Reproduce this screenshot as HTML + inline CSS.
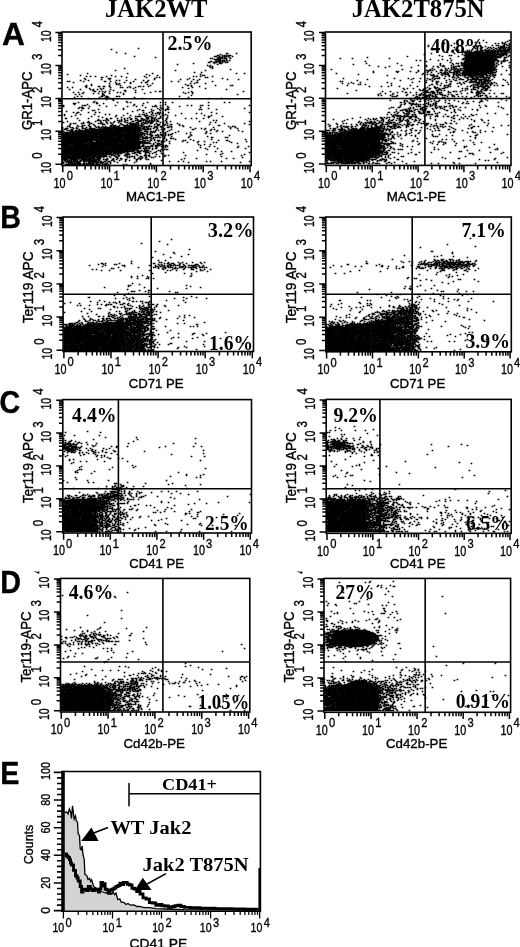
<!DOCTYPE html>
<html><head><meta charset="utf-8"><title>Figure</title>
<style>
html,body{margin:0;padding:0;background:#fff;}
body{width:520px;height:947px;overflow:hidden;}
svg{display:block;}
.f-sans{font-family:"Liberation Sans", sans-serif;stroke:#000;stroke-width:0.35px;}
.f-serif{font-family:"Liberation Serif", serif;}
text{fill:#000;}
</style></head><body>
<svg width="520" height="947" viewBox="0 0 520 947">
<rect width="520" height="947" fill="#fff"/>
<defs><clipPath id="cl1"><rect x="0" y="571.5" width="520" height="30"/></clipPath></defs>
<text class="f-serif" x="105" y="17.4" font-size="24.3" font-weight="bold" textLength="102.5" lengthAdjust="spacingAndGlyphs">JAK2WT</text>
<text class="f-serif" x="351.7" y="17.4" font-size="24.3" font-weight="bold" textLength="133" lengthAdjust="spacingAndGlyphs">JAK2T875N</text>
<text class="f-sans" transform="translate(2.0 44.6) scale(1.04 1)" font-size="30.5" font-weight="bold">A</text>
<text class="f-sans" transform="translate(0.2 227.8) scale(0.94 1)" font-size="30.5" font-weight="bold">B</text>
<text class="f-sans" transform="translate(-0.4 412.7) scale(0.94 1)" font-size="30.5" font-weight="bold">C</text>
<text class="f-sans" transform="translate(0.2 592.7) scale(0.94 1)" font-size="30.5" font-weight="bold">D</text>
<text class="f-sans" transform="translate(0.2 784.4) scale(0.94 1)" font-size="30.5" font-weight="bold">E</text>
<g>
<path d="M137.7 48.5h1.7m-28.7 1h1.7m3.3 3h1.7m7.3 1h1.7m99.3 0h2.7m7.3 0h1.7m-17.7 1h1.7m-4.7 1h2.7m2.3 0h1.7m0.3 0h1.7m0.3 0h1.7m0.3 0h3.7m-97.7 1h1.7m78.3 0h3.7m1.3 0h1.7m1.3 0h1.7m0.3 0h3.7m0.3 0h1.7m2.3 0h1.7m-78.7 1h1.7m61.3 0h1.7m0.3 0h3.7m0.3 0h1.7m3.3 0h1.7m-20.7 1h1.7m0.3 0h1.7m3.3 0h4.7m0.3 0h1.7m0.3 0h3.7m2.3 0h1.7m-17.7 1h3.7m0.3 0h3.7m4.3 0h1.7m-11.7 1h1.7m0.3 0h3.7m0.3 0h3.7m0.3 0h1.7m1.3 0h1.7m-20.7 1h2.7m2.3 0h6.7m0.3 0h1.7m0.3 0h1.7m1.3 0h1.7m-20.7 1h2.7m2.3 0h2.7m0.3 0h1.7m1.3 0h2.7m0.3 0h1.7m1.3 0h1.7m0.3 0h1.7m-35.7 1h1.7m19.3 0h1.7m3.3 0h3.7m-45.7 1h1.7m38.3 0h1.7m-11.7 1h1.7m1.3 0h1.7m-2.7 1h1.7m1.3 0h1.7m-3.7 1h1.7m0.3 0h1.7m-89.7 1h1.7m86.3 0h1.7m16.3 1h1.7m-116.7 1h1.7m58.3 0h1.7m28.3 0h1.7m-12.7 2h1.7m5.3 0h1.7m-115.7 1h1.7m38.3 0h1.7m23.3 0h1.7m82.3 0h1.7m6.3 0h1.7m-178.7 1h1.7m77.3 0h1.7m52.3 0h1.7m-121.7 1h1.7m29.3 0h1.7m36.3 0h1.7m6.3 0h1.7m43.3 0h1.7m0.3 0h1.7m-119.7 1h1.7m2.3 0h1.7m3.3 0h1.7m9.3 0h1.7m7.3 0h1.7m4.3 0h1.7m21.3 0h1.7m47.3 0h1.7m1.3 0h1.7m2.3 0h1.7m10.3 0h1.7m-112.7 1h2.7m22.3 0h1.7m18.3 0h1.7m8.3 0h1.7m1.3 0h1.7m44.3 0h1.7m0.3 0h1.7m-124.7 1h1.7m22.3 0h1.7m0.3 0h1.7m42.3 0h1.7m33.3 0h1.7m31.3 0h1.7m-138.7 1h1.7m14.3 0h1.7m6.3 0h1.7m24.3 0h1.7m17.3 0h1.7m24.3 0h1.7m5.3 0h1.7m4.3 0h1.7m4.3 0h1.7m26.3 0h1.7m9.3 0h1.7m-159.7 1h1.7m6.3 0h1.7m26.3 0h1.7m1.3 0h1.7m5.3 0h1.7m15.3 0h1.7m3.3 0h1.7m47.3 0h1.7m-131.7 1h1.7m0.3 0h1.7m12.3 0h1.7m19.3 0h2.7m3.3 0h1.7m21.3 0h1.7m12.3 0h1.7m22.3 0h1.7m5.3 0h1.7m11.3 0h1.7m19.3 0h1.7m-140.7 1h1.7m40.3 0h1.7m7.3 0h1.7m4.3 0h1.7m9.3 0h1.7m2.3 0h2.7m48.3 0h2.7m-89.7 1h1.7m5.3 0h1.7m1.3 0h1.7m9.3 0h1.7m20.3 0h1.7m36.3 0h1.7m2.3 0h1.7m9.3 0h1.7m-115.7 1h1.7m23.3 0h1.7m0.3 0h1.7m27.3 0h1.7m36.3 0h1.7m-100.7 1h1.7m3.3 0h1.7m16.3 0h1.7m9.3 0h1.7m28.3 0h1.7m35.3 0h2.7m1.3 0h1.7m22.3 0h1.7m13.3 0h1.7m0.3 0h1.7m-148.7 1h2.7m10.3 0h2.7m2.3 0h2.7m3.3 0h1.7m18.3 0h1.7m7.3 0h1.7m0.3 0h1.7m1.3 0h1.7m3.3 0h1.7m41.3 0h1.7m6.3 0h1.7m-133.7 1h1.7m3.3 0h1.7m12.3 0h1.7m22.3 0h1.7m8.3 0h1.7m0.3 0h1.7m3.3 0h1.7m1.3 0h1.7m3.3 0h1.7m45.3 0h1.7m8.3 0h1.7m-104.7 1h1.7m9.3 0h1.7m1.3 0h1.7m28.3 0h1.7m53.3 0h1.7m15.3 0h1.7m-137.7 1h1.7m9.3 0h1.7m8.3 0h1.7m1.3 0h1.7m2.3 0h1.7m2.3 0h1.7m7.3 0h1.7m30.3 0h1.7m82.3 0h1.7m-135.7 1h2.7m18.3 0h1.7m9.3 0h2.7m8.3 0h1.7m-42.7 1h2.7m2.3 0h1.7m1.3 0h1.7m1.3 0h1.7m2.3 0h1.7m14.3 0h1.7m28.3 0h1.7m2.3 0h2.7m29.3 0h1.7m50.3 0h1.7m-171.7 1h1.7m3.3 0h1.7m3.3 0h1.7m19.3 0h1.7m11.3 0h1.7m1.3 0h1.7m13.3 0h1.7m13.3 0h1.7m31.3 0h1.7m3.3 0h1.7m2.3 0h1.7m-111.7 1h1.7m9.3 0h1.7m3.3 0h1.7m2.3 0h1.7m5.3 0h1.7m12.3 0h1.7m19.3 0h1.7m39.3 0h1.7m5.3 0h1.7m-118.7 1h1.7m2.3 0h1.7m21.3 0h2.7m18.3 0h1.7m112.3 0h1.7m-136.7 1h1.7m0.3 0h1.7m85.3 0h1.7m-115.7 1h1.7m2.3 0h1.7m18.3 0h2.7m2.3 0h2.7m7.3 0h2.7m0.3 0h1.7m58.3 0h1.7m-106.7 1h1.7m23.3 0h1.7m4.3 0h2.7m0.3 0h1.7m24.3 0h1.7m52.3 0h1.7m-101.7 1h1.7m17.3 0h1.7m1.3 0h1.7m1.3 0h1.7m27.3 0h1.7m65.3 0h1.7m10.3 0h1.7m-116.7 1h1.7m4.3 0h1.7m-0.7 1h1.7m-20.7 1h1.7m30.3 0h1.7m-49.7 1h1.7m13.3 0h1.7m1.3 0h1.7m19.3 0h1.7m8.3 0h1.7m1.3 0h1.7m15.3 0h1.7m11.3 0h1.7m3.3 0h1.7m5.3 0h1.7m34.3 0h1.7m14.3 0h1.7m3.3 0h1.7m-157.7 1h3.7m19.3 0h2.7m4.3 0h1.7m38.3 0h1.7m-70.7 1h1.7m11.3 0h1.7m45.3 0h1.7m29.3 0h1.7m-103.7 1h1.7m17.3 0h1.7m0.3 0h2.7m12.3 0h1.7m14.3 0h1.7m16.3 0h1.7m7.3 0h1.7m11.3 0h1.7m3.3 0h1.7m25.3 0h1.7m2.3 0h1.7m7.3 0h1.7m0.3 0h1.7m4.3 0h1.7m39.3 0h1.7m-187.7 1h1.7m24.3 0h1.7m15.3 0h1.7m19.3 0h1.7m7.3 0h1.7m14.3 0h1.7m0.3 0h1.7m0.3 0h1.7m9.3 0h1.7m10.3 0h1.7m-101.7 1h1.7m0.3 0h2.7m61.3 0h1.7m13.3 0h1.7m6.3 0h1.7m30.3 0h1.7m-123.7 1h1.7m2.3 0h2.7m3.3 0h1.7m33.3 0h1.7m32.3 0h1.7m2.3 0h2.7m3.3 0h1.7m39.3 0h1.7m34.3 0h1.7m-147.7 1h1.7m23.3 0h1.7m14.3 0h1.7m10.3 0h1.7m6.3 0h1.7m4.3 0h1.7m0.3 0h2.7m29.3 0h1.7m0.3 0h1.7m13.3 0h1.7m-136.7 1h1.7m9.3 0h1.7m0.3 0h1.7m41.3 0h1.7m3.3 0h2.7m8.3 0h1.7m5.3 0h1.7m3.3 0h1.7m-100.7 1h1.7m64.3 0h1.7m17.3 0h1.7m-79.7 1h1.7m2.3 0h2.7m8.3 0h1.7m5.3 0h1.7m2.3 0h1.7m42.3 0h1.7m4.3 0h1.7m1.3 0h1.7m3.3 0h2.7m0.3 0h1.7m6.3 0h1.7m41.3 0h1.7m36.3 0h1.7m-174.7 1h1.7m49.3 0h1.7m17.3 0h1.7m4.3 0h1.7m1.3 0h1.7m0.3 0h1.7m0.3 0h1.7m1.3 0h1.7m17.3 0h1.7m13.3 0h1.7m3.3 0h1.7m13.3 0h1.7m-153.7 1h1.7m14.3 0h1.7m12.3 0h1.7m9.3 0h1.7m2.3 0h1.7m28.3 0h1.7m1.3 0h1.7m0.3 0h1.7m5.3 0h1.7m6.3 0h1.7m1.3 0h1.7m1.3 0h1.7m-102.7 1h1.7m9.3 0h1.7m39.3 0h1.7m5.3 0h1.7m5.3 0h1.7m12.3 0h1.7m0.3 0h2.7m4.3 0h1.7m1.3 0h1.7m4.3 0h2.7m2.3 0h1.7m6.3 0h1.7m27.3 0h1.7m5.3 0h1.7m-141.7 1h1.7m18.3 0h1.7m5.3 0h1.7m15.3 0h1.7m18.3 0h1.7m0.3 0h4.7m3.3 0h1.7m2.3 0h1.7m0.3 0h1.7m7.3 0h1.7m46.3 0h2.7m11.3 0h1.7m-121.7 1h1.7m17.3 0h1.7m6.3 0h1.7m15.3 0h3.7m1.3 0h2.7m1.3 0h1.7m3.3 0h1.7m5.3 0h1.7m39.3 0h1.7m-144.7 1h2.7m9.3 0h1.7m9.3 0h1.7m16.3 0h1.7m2.3 0h2.7m4.3 0h1.7m5.3 0h1.7m1.3 0h1.7m2.3 0h1.7m2.3 0h2.7m3.3 0h2.7m2.3 0h3.7m1.3 0h4.7m2.3 0h2.7m1.3 0h1.7m2.3 0h1.7m17.3 0h1.7m4.3 0h1.7m3.3 0h1.7m5.3 0h1.7m-106.7 1h1.7m6.3 0h2.7m12.3 0h1.7m1.3 0h1.7m4.3 0h2.7m4.3 0h1.7m2.3 0h1.7m0.3 0h2.7m1.3 0h1.7m2.3 0h1.7m1.3 0h1.7m0.3 0h1.7m8.3 0h1.7m-88.7 1h1.7m16.3 0h2.7m0.3 0h1.7m1.3 0h1.7m0.3 0h1.7m1.3 0h1.7m7.3 0h1.7m0.3 0h1.7m0.3 0h1.7m2.3 0h1.7m0.3 0h1.7m6.3 0h1.7m0.3 0h2.7m0.3 0h2.7m0.3 0h1.7m0.3 0h2.7m1.3 0h1.7m0.3 0h2.7m0.3 0h1.7m1.3 0h1.7m6.3 0h1.7m46.3 0h1.7m1.3 0h1.7m-150.7 1h1.7m19.3 0h1.7m5.3 0h1.7m3.3 0h1.7m4.3 0h1.7m6.3 0h1.7m3.3 0h1.7m0.3 0h1.7m1.3 0h1.7m6.3 0h2.7m3.3 0h3.7m4.3 0h4.7m0.3 0h1.7m0.3 0h1.7m1.3 0h1.7m0.3 0h1.7m6.3 0h1.7m2.3 0h1.7m27.3 0h1.7m48.3 0h1.7m-187.7 1h1.7m18.3 0h1.7m2.3 0h3.7m10.3 0h1.7m3.3 0h1.7m2.3 0h1.7m1.3 0h1.7m3.3 0h1.7m5.3 0h1.7m0.3 0h1.7m1.3 0h1.7m4.3 0h2.7m3.3 0h2.7m0.3 0h1.7m1.3 0h1.7m0.3 0h3.7m6.3 0h1.7m1.3 0h1.7m1.3 0h1.7m42.3 0h1.7m3.3 0h1.7m-146.7 1h1.7m1.3 0h1.7m0.3 0h1.7m4.3 0h1.7m0.3 0h1.7m4.3 0h1.7m0.3 0h1.7m5.3 0h1.7m0.3 0h1.7m0.3 0h1.7m3.3 0h1.7m2.3 0h1.7m7.3 0h1.7m7.3 0h1.7m0.3 0h3.7m0.3 0h1.7m0.3 0h2.7m1.3 0h1.7m1.3 0h4.7m1.3 0h2.7m3.3 0h1.7m9.3 0h1.7m8.3 0h1.7m45.3 0h1.7m18.3 0h1.7m-175.7 1h1.7m17.3 0h1.7m2.3 0h1.7m7.3 0h3.7m6.3 0h1.7m7.3 0h2.7m3.3 0h1.7m1.3 0h7.7m0.3 0h1.7m1.3 0h1.7m0.3 0h1.7m9.3 0h1.7m1.3 0h3.7m2.3 0h1.7m0.3 0h1.7m3.3 0h2.7m6.3 0h1.7m28.3 0h1.7m38.3 0h1.7m-181.7 1h1.7m6.3 0h1.7m3.3 0h1.7m0.3 0h1.7m2.3 0h1.7m4.3 0h1.7m14.3 0h2.7m0.3 0h1.7m0.3 0h1.7m2.3 0h1.7m2.3 0h5.7m0.3 0h10.7m0.3 0h3.7m5.3 0h1.7m6.3 0h2.7m4.3 0h1.7m1.3 0h1.7m10.3 0h1.7m1.3 0h1.7m34.3 0h2.7m-153.7 1h1.7m0.3 0h1.7m7.3 0h1.7m1.3 0h2.7m5.3 0h2.7m3.3 0h1.7m1.3 0h1.7m2.3 0h1.7m1.3 0h1.7m3.3 0h2.7m0.3 0h3.7m0.3 0h2.7m4.3 0h2.7m0.3 0h6.7m0.3 0h3.7m0.3 0h1.7m1.3 0h2.7m0.3 0h1.7m0.3 0h1.7m0.3 0h2.7m0.3 0h1.7m1.3 0h1.7m0.3 0h1.7m2.3 0h2.7m6.3 0h1.7m0.3 0h1.7m10.3 0h1.7m43.3 0h1.7m2.3 0h1.7m0.3 0h1.7m-173.7 1h1.7m6.3 0h1.7m0.3 0h1.7m2.3 0h1.7m4.3 0h1.7m2.3 0h1.7m2.3 0h1.7m4.3 0h1.7m0.3 0h2.7m0.3 0h1.7m0.3 0h7.7m0.3 0h30.7m1.3 0h2.7m0.3 0h2.7m5.3 0h2.7m0.3 0h1.7m2.3 0h1.7m4.3 0h2.7m1.3 0h1.7m17.3 0h1.7m21.3 0h1.7m15.3 0h1.7m3.3 0h1.7m-174.7 1h1.7m1.3 0h3.7m4.3 0h1.7m1.3 0h2.7m3.3 0h2.7m0.3 0h1.7m2.3 0h4.7m0.3 0h1.7m3.3 0h1.7m0.3 0h1.7m0.3 0h10.7m0.3 0h27.7m0.3 0h3.7m1.3 0h2.7m0.3 0h1.7m1.3 0h1.7m2.3 0h1.7m5.3 0h1.7m29.3 0h1.7m4.3 0h1.7m2.3 0h1.7m23.3 0h1.7m5.3 0h1.7m-174.7 1h1.7m0.3 0h1.7m3.3 0h2.7m5.3 0h1.7m4.3 0h3.7m0.3 0h1.7m0.3 0h8.7m0.3 0h41.7m1.3 0h6.7m0.3 0h1.7m4.3 0h1.7m3.3 0h1.7m0.3 0h2.7m5.3 0h1.7m19.3 0h2.7m9.3 0h1.7m5.3 0h1.7m1.3 0h1.7m-153.7 1h1.7m3.3 0h1.7m0.3 0h1.7m0.3 0h2.7m1.3 0h2.7m0.3 0h5.7m0.3 0h5.7m0.3 0h52.7m2.3 0h1.7m8.3 0h1.7m1.3 0h1.7m9.3 0h1.7m39.3 0h1.7m5.3 0h1.7m19.3 0h1.7m-176.7 1h1.7m5.3 0h4.7m0.3 0h63.7m0.3 0h1.7m3.3 0h4.7m1.3 0h2.7m0.3 0h1.7m0.3 0h1.7m5.3 0h2.7m2.3 0h1.7m9.3 0h1.7m26.3 0h1.7m8.3 0h1.7m4.3 0h1.7m18.3 0h1.7m-181.7 1h1.7m0.3 0h58.7m0.3 0h3.7m0.3 0h16.7m3.3 0h1.7m1.3 0h1.7m0.3 0h1.7m0.3 0h1.7m4.3 0h1.7m3.3 0h1.7m8.3 0h1.7m13.3 0h1.7m14.3 0h1.7m-145.7 1h2.7m0.3 0h6.7m0.3 0h15.7m0.3 0h35.7m0.3 0h15.7m0.3 0h1.7m0.3 0h3.7m0.3 0h1.7m2.3 0h1.7m12.3 0h2.7m5.3 0h1.7m12.3 0h1.7m17.3 0h1.7m3.3 0h1.7m-149.7 1h81.7m0.3 0h1.7m1.3 0h1.7m0.3 0h3.7m4.3 0h1.7m1.3 0h2.7m2.3 0h1.7m1.3 0h1.7m0.3 0h2.7m17.3 0h1.7m-129.7 1h36.7m0.3 0h33.7m0.3 0h7.7m0.3 0h1.7m1.3 0h1.7m4.3 0h1.7m0.3 0h1.7m1.3 0h2.7m0.3 0h1.7m1.3 0h1.7m0.3 0h1.7m0.3 0h1.7m1.3 0h1.7m21.3 0h1.7m36.3 0h1.7m-168.7 1h53.7m0.3 0h23.7m0.3 0h1.7m0.3 0h1.7m2.3 0h1.7m3.3 0h1.7m5.3 0h1.7m4.3 0h1.7m5.3 0h1.7m16.3 0h1.7m16.3 0h1.7m-146.7 1h61.7m0.3 0h17.7m0.3 0h2.7m0.3 0h3.7m0.3 0h2.7m1.3 0h1.7m0.3 0h1.7m0.3 0h1.7m0.3 0h2.7m2.3 0h1.7m22.3 0h1.7m21.3 0h2.7m11.3 0h1.7m0.3 0h1.7m-165.7 1h35.7m0.3 0h7.7m0.3 0h15.7m0.3 0h16.7m2.3 0h6.7m2.3 0h1.7m0.3 0h1.7m9.3 0h1.7m4.3 0h2.7m0.3 0h1.7m-111.7 1h78.7m0.3 0h1.7m6.3 0h1.7m2.3 0h1.7m7.3 0h1.7m1.3 0h1.7m7.3 0h1.7m13.3 0h1.7m19.3 0h1.7m32.3 0h1.7m-184.7 1h31.7m0.3 0h45.7m3.3 0h1.7m0.3 0h1.7m0.3 0h1.7m1.3 0h2.7m1.3 0h1.7m1.3 0h3.7m1.3 0h1.7m2.3 0h1.7m15.3 0h1.7m0.3 0h1.7m6.3 0h1.7m23.3 0h1.7m6.3 0h2.7m-166.7 1h26.7m0.3 0h4.7m2.3 0h7.7m0.3 0h26.7m0.3 0h12.7m0.3 0h1.7m3.3 0h1.7m7.3 0h1.7m1.3 0h4.7m3.3 0h1.7m11.3 0h1.7m14.3 0h1.7m4.3 0h1.7m23.3 0h1.7m15.3 0h1.7m-185.7 1h3.7m0.3 0h52.7m0.3 0h6.7m0.3 0h23.7m5.3 0h1.7m4.3 0h1.7m24.3 0h1.7m8.3 0h1.7m14.3 0h1.7m1.3 0h1.7m13.3 0h1.7m-170.7 1h22.7m0.3 0h2.7m0.3 0h33.7m0.3 0h19.7m0.3 0h1.7m0.3 0h1.7m0.3 0h2.7m0.3 0h2.7m1.3 0h1.7m2.3 0h3.7m1.3 0h1.7m5.3 0h1.7m66.3 0h1.7m-176.7 1h9.7m0.3 0h68.7m2.3 0h1.7m8.3 0h1.7m2.3 0h2.7m0.3 0h2.7m35.3 0h1.7m4.3 0h1.7m4.3 0h1.7m-149.7 1h6.7m0.3 0h3.7m0.3 0h15.7m0.3 0h51.7m1.3 0h2.7m6.3 0h2.7m1.3 0h3.7m0.3 0h1.7m1.3 0h2.7m0.3 0h2.7m32.3 0h1.7m-139.7 1h78.7m0.3 0h3.7m0.3 0h1.7m0.3 0h2.7m0.3 0h1.7m0.3 0h1.7m1.3 0h1.7m0.3 0h1.7m2.3 0h1.7m0.3 0h1.7m0.3 0h1.7m0.3 0h1.7m40.3 0h1.7m3.3 0h1.7m22.3 0h1.7m8.3 0h1.7m-186.7 1h78.7m3.3 0h2.7m1.3 0h1.7m5.3 0h1.7m4.3 0h1.7m1.3 0h1.7m33.3 0h1.7m35.3 0h1.7m-176.7 1h45.7m0.3 0h2.7m0.3 0h30.7m1.3 0h2.7m0.3 0h1.7m0.3 0h2.7m1.3 0h1.7m1.3 0h2.7m4.3 0h1.7m41.3 0h1.7m10.3 0h1.7m26.3 0h1.7m-184.7 1h1.7m0.3 0h34.7m0.3 0h37.7m0.3 0h1.7m5.3 0h1.7m0.3 0h1.7m4.3 0h1.7m7.3 0h1.7m1.3 0h1.7m0.3 0h2.7m38.3 0h1.7m-146.7 1h67.7m0.3 0h1.7m0.3 0h3.7m0.3 0h1.7m0.3 0h1.7m1.3 0h1.7m1.3 0h2.7m0.3 0h2.7m8.3 0h1.7m0.3 0h1.7m35.3 0h1.7m-136.7 1h61.7m0.3 0h10.7m2.3 0h4.7m1.3 0h5.7m1.3 0h1.7m4.3 0h1.7m2.3 0h1.7m53.3 0h1.7m4.3 0h1.7m8.3 0h1.7m-169.7 1h41.7m0.3 0h7.7m0.3 0h8.7m0.3 0h3.7m1.3 0h1.7m5.3 0h2.7m0.3 0h3.7m4.3 0h4.7m4.3 0h2.7m26.3 0h1.7m64.3 0h1.7m-188.7 1h50.7m0.3 0h3.7m0.3 0h2.7m0.3 0h2.7m3.3 0h1.7m0.3 0h1.7m2.3 0h1.7m0.3 0h1.7m3.3 0h2.7m3.3 0h1.7m2.3 0h1.7m1.3 0h1.7m7.3 0h1.7m59.3 0h1.7m-161.7 1h45.7m0.3 0h3.7m0.3 0h1.7m1.3 0h1.7m0.3 0h2.7m5.3 0h1.7m0.3 0h1.7m0.3 0h1.7m5.3 0h1.7m7.3 0h1.7m9.3 0h1.7m5.3 0h1.7m41.3 0h1.7m12.3 0h1.7m22.3 0h1.7m-183.7 1h1.7m0.3 0h6.7m0.3 0h20.7m0.3 0h5.7m0.3 0h4.7m0.3 0h2.7m0.3 0h1.7m3.3 0h1.7m0.3 0h2.7m2.3 0h2.7m3.3 0h2.7m0.3 0h1.7m8.3 0h1.7m5.3 0h1.7m0.3 0h1.7m0.3 0h2.7m14.3 0h1.7m1.3 0h1.7m15.3 0h1.7m54.3 0h1.7m-180.7 1h34.7m0.3 0h10.7m1.3 0h1.7m4.3 0h2.7m0.3 0h1.7m6.3 0h1.7m1.3 0h1.7m0.3 0h2.7m0.3 0h1.7m4.3 0h2.7m2.3 0h1.7m2.3 0h1.7m4.3 0h1.7m2.3 0h1.7m3.3 0h1.7m55.3 0h1.7m-160.7 1h23.7m0.3 0h2.7m0.3 0h2.7m0.3 0h3.7m0.3 0h5.7m1.3 0h1.7m5.3 0h1.7m4.3 0h2.7m8.3 0h1.7m0.3 0h1.7m3.3 0h1.7m3.3 0h1.7m1.3 0h1.7m2.3 0h1.7m3.3 0h1.7m0.3 0h1.7m87.3 0h1.7m-180.7 1h3.7m0.3 0h20.7m0.3 0h7.7m1.3 0h4.7m5.3 0h1.7m4.3 0h1.7m2.3 0h1.7m1.3 0h2.7m11.3 0h1.7m2.3 0h1.7m0.3 0h2.7m2.3 0h1.7m37.3 0h1.7m10.3 0h1.7m28.3 0h1.7m5.3 0h1.7m-172.7 1h6.7m1.3 0h7.7m0.3 0h1.7m1.3 0h11.7m0.3 0h7.7m2.3 0h1.7m0.3 0h3.7m3.3 0h2.7m1.3 0h1.7m3.3 0h1.7m2.3 0h2.7m8.3 0h2.7m1.3 0h1.7m4.3 0h1.7m0.3 0h1.7m31.3 0h1.7m-120.7 1h1.7m0.3 0h2.7m0.3 0h1.7m0.3 0h1.7m0.3 0h1.7m0.3 0h3.7m0.3 0h1.7m1.3 0h2.7m0.3 0h3.7m0.3 0h10.7m0.3 0h2.7m5.3 0h1.7m3.3 0h1.7m0.3 0h1.7m4.3 0h1.7m4.3 0h1.7m2.3 0h1.7m5.3 0h1.7m23.3 0h1.7m-100.7 1h1.7m1.3 0h1.7m0.3 0h5.7m0.3 0h2.7m0.3 0h2.7m0.3 0h2.7m1.3 0h2.7m0.3 0h1.7m0.3 0h9.7m0.3 0h1.7m0.3 0h2.7m1.3 0h2.7m1.3 0h2.7m3.3 0h1.7m9.3 0h1.7m9.3 0h1.7m31.3 0h1.7m7.3 0h1.7m3.3 0h1.7m21.3 0h1.7m2.3 0h1.7m9.3 0h1.7m26.3 0h1.7m-188.7 1h2.7m1.3 0h1.7m0.3 0h5.7m0.3 0h2.7m0.3 0h3.7m3.3 0h1.7m2.3 0h2.7m0.3 0h1.7m0.3 0h3.7m0.3 0h2.7m0.3 0h4.7m2.3 0h1.7m1.3 0h1.7m5.3 0h1.7m15.3 0h1.7m52.3 0h1.7m50.3 0h1.7m-179.7 1h2.7m3.3 0h1.7m0.3 0h3.7m0.3 0h1.7m0.3 0h5.7m1.3 0h2.7m0.3 0h1.7m0.3 0h6.7m1.3 0h2.7m1.3 0h1.7m0.3 0h1.7m1.3 0h2.7m2.3 0h1.7m38.3 0h1.7m-86.7 1h5.7m0.3 0h5.7m0.3 0h4.7m0.3 0h3.7m0.3 0h2.7m0.3 0h2.7m0.3 0h2.7m0.3 0h5.7m1.3 0h1.7m0.3 0h3.7m0.3 0h1.7m13.3 0h1.7m1.3 0h1.7m22.3 0h1.7" stroke="#000" stroke-width="1.7" fill="none"/>
<rect x="62" y="32" width="189.2" height="133.5" fill="none" stroke="#000" stroke-width="1.6"/>
<path d="M163 32V165.5M62 98.7H251.2" stroke="#000" stroke-width="1.6" fill="none"/>
<path d="M62.8 165.5v6.8M109.6 165.5v6.8M156.4 165.5v6.8M203.2 165.5v6.8M250.0 165.5v6.8M76.9 165.5v4M85.1 165.5v4M91.0 165.5v4M95.5 165.5v4M99.2 165.5v4M102.4 165.5v4M105.1 165.5v4M107.5 165.5v4M123.7 165.5v4M131.9 165.5v4M137.8 165.5v4M142.3 165.5v4M146.0 165.5v4M149.2 165.5v4M151.9 165.5v4M154.3 165.5v4M170.5 165.5v4M178.7 165.5v4M184.6 165.5v4M189.1 165.5v4M192.8 165.5v4M196.0 165.5v4M198.7 165.5v4M201.1 165.5v4M217.3 165.5v4M225.5 165.5v4M231.4 165.5v4M235.9 165.5v4M239.6 165.5v4M242.8 165.5v4M245.5 165.5v4M247.9 165.5v4M62 164.2h-6.6M62 131.3h-6.6M62 98.4h-6.6M62 65.5h-6.6M62 32.6h-6.6M62 154.3h-3.9M62 148.5h-3.9M62 144.4h-3.9M62 141.2h-3.9M62 138.6h-3.9M62 136.4h-3.9M62 134.5h-3.9M62 132.8h-3.9M62 121.4h-3.9M62 115.6h-3.9M62 111.5h-3.9M62 108.3h-3.9M62 105.7h-3.9M62 103.5h-3.9M62 101.6h-3.9M62 99.9h-3.9M62 88.5h-3.9M62 82.7h-3.9M62 78.6h-3.9M62 75.4h-3.9M62 72.8h-3.9M62 70.6h-3.9M62 68.7h-3.9M62 67.0h-3.9M62 55.6h-3.9M62 49.8h-3.9M62 45.7h-3.9M62 42.5h-3.9M62 39.9h-3.9M62 37.7h-3.9M62 35.8h-3.9M62 34.1h-3.9" stroke="#000" stroke-width="1.5" fill="none"/>
<text class="f-sans" x="53.6" y="187.7" font-size="14" textLength="12" lengthAdjust="spacingAndGlyphs">10</text>
<text class="f-sans" x="66.8" y="180.2" font-size="13.5" textLength="6.2" lengthAdjust="spacingAndGlyphs">0</text>
<text class="f-sans" x="100.4" y="187.7" font-size="14" textLength="12" lengthAdjust="spacingAndGlyphs">10</text>
<text class="f-sans" x="113.6" y="180.2" font-size="13.5" textLength="6.2" lengthAdjust="spacingAndGlyphs">1</text>
<text class="f-sans" x="147.2" y="187.7" font-size="14" textLength="12" lengthAdjust="spacingAndGlyphs">10</text>
<text class="f-sans" x="160.4" y="180.2" font-size="13.5" textLength="6.2" lengthAdjust="spacingAndGlyphs">2</text>
<text class="f-sans" x="194.0" y="187.7" font-size="14" textLength="12" lengthAdjust="spacingAndGlyphs">10</text>
<text class="f-sans" x="207.2" y="180.2" font-size="13.5" textLength="6.2" lengthAdjust="spacingAndGlyphs">3</text>
<text class="f-sans" x="240.8" y="187.7" font-size="14" textLength="12" lengthAdjust="spacingAndGlyphs">10</text>
<text class="f-sans" x="254.0" y="180.2" font-size="13.5" textLength="6.2" lengthAdjust="spacingAndGlyphs">4</text>
<text class="f-sans" transform="translate(50.6 173.6) rotate(-90)" font-size="14.6" textLength="11.7" lengthAdjust="spacingAndGlyphs">10</text>
<text class="f-sans" transform="translate(42.4 158.8) rotate(-90)" font-size="13.8" textLength="6.4" lengthAdjust="spacingAndGlyphs">0</text>
<text class="f-sans" transform="translate(50.6 140.7) rotate(-90)" font-size="14.6" textLength="11.7" lengthAdjust="spacingAndGlyphs">10</text>
<text class="f-sans" transform="translate(42.4 125.9) rotate(-90)" font-size="13.8" textLength="6.4" lengthAdjust="spacingAndGlyphs">1</text>
<text class="f-sans" transform="translate(50.6 107.8) rotate(-90)" font-size="14.6" textLength="11.7" lengthAdjust="spacingAndGlyphs">10</text>
<text class="f-sans" transform="translate(42.4 93.0) rotate(-90)" font-size="13.8" textLength="6.4" lengthAdjust="spacingAndGlyphs">2</text>
<text class="f-sans" transform="translate(50.6 74.9) rotate(-90)" font-size="14.6" textLength="11.7" lengthAdjust="spacingAndGlyphs">10</text>
<text class="f-sans" transform="translate(42.4 60.1) rotate(-90)" font-size="13.8" textLength="6.4" lengthAdjust="spacingAndGlyphs">3</text>
<text class="f-sans" transform="translate(50.6 42.0) rotate(-90)" font-size="14.6" textLength="11.7" lengthAdjust="spacingAndGlyphs">10</text>
<text class="f-sans" transform="translate(42.4 27.2) rotate(-90)" font-size="13.8" textLength="6.4" lengthAdjust="spacingAndGlyphs">4</text>
<text class="f-sans" x="126" y="201.3" font-size="13.2" textLength="59" lengthAdjust="spacingAndGlyphs">MAC1-PE</text>
<text class="f-sans" transform="translate(31.8 130) rotate(-90)" font-size="13.8" textLength="58.4" lengthAdjust="spacingAndGlyphs">GR1-APC</text>
<text class="f-serif" x="167.5" y="50" font-size="20" font-weight="bold" textLength="45" lengthAdjust="spacingAndGlyphs">2.5%</text>
</g>
<g>
<path d="M482.6 40.5h1.7m24.3 0h1.7m-3.7 1h1.7m-33.7 1h1.7m2.3 0h1.7m5.3 0h1.7m14.3 0h1.7m1.3 0h1.7m-62.7 1h1.7m8.3 0h1.7m23.3 0h1.7m14.3 0h1.7m1.3 0h1.7m2.3 0h1.7m0.3 0h1.7m3.3 0h1.7m-53.7 1h1.7m45.3 0h1.7m0.3 0h1.7m1.3 0h1.7m-82.7 1h1.7m21.3 0h1.7m13.3 0h1.7m7.3 0h2.7m2.3 0h1.7m10.3 0h1.7m2.3 0h1.7m0.3 0h1.7m3.3 0h2.7m1.3 0h1.7m0.3 0h1.7m-82.7 1h1.7m43.3 0h1.7m1.3 0h1.7m2.3 0h1.7m3.3 0h1.7m13.3 0h3.7m0.3 0h1.7m3.3 0h1.7m-56.7 1h1.7m18.3 0h1.7m6.3 0h1.7m4.3 0h1.7m0.3 0h1.7m1.3 0h1.7m3.3 0h1.7m0.3 0h5.7m0.3 0h1.7m0.3 0h2.7m-35.7 1h1.7m3.3 0h1.7m5.3 0h1.7m2.3 0h1.7m2.3 0h2.7m1.3 0h3.7m0.3 0h1.7m0.3 0h1.7m1.3 0h2.7m-78.7 1h1.7m21.3 0h1.7m15.3 0h1.7m11.3 0h1.7m2.3 0h1.7m2.3 0h1.7m2.3 0h1.7m0.3 0h2.7m1.3 0h3.7m0.3 0h3.7m-52.7 1h1.7m7.3 0h1.7m0.3 0h1.7m9.3 0h4.7m0.3 0h5.7m0.3 0h2.7m0.3 0h2.7m0.3 0h1.7m0.3 0h11.7m-47.7 1h1.7m0.3 0h1.7m0.3 0h1.7m0.3 0h1.7m3.3 0h4.7m0.3 0h1.7m0.3 0h2.7m1.3 0h1.7m0.3 0h2.7m0.3 0h13.7m0.3 0h5.7m-62.7 1h1.7m9.3 0h1.7m2.3 0h1.7m0.3 0h1.7m0.3 0h13.7m0.3 0h1.7m0.3 0h14.7m0.3 0h2.7m1.3 0h1.7m0.3 0h4.7m1.3 0h1.7m-79.7 1h1.7m21.3 0h1.7m9.3 0h3.7m0.3 0h16.7m0.3 0h10.7m0.3 0h2.7m0.3 0h6.7m0.3 0h1.7m-84.7 1h1.7m36.3 0h1.7m1.3 0h30.7m0.3 0h4.7m0.3 0h6.7m-68.7 1h1.7m8.3 0h1.7m0.3 0h1.7m11.3 0h33.7m1.3 0h5.7m1.3 0h1.7m1.3 0h1.7m-103.7 1h1.7m33.3 0h1.7m14.3 0h1.7m5.3 0h34.7m0.3 0h2.7m5.3 0h1.7m-142.7 1h1.7m96.3 0h29.7m0.3 0h1.7m0.3 0h4.7m2.3 0h3.7m-167.7 1h1.7m10.3 0h1.7m35.3 0h1.7m59.3 0h1.7m11.3 0h34.7m6.3 0h1.7m-75.7 1h1.7m10.3 0h1.7m18.3 0h2.7m0.3 0h32.7m6.3 0h1.7m-89.7 1h1.7m2.3 0h1.7m16.3 0h1.7m7.3 0h1.7m2.3 0h1.7m12.3 0h34.7m3.3 0h1.7m0.3 0h1.7m0.3 0h1.7m-143.7 1h1.7m59.3 0h1.7m36.3 0h31.7m2.3 0h1.7m1.3 0h1.7m0.3 0h2.7m-55.7 1h1.7m9.3 0h1.7m1.3 0h5.7m0.3 0h25.7m1.3 0h1.7m2.3 0h1.7m6.3 0h1.7m-144.7 1h1.7m29.3 0h1.7m41.3 0h1.7m10.3 0h1.7m2.3 0h1.7m0.3 0h1.7m1.3 0h33.7m1.3 0h1.7m3.3 0h1.7m-149.7 1h1.7m85.3 0h1.7m11.3 0h1.7m7.3 0h1.7m0.3 0h31.7m2.3 0h1.7m-130.7 1h1.7m30.3 0h1.7m15.3 0h1.7m6.3 0h1.7m12.3 0h1.7m1.3 0h1.7m6.3 0h1.7m5.3 0h1.7m1.3 0h1.7m0.3 0h32.7m0.3 0h1.7m11.3 0h1.7m-132.7 1h1.7m9.3 0h1.7m35.3 0h1.7m5.3 0h1.7m2.3 0h1.7m3.3 0h1.7m0.3 0h1.7m7.3 0h1.7m0.3 0h2.7m0.3 0h2.7m2.3 0h31.7m1.3 0h1.7m4.3 0h1.7m-118.7 1h1.7m24.3 0h1.7m25.3 0h1.7m11.3 0h1.7m0.3 0h2.7m8.3 0h32.7m12.3 0h1.7m-78.7 1h1.7m11.3 0h1.7m1.3 0h1.7m1.3 0h1.7m1.3 0h1.7m0.3 0h1.7m2.3 0h1.7m0.3 0h33.7m-164.7 1h1.7m69.3 0h1.7m26.3 0h1.7m2.3 0h1.7m5.3 0h1.7m3.3 0h1.7m3.3 0h1.7m0.3 0h1.7m0.3 0h1.7m0.3 0h2.7m0.3 0h1.7m2.3 0h33.7m-79.7 1h1.7m6.3 0h2.7m0.3 0h2.7m0.3 0h1.7m6.3 0h3.7m1.3 0h1.7m0.3 0h1.7m1.3 0h1.7m2.3 0h1.7m1.3 0h2.7m0.3 0h2.7m0.3 0h32.7m10.3 0h1.7m-134.7 1h1.7m21.3 0h1.7m0.3 0h1.7m10.3 0h1.7m6.3 0h1.7m8.3 0h1.7m6.3 0h1.7m7.3 0h1.7m2.3 0h1.7m3.3 0h6.7m2.3 0h1.7m0.3 0h28.7m2.3 0h1.7m-124.7 1h1.7m22.3 0h1.7m17.3 0h1.7m9.3 0h1.7m2.3 0h1.7m7.3 0h2.7m1.3 0h2.7m0.3 0h1.7m1.3 0h2.7m0.3 0h2.7m0.3 0h2.7m0.3 0h1.7m1.3 0h17.7m0.3 0h9.7m0.3 0h1.7m0.3 0h4.7m-160.7 1h1.7m85.3 0h1.7m13.3 0h1.7m2.3 0h4.7m0.3 0h2.7m3.3 0h2.7m0.3 0h2.7m1.3 0h1.7m0.3 0h22.7m0.3 0h2.7m0.3 0h5.7m-135.7 1h1.7m62.3 0h1.7m3.3 0h1.7m1.3 0h1.7m1.3 0h1.7m6.3 0h1.7m1.3 0h5.7m3.3 0h2.7m0.3 0h1.7m0.3 0h2.7m1.3 0h25.7m2.3 0h1.7m1.3 0h1.7m0.3 0h1.7m4.3 0h1.7m6.3 0h1.7m-123.7 1h1.7m42.3 0h4.7m1.3 0h1.7m3.3 0h1.7m4.3 0h2.7m2.3 0h1.7m1.3 0h1.7m0.3 0h1.7m0.3 0h1.7m0.3 0h1.7m0.3 0h3.7m0.3 0h5.7m0.3 0h2.7m0.3 0h2.7m0.3 0h4.7m1.3 0h2.7m0.3 0h1.7m1.3 0h1.7m0.3 0h2.7m-63.7 1h2.7m0.3 0h2.7m6.3 0h1.7m2.3 0h1.7m2.3 0h1.7m2.3 0h1.7m5.3 0h1.7m3.3 0h5.7m0.3 0h2.7m1.3 0h2.7m0.3 0h2.7m1.3 0h1.7m2.3 0h1.7m1.3 0h1.7m-61.7 1h1.7m4.3 0h1.7m11.3 0h1.7m0.3 0h1.7m2.3 0h1.7m5.3 0h1.7m0.3 0h2.7m1.3 0h3.7m1.3 0h3.7m0.3 0h5.7m0.3 0h4.7m3.3 0h1.7m-152.7 1h1.7m49.3 0h1.7m12.3 0h1.7m3.3 0h1.7m5.3 0h1.7m5.3 0h1.7m3.3 0h1.7m1.3 0h1.7m0.3 0h3.7m3.3 0h1.7m10.3 0h1.7m2.3 0h1.7m5.3 0h1.7m3.3 0h3.7m0.3 0h2.7m5.3 0h2.7m1.3 0h2.7m-123.7 1h1.7m42.3 0h1.7m16.3 0h2.7m2.3 0h1.7m13.3 0h1.7m2.3 0h1.7m4.3 0h1.7m0.3 0h3.7m3.3 0h1.7m0.3 0h1.7m0.3 0h13.7m0.3 0h1.7m0.3 0h1.7m2.3 0h1.7m9.3 0h1.7m-147.7 1h1.7m41.3 0h1.7m24.3 0h1.7m4.3 0h1.7m12.3 0h1.7m7.3 0h2.7m9.3 0h1.7m2.3 0h1.7m2.3 0h2.7m1.3 0h3.7m1.3 0h5.7m0.3 0h1.7m13.3 0h1.7m-166.7 1h1.7m0.3 0h1.7m75.3 0h1.7m11.3 0h1.7m2.3 0h1.7m0.3 0h1.7m10.3 0h2.7m12.3 0h2.7m2.3 0h1.7m0.3 0h1.7m0.3 0h1.7m0.3 0h1.7m1.3 0h1.7m0.3 0h1.7m0.3 0h3.7m0.3 0h1.7m0.3 0h1.7m-139.7 1h1.7m7.3 0h1.7m25.3 0h1.7m23.3 0h1.7m11.3 0h2.7m8.3 0h2.7m7.3 0h1.7m11.3 0h1.7m2.3 0h1.7m4.3 0h1.7m0.3 0h1.7m0.3 0h1.7m0.3 0h5.7m0.3 0h2.7m0.3 0h2.7m1.3 0h1.7m1.3 0h1.7m1.3 0h1.7m11.3 0h1.7m-166.7 1h1.7m4.3 0h1.7m3.3 0h1.7m36.3 0h1.7m43.3 0h1.7m3.3 0h1.7m7.3 0h1.7m5.3 0h1.7m1.3 0h1.7m2.3 0h1.7m11.3 0h3.7m0.3 0h1.7m0.3 0h3.7m0.3 0h2.7m0.3 0h1.7m0.3 0h1.7m2.3 0h1.7m-139.7 1h1.7m0.3 0h1.7m3.3 0h1.7m64.3 0h2.7m3.3 0h1.7m10.3 0h2.7m9.3 0h1.7m10.3 0h1.7m0.3 0h1.7m0.3 0h2.7m1.3 0h3.7m1.3 0h1.7m2.3 0h2.7m15.3 0h1.7m-162.7 1h1.7m42.3 0h1.7m17.3 0h1.7m17.3 0h1.7m9.3 0h1.7m2.3 0h1.7m0.3 0h1.7m0.3 0h1.7m21.3 0h1.7m0.3 0h1.7m1.3 0h2.7m1.3 0h1.7m0.3 0h1.7m1.3 0h3.7m1.3 0h1.7m2.3 0h1.7m1.3 0h1.7m3.3 0h2.7m-135.7 1h1.7m10.3 0h1.7m5.3 0h1.7m9.3 0h1.7m16.3 0h1.7m15.3 0h1.7m8.3 0h1.7m2.3 0h1.7m0.3 0h1.7m6.3 0h1.7m7.3 0h1.7m1.3 0h1.7m2.3 0h1.7m2.3 0h4.7m0.3 0h3.7m0.3 0h2.7m-62.7 1h1.7m5.3 0h2.7m0.3 0h1.7m6.3 0h1.7m0.3 0h1.7m24.3 0h3.7m0.3 0h2.7m2.3 0h1.7m0.3 0h1.7m2.3 0h2.7m-153.7 1h1.7m64.3 0h1.7m2.3 0h1.7m4.3 0h1.7m9.3 0h2.7m2.3 0h2.7m3.3 0h2.7m1.3 0h1.7m1.3 0h3.7m16.3 0h1.7m1.3 0h1.7m0.3 0h1.7m4.3 0h1.7m3.3 0h1.7m3.3 0h1.7m0.3 0h3.7m-84.7 1h1.7m13.3 0h1.7m2.3 0h1.7m4.3 0h1.7m7.3 0h3.7m25.3 0h1.7m2.3 0h1.7m0.3 0h3.7m4.3 0h2.7m1.3 0h3.7m-132.7 1h1.7m62.3 0h1.7m0.3 0h2.7m1.3 0h2.7m7.3 0h3.7m1.3 0h1.7m1.3 0h1.7m16.3 0h1.7m1.3 0h1.7m10.3 0h1.7m2.3 0h1.7m1.3 0h3.7m2.3 0h1.7m-109.7 1h1.7m6.3 0h1.7m10.3 0h1.7m21.3 0h1.7m0.3 0h1.7m2.3 0h3.7m2.3 0h1.7m9.3 0h1.7m3.3 0h2.7m0.3 0h1.7m2.3 0h1.7m9.3 0h1.7m4.3 0h2.7m0.3 0h2.7m-85.7 1h1.7m6.3 0h2.7m2.3 0h1.7m4.3 0h1.7m5.3 0h1.7m0.3 0h4.7m0.3 0h1.7m0.3 0h3.7m1.3 0h1.7m0.3 0h1.7m0.3 0h1.7m5.3 0h1.7m0.3 0h1.7m19.3 0h2.7m2.3 0h4.7m1.3 0h1.7m-136.7 1h1.7m31.3 0h1.7m3.3 0h1.7m6.3 0h1.7m26.3 0h1.7m9.3 0h3.7m3.3 0h2.7m19.3 0h1.7m4.3 0h1.7m7.3 0h1.7m0.3 0h1.7m0.3 0h1.7m1.3 0h2.7m3.3 0h1.7m3.3 0h1.7m5.3 0h1.7m0.3 0h1.7m-126.7 1h1.7m12.3 0h1.7m13.3 0h1.7m7.3 0h1.7m1.3 0h1.7m0.3 0h1.7m0.3 0h3.7m2.3 0h2.7m3.3 0h1.7m0.3 0h1.7m1.3 0h3.7m4.3 0h1.7m1.3 0h1.7m3.3 0h2.7m18.3 0h2.7m-101.7 1h1.7m1.3 0h1.7m7.3 0h1.7m5.3 0h1.7m7.3 0h1.7m5.3 0h1.7m4.3 0h2.7m1.3 0h1.7m1.3 0h3.7m0.3 0h1.7m0.3 0h1.7m1.3 0h1.7m5.3 0h1.7m0.3 0h2.7m5.3 0h2.7m21.3 0h2.7m1.3 0h1.7m0.3 0h1.7m1.3 0h2.7m-95.7 1h1.7m0.3 0h1.7m0.3 0h1.7m18.3 0h2.7m6.3 0h3.7m0.3 0h1.7m1.3 0h2.7m0.3 0h2.7m9.3 0h1.7m3.3 0h1.7m0.3 0h1.7m2.3 0h1.7m2.3 0h1.7m2.3 0h1.7m6.3 0h1.7m2.3 0h1.7m0.3 0h1.7m4.3 0h1.7m2.3 0h1.7m4.3 0h1.7m8.3 0h1.7m-92.7 1h1.7m0.3 0h1.7m0.3 0h1.7m1.3 0h5.7m1.3 0h1.7m4.3 0h1.7m0.3 0h1.7m3.3 0h1.7m0.3 0h1.7m25.3 0h1.7m14.3 0h1.7m20.3 0h1.7m-100.7 1h2.7m1.3 0h1.7m0.3 0h1.7m0.3 0h1.7m4.3 0h1.7m2.3 0h3.7m0.3 0h1.7m0.3 0h1.7m3.3 0h1.7m7.3 0h1.7m15.3 0h1.7m3.3 0h1.7m-61.7 1h1.7m5.3 0h1.7m1.3 0h1.7m4.3 0h1.7m2.3 0h1.7m33.3 0h1.7m14.3 0h1.7m2.3 0h1.7m14.3 0h1.7m-112.7 1h1.7m12.3 0h1.7m0.3 0h1.7m3.3 0h2.7m0.3 0h1.7m8.3 0h1.7m2.3 0h1.7m4.3 0h1.7m3.3 0h1.7m4.3 0h1.7m2.3 0h1.7m3.3 0h1.7m25.3 0h1.7m4.3 0h1.7m17.3 0h1.7m-103.7 1h1.7m1.3 0h1.7m3.3 0h2.7m4.3 0h2.7m3.3 0h1.7m4.3 0h1.7m3.3 0h1.7m0.3 0h1.7m18.3 0h1.7m7.3 0h1.7m4.3 0h1.7m5.3 0h1.7m0.3 0h1.7m-83.7 1h2.7m1.3 0h1.7m3.3 0h1.7m17.3 0h1.7m5.3 0h1.7m8.3 0h1.7m16.3 0h1.7m14.3 0h1.7m17.3 0h1.7m-94.7 1h1.7m2.3 0h2.7m0.3 0h2.7m1.3 0h1.7m8.3 0h1.7m0.3 0h1.7m3.3 0h1.7m0.3 0h2.7m10.3 0h2.7m11.3 0h1.7m2.3 0h1.7m0.3 0h1.7m-68.7 1h1.7m1.3 0h1.7m5.3 0h2.7m0.3 0h3.7m0.3 0h1.7m0.3 0h1.7m1.3 0h1.7m3.3 0h1.7m0.3 0h1.7m1.3 0h1.7m0.3 0h1.7m-36.7 1h1.7m9.3 0h1.7m5.3 0h1.7m5.3 0h1.7m3.3 0h1.7m0.3 0h1.7m1.3 0h2.7m12.3 0h1.7m0.3 0h1.7m25.3 0h1.7m4.3 0h1.7m-86.7 1h1.7m14.3 0h1.7m0.3 0h3.7m2.3 0h1.7m0.3 0h2.7m1.3 0h1.7m3.3 0h1.7m2.3 0h1.7m0.3 0h1.7m1.3 0h1.7m0.3 0h1.7m1.3 0h1.7m1.3 0h1.7m1.3 0h2.7m28.3 0h1.7m10.3 0h1.7m-108.7 1h1.7m0.3 0h1.7m3.3 0h2.7m9.3 0h1.7m1.3 0h1.7m7.3 0h3.7m9.3 0h1.7m0.3 0h1.7m1.3 0h1.7m2.3 0h1.7m7.3 0h1.7m5.3 0h1.7m3.3 0h1.7m13.3 0h1.7m19.3 0h1.7m-113.7 1h1.7m17.3 0h1.7m0.3 0h1.7m1.3 0h1.7m5.3 0h3.7m2.3 0h1.7m4.3 0h1.7m2.3 0h1.7m2.3 0h1.7m0.3 0h1.7m6.3 0h1.7m51.3 0h1.7m-108.7 1h1.7m5.3 0h1.7m0.3 0h2.7m1.3 0h1.7m4.3 0h1.7m0.3 0h1.7m1.3 0h1.7m0.3 0h1.7m0.3 0h2.7m6.3 0h1.7m9.3 0h1.7m8.3 0h1.7m2.3 0h1.7m12.3 0h1.7m3.3 0h1.7m-78.7 1h3.7m1.3 0h1.7m0.3 0h1.7m0.3 0h1.7m0.3 0h1.7m1.3 0h1.7m6.3 0h4.7m19.3 0h2.7m5.3 0h1.7m4.3 0h1.7m15.3 0h1.7m-82.7 1h1.7m8.3 0h2.7m0.3 0h4.7m4.3 0h2.7m2.3 0h1.7m2.3 0h3.7m3.3 0h1.7m18.3 0h1.7m-67.7 1h2.7m3.3 0h1.7m2.3 0h1.7m3.3 0h1.7m3.3 0h1.7m4.3 0h1.7m3.3 0h2.7m1.3 0h1.7m2.3 0h3.7m8.3 0h1.7m10.3 0h1.7m2.3 0h1.7m-59.7 1h1.7m5.3 0h1.7m0.3 0h2.7m0.3 0h1.7m8.3 0h1.7m0.3 0h3.7m10.3 0h1.7m0.3 0h1.7m48.3 0h1.7m6.3 0h1.7m-109.7 1h1.7m2.3 0h1.7m2.3 0h1.7m9.3 0h1.7m0.3 0h1.7m2.3 0h1.7m0.3 0h2.7m9.3 0h1.7m0.3 0h2.7m0.3 0h2.7m11.3 0h1.7m16.3 0h1.7m6.3 0h1.7m3.3 0h1.7m29.3 0h1.7m-115.7 1h2.7m0.3 0h3.7m0.3 0h1.7m2.3 0h1.7m0.3 0h2.7m3.3 0h1.7m1.3 0h1.7m9.3 0h1.7m8.3 0h2.7m15.3 0h1.7m1.3 0h1.7m13.3 0h2.7m-82.7 1h2.7m2.3 0h1.7m0.3 0h1.7m0.3 0h3.7m0.3 0h1.7m0.3 0h2.7m0.3 0h2.7m0.3 0h1.7m0.3 0h2.7m6.3 0h1.7m4.3 0h1.7m3.3 0h1.7m0.3 0h1.7m4.3 0h1.7m2.3 0h2.7m3.3 0h1.7m10.3 0h1.7m2.3 0h1.7m-110.7 1h1.7m18.3 0h2.7m1.3 0h1.7m1.3 0h1.7m0.3 0h1.7m3.3 0h1.7m4.3 0h1.7m2.3 0h1.7m3.3 0h3.7m2.3 0h2.7m33.3 0h1.7m8.3 0h1.7m-110.7 1h1.7m14.3 0h1.7m3.3 0h1.7m1.3 0h1.7m3.3 0h2.7m2.3 0h1.7m9.3 0h1.7m0.3 0h2.7m1.3 0h1.7m4.3 0h2.7m6.3 0h1.7m10.3 0h1.7m21.3 0h2.7m7.3 0h1.7m2.3 0h1.7m-135.7 1h1.7m12.3 0h1.7m16.3 0h1.7m3.3 0h1.7m1.3 0h1.7m0.3 0h1.7m5.3 0h2.7m4.3 0h1.7m2.3 0h1.7m4.3 0h2.7m1.3 0h1.7m2.3 0h1.7m3.3 0h1.7m1.3 0h1.7m3.3 0h1.7m13.3 0h1.7m22.3 0h1.7m10.3 0h1.7m8.3 0h1.7m-138.7 1h1.7m21.3 0h1.7m8.3 0h1.7m2.3 0h1.7m0.3 0h1.7m3.3 0h1.7m1.3 0h2.7m2.3 0h1.7m1.3 0h2.7m0.3 0h1.7m1.3 0h2.7m0.3 0h1.7m5.3 0h2.7m1.3 0h1.7m14.3 0h1.7m14.3 0h1.7m21.3 0h1.7m6.3 0h1.7m4.3 0h1.7m-147.7 1h1.7m15.3 0h1.7m9.3 0h2.7m1.3 0h1.7m3.3 0h1.7m2.3 0h1.7m4.3 0h1.7m9.3 0h2.7m4.3 0h2.7m4.3 0h1.7m7.3 0h1.7m29.3 0h1.7m18.3 0h1.7m-117.7 1h1.7m1.3 0h1.7m2.3 0h1.7m0.3 0h4.7m0.3 0h1.7m0.3 0h2.7m2.3 0h2.7m0.3 0h1.7m2.3 0h3.7m0.3 0h2.7m0.3 0h2.7m3.3 0h1.7m6.3 0h1.7m1.3 0h1.7m6.3 0h2.7m24.3 0h1.7m37.3 0h1.7m-149.7 1h1.7m5.3 0h1.7m1.3 0h1.7m12.3 0h1.7m1.3 0h1.7m1.3 0h1.7m1.3 0h1.7m0.3 0h3.7m1.3 0h1.7m0.3 0h1.7m2.3 0h1.7m3.3 0h1.7m0.3 0h1.7m0.3 0h1.7m2.3 0h1.7m0.3 0h1.7m8.3 0h2.7m11.3 0h1.7m0.3 0h1.7m1.3 0h1.7m0.3 0h1.7m6.3 0h1.7m8.3 0h1.7m2.3 0h2.7m3.3 0h1.7m30.3 0h1.7m-161.7 1h1.7m7.3 0h1.7m12.3 0h1.7m3.3 0h1.7m2.3 0h1.7m1.3 0h1.7m0.3 0h1.7m5.3 0h1.7m0.3 0h3.7m3.3 0h3.7m0.3 0h1.7m0.3 0h1.7m4.3 0h3.7m1.3 0h1.7m0.3 0h1.7m2.3 0h1.7m1.3 0h3.7m1.3 0h2.7m2.3 0h1.7m6.3 0h1.7m0.3 0h1.7m2.3 0h1.7m7.3 0h1.7m0.3 0h2.7m26.3 0h1.7m-142.7 1h1.7m9.3 0h1.7m14.3 0h1.7m3.3 0h3.7m0.3 0h1.7m0.3 0h1.7m1.3 0h1.7m2.3 0h2.7m2.3 0h2.7m5.3 0h1.7m3.3 0h2.7m0.3 0h1.7m4.3 0h1.7m2.3 0h2.7m2.3 0h2.7m12.3 0h1.7m6.3 0h1.7m0.3 0h1.7m31.3 0h1.7m16.3 0h1.7m12.3 0h1.7m5.3 0h1.7m-180.7 1h1.7m6.3 0h1.7m1.3 0h1.7m1.3 0h2.7m0.3 0h1.7m0.3 0h1.7m1.3 0h2.7m1.3 0h1.7m5.3 0h1.7m1.3 0h1.7m1.3 0h1.7m1.3 0h1.7m2.3 0h4.7m0.3 0h1.7m0.3 0h1.7m0.3 0h1.7m1.3 0h1.7m0.3 0h3.7m0.3 0h1.7m0.3 0h1.7m1.3 0h2.7m5.3 0h1.7m0.3 0h1.7m20.3 0h1.7m1.3 0h1.7m2.3 0h1.7m1.3 0h1.7m0.3 0h1.7m1.3 0h1.7m2.3 0h1.7m22.3 0h2.7m2.3 0h1.7m-142.7 1h1.7m2.3 0h1.7m2.3 0h1.7m0.3 0h1.7m2.3 0h1.7m8.3 0h4.7m1.3 0h1.7m2.3 0h2.7m0.3 0h1.7m0.3 0h6.7m1.3 0h1.7m4.3 0h2.7m1.3 0h1.7m1.3 0h2.7m0.3 0h1.7m4.3 0h1.7m13.3 0h1.7m14.3 0h1.7m4.3 0h1.7m6.3 0h1.7m18.3 0h2.7m19.3 0h1.7m-164.7 1h1.7m1.3 0h1.7m0.3 0h1.7m4.3 0h2.7m4.3 0h1.7m2.3 0h2.7m0.3 0h2.7m2.3 0h5.7m0.3 0h15.7m0.3 0h3.7m1.3 0h1.7m3.3 0h1.7m0.3 0h2.7m15.3 0h1.7m13.3 0h1.7m5.3 0h1.7m2.3 0h1.7m13.3 0h1.7m13.3 0h1.7m1.3 0h1.7m-139.7 1h2.7m2.3 0h5.7m0.3 0h1.7m2.3 0h1.7m0.3 0h2.7m0.3 0h2.7m0.3 0h2.7m0.3 0h6.7m0.3 0h1.7m0.3 0h13.7m1.3 0h1.7m0.3 0h2.7m0.3 0h3.7m18.3 0h1.7m18.3 0h1.7m16.3 0h2.7m4.3 0h1.7m-130.7 1h4.7m1.3 0h2.7m0.3 0h1.7m3.3 0h3.7m0.3 0h3.7m1.3 0h1.7m0.3 0h33.7m1.3 0h1.7m1.3 0h1.7m10.3 0h1.7m3.3 0h1.7m3.3 0h1.7m2.3 0h2.7m2.3 0h1.7m13.3 0h1.7m1.3 0h2.7m21.3 0h1.7m16.3 0h1.7m-148.7 1h1.7m4.3 0h2.7m1.3 0h3.7m0.3 0h33.7m0.3 0h3.7m4.3 0h1.7m1.3 0h1.7m11.3 0h1.7m25.3 0h1.7m19.3 0h2.7m16.3 0h1.7m11.3 0h1.7m5.3 0h1.7m-167.7 1h2.7m0.3 0h2.7m0.3 0h1.7m0.3 0h1.7m0.3 0h2.7m1.3 0h3.7m0.3 0h36.7m0.3 0h2.7m1.3 0h1.7m4.3 0h2.7m3.3 0h1.7m12.3 0h1.7m6.3 0h1.7m29.3 0h1.7m1.3 0h1.7m12.3 0h1.7m4.3 0h1.7m0.3 0h1.7m3.3 0h1.7m-155.7 1h2.7m0.3 0h2.7m0.3 0h1.7m1.3 0h2.7m0.3 0h7.7m0.3 0h35.7m0.3 0h3.7m0.3 0h2.7m1.3 0h1.7m14.3 0h1.7m1.3 0h1.7m7.3 0h1.7m-93.7 1h1.7m0.3 0h1.7m0.3 0h1.7m0.3 0h1.7m0.3 0h2.7m0.3 0h54.7m2.3 0h1.7m1.3 0h1.7m1.3 0h1.7m4.3 0h1.7m24.3 0h1.7m5.3 0h1.7m36.3 0h1.7m28.3 0h1.7m-182.7 1h59.7m2.3 0h1.7m2.3 0h1.7m6.3 0h1.7m3.3 0h1.7m4.3 0h1.7m2.3 0h1.7m15.3 0h1.7m12.3 0h1.7m4.3 0h1.7m21.3 0h2.7m-151.7 1h17.7m0.3 0h41.7m2.3 0h1.7m2.3 0h2.7m3.3 0h1.7m15.3 0h1.7m16.3 0h1.7m0.3 0h1.7m0.3 0h1.7m31.3 0h1.7m-145.7 1h6.7m0.3 0h53.7m5.3 0h2.7m80.3 0h1.7m-150.7 1h3.7m0.3 0h54.7m3.3 0h1.7m1.3 0h1.7m1.3 0h1.7m5.3 0h1.7m14.3 0h1.7m7.3 0h1.7m47.3 0h1.7m-150.7 1h32.7m0.3 0h28.7m2.3 0h1.7m50.3 0h1.7m2.3 0h1.7m4.3 0h1.7m-127.7 1h54.7m1.3 0h1.7m0.3 0h3.7m0.3 0h1.7m23.3 0h1.7m48.3 0h1.7m5.3 0h1.7m-145.7 1h54.7m1.3 0h1.7m1.3 0h2.7m3.3 0h1.7m19.3 0h1.7m3.3 0h1.7m14.3 0h1.7m4.3 0h1.7m0.3 0h1.7m11.3 0h1.7m-129.7 1h56.7m9.3 0h2.7m35.3 0h1.7m6.3 0h1.7m3.3 0h1.7m0.3 0h1.7m26.3 0h1.7m6.3 0h1.7m-156.7 1h54.7m0.3 0h5.7m0.3 0h2.7m0.3 0h2.7m0.3 0h1.7m0.3 0h1.7m3.3 0h1.7m17.3 0h1.7m11.3 0h1.7m11.3 0h1.7m9.3 0h1.7m-131.7 1h42.7m0.3 0h12.7m2.3 0h1.7m0.3 0h2.7m0.3 0h1.7m11.3 0h1.7m14.3 0h1.7m17.3 0h1.7m4.3 0h1.7m29.3 0h1.7m18.3 0h1.7m-169.7 1h11.7m0.3 0h44.7m0.3 0h1.7m2.3 0h2.7m10.3 0h1.7m53.3 0h1.7m-130.7 1h12.7m0.3 0h46.7m4.3 0h1.7m10.3 0h1.7m3.3 0h1.7m3.3 0h1.7m50.3 0h1.7m0.3 0h1.7m-141.7 1h1.7m0.3 0h55.7m0.3 0h1.7m1.3 0h1.7m2.3 0h1.7m41.3 0h1.7m28.3 0h1.7m23.3 0h1.7m-164.7 1h12.7m0.3 0h1.7m0.3 0h41.7m0.3 0h1.7m0.3 0h1.7m3.3 0h1.7m1.3 0h1.7m102.3 0h1.7m-172.7 1h54.7m2.3 0h2.7m8.3 0h1.7m2.3 0h1.7m0.3 0h1.7m0.3 0h1.7m7.3 0h1.7m21.3 0h1.7m2.3 0h1.7m55.3 0h1.7m0.3 0h1.7m-172.7 1h3.7m0.3 0h52.7m0.3 0h2.7m2.3 0h2.7m76.3 0h1.7m10.3 0h1.7m-154.7 1h58.7m1.3 0h1.7m71.3 0h1.7m0.3 0h1.7m-136.7 1h57.7m0.3 0h4.7m3.3 0h1.7m0.3 0h1.7m15.3 0h1.7m6.3 0h1.7m10.3 0h1.7m17.3 0h1.7m38.3 0h1.7m11.3 0h1.7m-178.7 1h52.7m0.3 0h2.7m0.3 0h1.7m2.3 0h2.7m9.3 0h1.7m8.3 0h1.7m59.3 0h2.7m0.3 0h1.7m27.3 0h1.7m-176.7 1h48.7m0.3 0h5.7m1.3 0h5.7m2.3 0h1.7m23.3 0h2.7m55.3 0h1.7m-148.7 1h31.7m0.3 0h21.7m0.3 0h2.7m5.3 0h1.7m-63.7 1h48.7m0.3 0h2.7m1.3 0h1.7m0.3 0h1.7m2.3 0h1.7m1.3 0h1.7m11.3 0h1.7m0.3 0h1.7m60.3 0h1.7m-140.7 1h40.7m0.3 0h6.7m0.3 0h2.7m0.3 0h2.7m5.3 0h1.7m1.3 0h1.7m4.3 0h1.7m46.3 0h1.7m63.3 0h1.7m-182.7 1h4.7m0.3 0h12.7m0.3 0h26.7m5.3 0h1.7m4.3 0h1.7m6.3 0h1.7m53.3 0h1.7m11.3 0h2.7m34.3 0h1.7m-170.7 1h1.7m0.3 0h5.7m0.3 0h34.7m0.3 0h1.7m0.3 0h5.7m3.3 0h1.7m0.3 0h3.7m0.3 0h1.7m9.3 0h2.7m79.3 0h1.7m13.3 0h1.7m-169.7 1h2.7m1.3 0h13.7m0.3 0h22.7m0.3 0h2.7m2.3 0h1.7m3.3 0h1.7m0.3 0h1.7m0.3 0h1.7m2.3 0h2.7m97.3 0h1.7m1.3 0h1.7m-163.7 1h1.7m6.3 0h1.7m1.3 0h8.7m0.3 0h8.7m1.3 0h4.7m0.3 0h3.7m1.3 0h1.7m1.3 0h1.7m6.3 0h1.7m5.3 0h2.7m15.3 0h1.7m10.3 0h1.7m-88.7 1h1.7m2.3 0h3.7m0.3 0h1.7m0.3 0h1.7m0.3 0h3.7m0.3 0h1.7m0.3 0h4.7m0.3 0h9.7m3.3 0h2.7m0.3 0h1.7m5.3 0h1.7m13.3 0h2.7m3.3 0h1.7m57.3 0h1.7m42.3 0h1.7m-172.7 1h6.7m0.3 0h1.7m1.3 0h1.7m0.3 0h1.7m1.3 0h9.7m0.3 0h2.7m0.3 0h2.7m1.3 0h3.7m1.3 0h1.7m3.3 0h2.7m1.3 0h1.7m1.3 0h3.7m0.3 0h1.7m5.3 0h1.7m3.3 0h1.7m13.3 0h1.7m23.3 0h1.7m5.3 0h1.7m14.3 0h1.7m3.3 0h1.7m14.3 0h1.7" stroke="#000" stroke-width="1.7" fill="none"/>
<rect x="325.5" y="32" width="185.5" height="133.4" fill="none" stroke="#000" stroke-width="1.6"/>
<path d="M424.9 32V165.4M325.5 98.5H511" stroke="#000" stroke-width="1.6" fill="none"/>
<path d="M326.3 165.4v6.8M372.2 165.4v6.8M418.1 165.4v6.8M463.9 165.4v6.8M509.8 165.4v6.8M340.1 165.4v4M348.2 165.4v4M353.9 165.4v4M358.4 165.4v4M362.0 165.4v4M365.1 165.4v4M367.7 165.4v4M370.1 165.4v4M386.0 165.4v4M394.1 165.4v4M399.8 165.4v4M404.2 165.4v4M407.9 165.4v4M410.9 165.4v4M413.6 165.4v4M416.0 165.4v4M431.9 165.4v4M439.9 165.4v4M445.7 165.4v4M450.1 165.4v4M453.7 165.4v4M456.8 165.4v4M459.5 165.4v4M461.8 165.4v4M477.7 165.4v4M485.8 165.4v4M491.5 165.4v4M496.0 165.4v4M499.6 165.4v4M502.7 165.4v4M505.4 165.4v4M507.7 165.4v4M325.5 164.1h-6.6M325.5 131.2h-6.6M325.5 98.3h-6.6M325.5 65.5h-6.6M325.5 32.6h-6.6M325.5 154.2h-3.9M325.5 148.4h-3.9M325.5 144.3h-3.9M325.5 141.1h-3.9M325.5 138.5h-3.9M325.5 136.3h-3.9M325.5 134.4h-3.9M325.5 132.7h-3.9M325.5 121.3h-3.9M325.5 115.5h-3.9M325.5 111.4h-3.9M325.5 108.2h-3.9M325.5 105.6h-3.9M325.5 103.4h-3.9M325.5 101.5h-3.9M325.5 99.9h-3.9M325.5 88.5h-3.9M325.5 82.7h-3.9M325.5 78.6h-3.9M325.5 75.4h-3.9M325.5 72.8h-3.9M325.5 70.6h-3.9M325.5 68.7h-3.9M325.5 67.0h-3.9M325.5 55.6h-3.9M325.5 49.8h-3.9M325.5 45.7h-3.9M325.5 42.5h-3.9M325.5 39.9h-3.9M325.5 37.7h-3.9M325.5 35.8h-3.9M325.5 34.1h-3.9" stroke="#000" stroke-width="1.5" fill="none"/>
<text class="f-sans" x="318.1" y="187.6" font-size="14" textLength="12" lengthAdjust="spacingAndGlyphs">10</text>
<text class="f-sans" x="331.3" y="180.1" font-size="13.5" textLength="6.2" lengthAdjust="spacingAndGlyphs">0</text>
<text class="f-sans" x="364.0" y="187.6" font-size="14" textLength="12" lengthAdjust="spacingAndGlyphs">10</text>
<text class="f-sans" x="377.2" y="180.1" font-size="13.5" textLength="6.2" lengthAdjust="spacingAndGlyphs">1</text>
<text class="f-sans" x="409.9" y="187.6" font-size="14" textLength="12" lengthAdjust="spacingAndGlyphs">10</text>
<text class="f-sans" x="423.1" y="180.1" font-size="13.5" textLength="6.2" lengthAdjust="spacingAndGlyphs">2</text>
<text class="f-sans" x="455.7" y="187.6" font-size="14" textLength="12" lengthAdjust="spacingAndGlyphs">10</text>
<text class="f-sans" x="468.9" y="180.1" font-size="13.5" textLength="6.2" lengthAdjust="spacingAndGlyphs">3</text>
<text class="f-sans" x="501.6" y="187.6" font-size="14" textLength="12" lengthAdjust="spacingAndGlyphs">10</text>
<text class="f-sans" x="514.8" y="180.1" font-size="13.5" textLength="6.2" lengthAdjust="spacingAndGlyphs">4</text>
<text class="f-sans" transform="translate(314.1 173.5) rotate(-90)" font-size="14.6" textLength="11.7" lengthAdjust="spacingAndGlyphs">10</text>
<text class="f-sans" transform="translate(305.9 158.7) rotate(-90)" font-size="13.8" textLength="6.4" lengthAdjust="spacingAndGlyphs">0</text>
<text class="f-sans" transform="translate(314.1 140.6) rotate(-90)" font-size="14.6" textLength="11.7" lengthAdjust="spacingAndGlyphs">10</text>
<text class="f-sans" transform="translate(305.9 125.8) rotate(-90)" font-size="13.8" textLength="6.4" lengthAdjust="spacingAndGlyphs">1</text>
<text class="f-sans" transform="translate(314.1 107.8) rotate(-90)" font-size="14.6" textLength="11.7" lengthAdjust="spacingAndGlyphs">10</text>
<text class="f-sans" transform="translate(305.9 93.0) rotate(-90)" font-size="13.8" textLength="6.4" lengthAdjust="spacingAndGlyphs">2</text>
<text class="f-sans" transform="translate(314.1 74.9) rotate(-90)" font-size="14.6" textLength="11.7" lengthAdjust="spacingAndGlyphs">10</text>
<text class="f-sans" transform="translate(305.9 60.1) rotate(-90)" font-size="13.8" textLength="6.4" lengthAdjust="spacingAndGlyphs">3</text>
<text class="f-sans" transform="translate(314.1 42.0) rotate(-90)" font-size="14.6" textLength="11.7" lengthAdjust="spacingAndGlyphs">10</text>
<text class="f-sans" transform="translate(305.9 27.2) rotate(-90)" font-size="13.8" textLength="6.4" lengthAdjust="spacingAndGlyphs">4</text>
<text class="f-sans" x="386.7" y="201.3" font-size="13.2" textLength="59.3" lengthAdjust="spacingAndGlyphs">MAC1-PE</text>
<text class="f-sans" transform="translate(295.5 130) rotate(-90)" font-size="13.8" textLength="58.4" lengthAdjust="spacingAndGlyphs">GR1-APC</text>
<text class="f-serif" x="430.6" y="53" font-size="20" font-weight="bold" textLength="53.8" lengthAdjust="spacingAndGlyphs">40.8%</text>
</g>
<g>
<path d="M170.7 239.5h1.7m-13.7 2h1.7m-19.7 2h1.7m24.3 1h1.7m20.3 5h1.7m-35.7 2h1.7m16.3 1h1.7m-0.7 1h1.7m-12.7 1h1.7m23.3 0h1.7m-8.7 2h1.7m-30.7 1h1.7m16.3 0h1.7m-13.7 3h1.7m5.3 0h1.7m-35.7 1h1.7m26.3 1h1.7m0.3 0h1.7m5.3 0h1.7m8.3 0h1.7m2.3 0h1.7m8.3 0h1.7m6.3 0h1.7m2.3 0h1.7m-104.7 1h2.7m1.3 0h1.7m12.3 0h1.7m10.3 0h1.7m20.3 0h2.7m8.3 0h1.7m1.3 0h2.7m1.3 0h3.7m5.3 0h1.7m4.3 0h1.7m13.3 0h1.7m-104.7 1h1.7m3.3 0h1.7m9.3 0h1.7m0.3 0h1.7m40.3 0h1.7m1.3 0h1.7m6.3 0h2.7m2.3 0h1.7m3.3 0h1.7m2.3 0h1.7m10.3 0h3.7m-109.7 1h1.7m14.3 0h1.7m15.3 0h1.7m0.3 0h1.7m23.3 0h1.7m4.3 0h1.7m2.3 0h1.7m1.3 0h1.7m0.3 0h1.7m1.3 0h2.7m0.3 0h2.7m0.3 0h1.7m0.3 0h1.7m0.3 0h1.7m0.3 0h1.7m3.3 0h1.7m2.3 0h2.7m0.3 0h1.7m0.3 0h3.7m1.3 0h1.7m3.3 0h1.7m-102.7 1h1.7m20.3 0h1.7m29.3 0h1.7m0.3 0h1.7m1.3 0h2.7m1.3 0h1.7m1.3 0h2.7m0.3 0h1.7m8.3 0h1.7m0.3 0h2.7m0.3 0h1.7m5.3 0h2.7m1.3 0h1.7m1.3 0h1.7m1.3 0h1.7m-85.7 1h1.7m18.3 0h1.7m13.3 0h1.7m0.3 0h1.7m1.3 0h1.7m3.3 0h3.7m1.3 0h1.7m0.3 0h1.7m0.3 0h1.7m1.3 0h1.7m2.3 0h1.7m0.3 0h2.7m1.3 0h1.7m1.3 0h1.7m0.3 0h2.7m0.3 0h3.7m2.3 0h2.7m0.3 0h1.7m0.3 0h1.7m0.3 0h1.7m-96.7 1h1.7m0.3 0h1.7m43.3 0h1.7m2.3 0h1.7m1.3 0h1.7m7.3 0h2.7m0.3 0h1.7m5.3 0h1.7m5.3 0h1.7m3.3 0h1.7m-105.7 1h1.7m2.3 0h1.7m65.3 0h1.7m7.3 0h1.7m9.3 0h1.7m6.3 0h3.7m5.3 0h1.7m2.3 0h1.7m4.3 0h1.7m-110.7 1h1.7m6.3 0h1.7m9.3 0h1.7m27.3 0h1.7m16.3 0h1.7m1.3 0h1.7m4.3 0h1.7m22.3 0h1.7m0.3 0h1.7m-7.7 1h1.7m9.3 0h1.7m-43.7 1h1.7m-14.7 1h1.7m30.3 0h1.7m5.3 0h1.7m-50.7 2h1.7m47.3 0h1.7m-61.7 1h1.7m4.3 0h1.7m8.3 0h1.7m41.3 0h1.7m-60.7 1h1.7m15.3 0h1.7m-12.7 1h1.7m7.3 0h1.7m0.3 0h1.7m3.3 0h1.7m-22.7 5h1.7m5.3 1h1.7m-12.7 1h1.7m0.3 0h1.7m54.3 0h1.7m-59.7 1h1.7m60.3 0h1.7m-87.7 1h1.7m38.3 0h1.7m54.3 0h1.7m-44.7 1h1.7m27.3 0h1.7m-60.7 1h1.7m10.3 1h1.7m7.3 0h2.7m-19.7 1h2.7m0.3 0h1.7m9.3 0h1.7m22.3 0h1.7m-53.7 1h1.7m29.3 0h1.7m25.3 0h1.7m0.3 0h1.7m-50.7 1h1.7m-15.7 2h1.7m8.3 0h1.7m23.3 1h1.7m40.3 0h1.7m-104.7 1h2.7m35.3 0h1.7m4.3 0h1.7m49.3 0h1.7m11.3 0h1.7m-82.7 1h1.7m6.3 0h1.7m4.3 0h1.7m2.3 0h1.7m39.3 0h1.7m10.3 0h1.7m18.3 0h1.7m-80.7 1h1.7m-29.7 1h1.7m28.3 0h1.7m35.3 0h1.7m15.3 0h1.7m-94.7 1h1.7m12.3 0h1.7m13.3 0h1.7m11.3 0h2.7m1.3 0h1.7m2.3 0h1.7m0.3 0h1.7m5.3 0h1.7m-80.7 1h1.7m25.3 0h1.7m10.3 0h1.7m2.3 0h1.7m0.3 0h1.7m2.3 0h1.7m24.3 0h2.7m0.3 0h1.7m35.3 0h1.7m-122.7 1h1.7m13.3 0h1.7m35.3 0h1.7m5.3 0h2.7m2.3 0h1.7m12.3 0h1.7m4.3 0h1.7m-52.7 1h1.7m2.3 0h1.7m3.3 0h1.7m0.3 0h1.7m0.3 0h2.7m7.3 0h1.7m0.3 0h1.7m3.3 0h1.7m19.3 0h2.7m1.3 0h2.7m2.3 0h1.7m-81.7 1h1.7m1.3 0h1.7m7.3 0h1.7m14.3 0h2.7m20.3 0h1.7m0.3 0h1.7m7.3 0h1.7m2.3 0h1.7m3.3 0h1.7m6.3 0h1.7m6.3 0h1.7m12.3 0h1.7m-66.7 1h2.7m8.3 0h1.7m6.3 0h1.7m5.3 0h1.7m1.3 0h1.7m5.3 0h1.7m5.3 0h1.7m7.3 0h1.7m-52.7 1h1.7m1.3 0h1.7m2.3 0h1.7m1.3 0h1.7m10.3 0h1.7m1.3 0h2.7m2.3 0h1.7m0.3 0h4.7m3.3 0h1.7m-71.7 1h1.7m12.3 0h1.7m0.3 0h1.7m23.3 0h1.7m0.3 0h1.7m0.3 0h3.7m6.3 0h1.7m0.3 0h3.7m0.3 0h3.7m2.3 0h1.7m-63.7 1h1.7m19.3 0h1.7m13.3 0h1.7m2.3 0h1.7m9.3 0h1.7m0.3 0h5.7m0.3 0h1.7m0.3 0h3.7m0.3 0h1.7m-28.7 1h1.7m5.3 0h1.7m6.3 0h1.7m1.3 0h3.7m1.3 0h1.7m0.3 0h1.7m14.3 0h1.7m-88.7 1h1.7m8.3 0h1.7m23.3 0h1.7m1.3 0h1.7m4.3 0h2.7m4.3 0h1.7m0.3 0h1.7m3.3 0h1.7m0.3 0h1.7m0.3 0h2.7m1.3 0h2.7m0.3 0h1.7m1.3 0h1.7m1.3 0h1.7m-93.7 1h1.7m43.3 0h1.7m15.3 0h1.7m1.3 0h1.7m0.3 0h2.7m0.3 0h3.7m3.3 0h1.7m0.3 0h1.7m1.3 0h4.7m0.3 0h2.7m6.3 0h1.7m-74.7 1h1.7m19.3 0h1.7m9.3 0h1.7m0.3 0h1.7m3.3 0h1.7m0.3 0h1.7m0.3 0h2.7m0.3 0h1.7m3.3 0h2.7m2.3 0h2.7m1.3 0h1.7m0.3 0h1.7m0.3 0h1.7m-56.7 1h1.7m12.3 0h2.7m1.3 0h1.7m4.3 0h1.7m2.3 0h1.7m0.3 0h4.7m0.3 0h1.7m0.3 0h4.7m0.3 0h3.7m0.3 0h5.7m0.3 0h2.7m0.3 0h1.7m1.3 0h1.7m0.3 0h1.7m-49.7 1h1.7m2.3 0h2.7m1.3 0h1.7m4.3 0h1.7m6.3 0h1.7m2.3 0h3.7m1.3 0h3.7m3.3 0h4.7m0.3 0h2.7m30.3 0h1.7m3.3 0h1.7m-108.7 1h1.7m4.3 0h1.7m8.3 0h2.7m2.3 0h1.7m3.3 0h2.7m0.3 0h1.7m1.3 0h1.7m4.3 0h1.7m6.3 0h6.7m0.3 0h2.7m1.3 0h4.7m0.3 0h3.7m2.3 0h2.7m26.3 0h1.7m-68.7 1h2.7m2.3 0h1.7m0.3 0h1.7m1.3 0h1.7m4.3 0h13.7m1.3 0h4.7m3.3 0h1.7m7.3 0h1.7m22.3 0h1.7m8.3 0h1.7m-112.7 1h1.7m5.3 0h1.7m10.3 0h2.7m1.3 0h2.7m0.3 0h1.7m3.3 0h2.7m0.3 0h1.7m1.3 0h2.7m0.3 0h1.7m0.3 0h3.7m0.3 0h5.7m0.3 0h1.7m0.3 0h2.7m1.3 0h3.7m0.3 0h5.7m1.3 0h1.7m0.3 0h1.7m3.3 0h1.7m16.3 0h1.7m-94.7 1h1.7m4.3 0h1.7m0.3 0h1.7m4.3 0h1.7m3.3 0h1.7m1.3 0h1.7m2.3 0h1.7m6.3 0h2.7m0.3 0h3.7m0.3 0h3.7m0.3 0h3.7m0.3 0h3.7m0.3 0h7.7m0.3 0h1.7m0.3 0h4.7m0.3 0h1.7m0.3 0h1.7m10.3 0h1.7m-88.7 1h1.7m4.3 0h1.7m2.3 0h1.7m2.3 0h1.7m0.3 0h1.7m1.3 0h1.7m2.3 0h1.7m0.3 0h1.7m1.3 0h2.7m0.3 0h3.7m0.3 0h1.7m0.3 0h2.7m0.3 0h5.7m1.3 0h11.7m0.3 0h3.7m0.3 0h1.7m1.3 0h3.7m3.3 0h3.7m27.3 0h1.7m-106.7 1h1.7m5.3 0h1.7m0.3 0h1.7m8.3 0h1.7m0.3 0h1.7m0.3 0h2.7m2.3 0h2.7m7.3 0h5.7m0.3 0h1.7m1.3 0h6.7m1.3 0h12.7m0.3 0h6.7m3.3 0h1.7m-81.7 1h2.7m2.3 0h1.7m5.3 0h1.7m0.3 0h1.7m0.3 0h2.7m1.3 0h1.7m5.3 0h1.7m0.3 0h7.7m0.3 0h28.7m0.3 0h6.7m2.3 0h1.7m51.3 0h1.7m-136.7 1h4.7m0.3 0h2.7m2.3 0h1.7m1.3 0h1.7m3.3 0h1.7m0.3 0h1.7m0.3 0h1.7m0.3 0h3.7m0.3 0h14.7m0.3 0h31.7m0.3 0h2.7m0.3 0h2.7m0.3 0h2.7m0.3 0h1.7m22.3 0h1.7m5.3 0h1.7m-121.7 1h1.7m0.3 0h1.7m0.3 0h3.7m0.3 0h1.7m0.3 0h1.7m1.3 0h1.7m1.3 0h1.7m0.3 0h1.7m1.3 0h6.7m0.3 0h5.7m0.3 0h38.7m0.3 0h6.7m5.3 0h1.7m0.3 0h1.7m43.3 0h2.7m-133.7 1h2.7m1.3 0h5.7m1.3 0h2.7m0.3 0h2.7m1.3 0h12.7m0.3 0h29.7m0.3 0h6.7m1.3 0h10.7m1.3 0h3.7m-83.7 1h16.7m0.3 0h27.7m0.3 0h17.7m1.3 0h4.7m1.3 0h3.7m0.3 0h3.7m0.3 0h1.7m0.3 0h1.7m4.3 0h2.7m10.3 0h1.7m23.3 0h1.7m1.3 0h1.7m2.3 0h1.7m-134.7 1h8.7m0.3 0h18.7m0.3 0h7.7m0.3 0h29.7m0.3 0h2.7m0.3 0h9.7m0.3 0h3.7m0.3 0h1.7m-84.7 1h65.7m0.3 0h6.7m0.3 0h9.7m0.3 0h2.7m1.3 0h2.7m0.3 0h1.7m-91.7 1h30.7m0.3 0h8.7m0.3 0h11.7m0.3 0h9.7m0.3 0h16.7m1.3 0h1.7m1.3 0h2.7m1.3 0h1.7m0.3 0h1.7m-90.7 1h1.7m0.3 0h61.7m1.3 0h12.7m0.3 0h1.7m0.3 0h4.7m1.3 0h1.7m4.3 0h1.7m12.3 0h1.7m-107.7 1h6.7m0.3 0h29.7m0.3 0h1.7m0.3 0h2.7m0.3 0h23.7m0.3 0h13.7m0.3 0h2.7m3.3 0h1.7m-87.7 1h73.7m0.3 0h1.7m0.3 0h1.7m0.3 0h3.7m4.3 0h4.7m12.3 0h1.7m56.3 0h1.7m-162.7 1h20.7m0.3 0h19.7m0.3 0h27.7m0.3 0h8.7m0.3 0h2.7m2.3 0h1.7m0.3 0h1.7m0.3 0h1.7m25.3 0h1.7m13.3 0h2.7m10.3 0h1.7m-143.7 1h28.7m1.3 0h11.7m0.3 0h5.7m0.3 0h1.7m0.3 0h10.7m0.3 0h7.7m0.3 0h2.7m1.3 0h10.7m0.3 0h1.7m0.3 0h1.7m0.3 0h2.7m3.3 0h1.7m32.3 0h1.7m8.3 0h1.7m-139.7 1h47.7m0.3 0h29.7m0.3 0h3.7m3.3 0h1.7m0.3 0h2.7m0.3 0h1.7m47.3 0h1.7m-140.7 1h61.7m0.3 0h2.7m0.3 0h3.7m0.3 0h7.7m0.3 0h2.7m2.3 0h3.7m1.3 0h1.7m-88.7 1h47.7m0.3 0h17.7m0.3 0h11.7m1.3 0h1.7m1.3 0h2.7m3.3 0h1.7m19.3 0h1.7m3.3 0h1.7m17.3 0h1.7m-134.7 1h60.7m0.3 0h4.7m0.3 0h11.7m0.3 0h6.7m2.3 0h1.7m18.3 0h1.7m19.3 0h1.7m26.3 0h1.7m-157.7 1h3.7m0.3 0h5.7m0.3 0h26.7m0.3 0h9.7m0.3 0h15.7m0.3 0h12.7m0.3 0h3.7m0.3 0h3.7m0.3 0h1.7m0.3 0h1.7m0.3 0h1.7m1.3 0h1.7m-92.7 1h82.7m0.3 0h1.7m0.3 0h2.7m2.3 0h1.7m-91.7 1h43.7m0.3 0h10.7m0.3 0h6.7m0.3 0h1.7m0.3 0h7.7m0.3 0h6.7m0.3 0h1.7m0.3 0h1.7m0.3 0h1.7m0.3 0h1.7m1.3 0h2.7m31.3 0h1.7m16.3 0h1.7m-141.7 1h18.7m0.3 0h56.7m0.3 0h4.7m4.3 0h1.7m1.3 0h1.7m3.3 0h1.7m-94.7 1h16.7m0.3 0h53.7m0.3 0h7.7m1.3 0h1.7m0.3 0h1.7m1.3 0h2.7m1.3 0h1.7m15.3 0h2.7m69.3 0h1.7m-179.7 1h3.7m0.3 0h9.7m0.3 0h51.7m0.3 0h2.7m0.3 0h6.7m0.3 0h8.7m0.3 0h3.7m2.3 0h1.7m2.3 0h1.7m7.3 0h1.7m33.3 0h1.7m-140.7 1h70.7m0.3 0h10.7m0.3 0h1.7m3.3 0h1.7m1.3 0h1.7m-91.7 1h20.7m0.3 0h37.7m0.3 0h5.7m0.3 0h10.7m0.3 0h5.7m0.3 0h1.7m2.3 0h1.7m0.3 0h3.7m28.3 0h1.7m18.3 0h1.7m-141.7 1h14.7m0.3 0h22.7m0.3 0h19.7m0.3 0h13.7m0.3 0h8.7m2.3 0h4.7m2.3 0h1.7m1.3 0h1.7m19.3 0h1.7m6.3 0h1.7m-123.7 1h5.7m0.3 0h30.7m0.3 0h32.7m0.3 0h3.7m0.3 0h7.7m31.3 0h1.7m-114.7 1h62.7m0.3 0h6.7m0.3 0h5.7m0.3 0h2.7m0.3 0h1.7m0.3 0h1.7m1.3 0h1.7m1.3 0h1.7m0.3 0h1.7m41.3 0h1.7m-133.7 1h82.7m0.3 0h4.7m0.3 0h2.7" stroke="#000" stroke-width="1.7" fill="none"/>
<rect x="63.1" y="217" width="190.4" height="134.5" fill="none" stroke="#000" stroke-width="1.6"/>
<path d="M151.2 217V351.5M63.1 294.2H253.5" stroke="#000" stroke-width="1.6" fill="none"/>
<path d="M63.9 351.5v6.8M111.0 351.5v6.8M158.1 351.5v6.8M205.2 351.5v6.8M252.3 351.5v6.8M78.1 351.5v4M86.4 351.5v4M92.3 351.5v4M96.8 351.5v4M100.6 351.5v4M103.7 351.5v4M106.4 351.5v4M108.8 351.5v4M125.2 351.5v4M133.5 351.5v4M139.4 351.5v4M143.9 351.5v4M147.7 351.5v4M150.8 351.5v4M153.5 351.5v4M155.9 351.5v4M172.3 351.5v4M180.6 351.5v4M186.5 351.5v4M191.0 351.5v4M194.8 351.5v4M197.9 351.5v4M200.6 351.5v4M203.0 351.5v4M219.4 351.5v4M227.7 351.5v4M233.6 351.5v4M238.1 351.5v4M241.9 351.5v4M245.0 351.5v4M247.7 351.5v4M250.1 351.5v4M63.1 350.2h-6.6M63.1 317.1h-6.6M63.1 283.9h-6.6M63.1 250.8h-6.6M63.1 217.6h-6.6M63.1 340.2h-3.9M63.1 334.4h-3.9M63.1 330.2h-3.9M63.1 327.0h-3.9M63.1 324.4h-3.9M63.1 322.2h-3.9M63.1 320.3h-3.9M63.1 318.6h-3.9M63.1 307.1h-3.9M63.1 301.2h-3.9M63.1 297.1h-3.9M63.1 293.9h-3.9M63.1 291.3h-3.9M63.1 289.0h-3.9M63.1 287.1h-3.9M63.1 285.4h-3.9M63.1 273.9h-3.9M63.1 268.1h-3.9M63.1 263.9h-3.9M63.1 260.7h-3.9M63.1 258.1h-3.9M63.1 255.9h-3.9M63.1 254.0h-3.9M63.1 252.3h-3.9M63.1 240.8h-3.9M63.1 234.9h-3.9M63.1 230.8h-3.9M63.1 227.6h-3.9M63.1 225.0h-3.9M63.1 222.7h-3.9M63.1 220.8h-3.9M63.1 219.1h-3.9" stroke="#000" stroke-width="1.5" fill="none"/>
<text class="f-sans" x="54.4" y="373.7" font-size="14" textLength="12" lengthAdjust="spacingAndGlyphs">10</text>
<text class="f-sans" x="67.6" y="366.2" font-size="13.5" textLength="6.2" lengthAdjust="spacingAndGlyphs">0</text>
<text class="f-sans" x="101.5" y="373.7" font-size="14" textLength="12" lengthAdjust="spacingAndGlyphs">10</text>
<text class="f-sans" x="114.7" y="366.2" font-size="13.5" textLength="6.2" lengthAdjust="spacingAndGlyphs">1</text>
<text class="f-sans" x="148.6" y="373.7" font-size="14" textLength="12" lengthAdjust="spacingAndGlyphs">10</text>
<text class="f-sans" x="161.8" y="366.2" font-size="13.5" textLength="6.2" lengthAdjust="spacingAndGlyphs">2</text>
<text class="f-sans" x="195.7" y="373.7" font-size="14" textLength="12" lengthAdjust="spacingAndGlyphs">10</text>
<text class="f-sans" x="208.9" y="366.2" font-size="13.5" textLength="6.2" lengthAdjust="spacingAndGlyphs">3</text>
<text class="f-sans" x="242.8" y="373.7" font-size="14" textLength="12" lengthAdjust="spacingAndGlyphs">10</text>
<text class="f-sans" x="256.0" y="366.2" font-size="13.5" textLength="6.2" lengthAdjust="spacingAndGlyphs">4</text>
<text class="f-sans" transform="translate(51.7 359.6) rotate(-90)" font-size="14.6" textLength="11.7" lengthAdjust="spacingAndGlyphs">10</text>
<text class="f-sans" transform="translate(43.5 344.8) rotate(-90)" font-size="13.8" textLength="6.4" lengthAdjust="spacingAndGlyphs">0</text>
<text class="f-sans" transform="translate(51.7 326.4) rotate(-90)" font-size="14.6" textLength="11.7" lengthAdjust="spacingAndGlyphs">10</text>
<text class="f-sans" transform="translate(43.5 311.6) rotate(-90)" font-size="13.8" textLength="6.4" lengthAdjust="spacingAndGlyphs">1</text>
<text class="f-sans" transform="translate(51.7 293.3) rotate(-90)" font-size="14.6" textLength="11.7" lengthAdjust="spacingAndGlyphs">10</text>
<text class="f-sans" transform="translate(43.5 278.5) rotate(-90)" font-size="13.8" textLength="6.4" lengthAdjust="spacingAndGlyphs">2</text>
<text class="f-sans" transform="translate(51.7 260.1) rotate(-90)" font-size="14.6" textLength="11.7" lengthAdjust="spacingAndGlyphs">10</text>
<text class="f-sans" transform="translate(43.5 245.3) rotate(-90)" font-size="13.8" textLength="6.4" lengthAdjust="spacingAndGlyphs">3</text>
<text class="f-sans" transform="translate(51.7 227.0) rotate(-90)" font-size="14.6" textLength="11.7" lengthAdjust="spacingAndGlyphs">10</text>
<text class="f-sans" transform="translate(43.5 212.2) rotate(-90)" font-size="13.8" textLength="6.4" lengthAdjust="spacingAndGlyphs">4</text>
<text class="f-sans" x="128.8" y="388.3" font-size="13.2" textLength="54.7" lengthAdjust="spacingAndGlyphs">CD71 PE</text>
<text class="f-sans" transform="translate(32.7 323.3) rotate(-90)" font-size="13.8" textLength="71.8" lengthAdjust="spacingAndGlyphs">Ter119 APC</text>
<text class="f-serif" x="207.8" y="237.2" font-size="20" font-weight="bold" textLength="45.7" lengthAdjust="spacingAndGlyphs">3.2%</text>
<text class="f-serif" x="209.1" y="349.6" font-size="20" font-weight="bold" textLength="44" lengthAdjust="spacingAndGlyphs">1.6%</text>
</g>
<g>
<path d="M469.6 238.5h1.7m-24.7 6h1.7m26.3 2h1.7m-56.7 1h1.7m9.3 4h2.7m18.3 1h1.7m-1.7 1h1.7m-49.7 2h1.7m35.3 0h1.7m-8.7 1h1.7m1.3 0h1.7m14.3 0h1.7m12.3 1h1.7m-76.7 2h1.7m40.3 0h1.7m5.3 0h1.7m0.3 0h1.7m4.3 0h2.7m0.3 0h1.7m5.3 0h1.7m-35.7 1h1.7m8.3 0h1.7m0.3 0h2.7m1.3 0h2.7m2.3 0h1.7m2.3 0h1.7m1.3 0h1.7m1.3 0h1.7m0.3 0h1.7m16.3 0h1.7m-111.7 1h1.7m33.3 0h1.7m6.3 0h1.7m10.3 0h1.7m1.3 0h1.7m7.3 0h1.7m1.3 0h1.7m1.3 0h1.7m2.3 0h5.7m1.3 0h1.7m1.3 0h1.7m1.3 0h1.7m1.3 0h2.7m0.3 0h1.7m1.3 0h4.7m0.3 0h1.7m3.3 0h1.7m-73.7 1h1.7m7.3 0h1.7m5.3 0h1.7m3.3 0h1.7m2.3 0h2.7m0.3 0h1.7m2.3 0h5.7m0.3 0h1.7m0.3 0h2.7m1.3 0h7.7m0.3 0h4.7m0.3 0h5.7m1.3 0h2.7m-103.7 1h2.7m52.3 0h1.7m0.3 0h1.7m0.3 0h1.7m0.3 0h1.7m5.3 0h1.7m0.3 0h2.7m0.3 0h1.7m1.3 0h1.7m0.3 0h2.7m0.3 0h5.7m0.3 0h3.7m1.3 0h3.7m1.3 0h1.7m2.3 0h3.7m1.3 0h1.7m0.3 0h1.7m-128.7 1h2.7m29.3 0h1.7m37.3 0h1.7m0.3 0h1.7m0.3 0h1.7m0.3 0h1.7m0.3 0h1.7m0.3 0h1.7m0.3 0h4.7m0.3 0h3.7m0.3 0h1.7m0.3 0h3.7m1.3 0h16.7m0.3 0h1.7m0.3 0h2.7m0.3 0h5.7m1.3 0h1.7m-143.7 1h1.7m41.3 0h1.7m4.3 0h1.7m27.3 0h2.7m11.3 0h1.7m1.3 0h1.7m1.3 0h1.7m0.3 0h2.7m0.3 0h2.7m0.3 0h1.7m1.3 0h1.7m0.3 0h1.7m0.3 0h1.7m1.3 0h2.7m1.3 0h2.7m1.3 0h3.7m0.3 0h4.7m0.3 0h3.7m3.3 0h2.7m-134.7 1h1.7m12.3 0h1.7m4.3 0h1.7m18.3 0h2.7m4.3 0h1.7m6.3 0h1.7m5.3 0h1.7m12.3 0h3.7m7.3 0h4.7m3.3 0h1.7m1.3 0h14.7m1.3 0h4.7m1.3 0h2.7m1.3 0h2.7m1.3 0h1.7m2.3 0h1.7m-144.7 1h1.7m70.3 0h2.7m13.3 0h2.7m1.3 0h1.7m1.3 0h1.7m8.3 0h2.7m3.3 0h1.7m1.3 0h4.7m1.3 0h2.7m0.3 0h4.7m1.3 0h2.7m2.3 0h1.7m1.3 0h1.7m-81.7 1h1.7m7.3 0h1.7m1.3 0h1.7m15.3 0h1.7m2.3 0h2.7m0.3 0h1.7m5.3 0h1.7m3.3 0h1.7m2.3 0h2.7m0.3 0h1.7m0.3 0h1.7m2.3 0h2.7m1.3 0h1.7m2.3 0h2.7m2.3 0h2.7m4.3 0h1.7m8.3 0h1.7m-37.7 1h2.7m9.3 0h1.7m0.3 0h1.7m8.3 0h1.7m1.3 0h1.7m-111.7 1h1.7m66.3 0h1.7m12.3 0h2.7m0.3 0h1.7m7.3 0h1.7m9.3 0h2.7m8.3 0h1.7m-126.7 1h1.7m28.3 0h1.7m58.3 0h1.7m25.3 0h1.7m-31.7 1h1.7m17.3 0h1.7m-122.7 1h1.7m7.3 0h1.7m73.3 1h1.7m15.3 0h1.7m11.3 0h1.7m12.3 0h1.7m-18.7 1h1.7m9.3 0h1.7m-9.7 1h1.7m1.3 0h1.7m-45.7 1h1.7m38.3 0h1.7m-42.7 1h1.7m5.3 0h1.7m0.3 0h1.7m8.3 1h1.7m30.3 0h1.7m0.3 0h1.7m12.3 0h1.7m-55.7 1h1.7m9.3 0h1.7m20.3 1h1.7m23.3 0h1.7m-37.7 1h1.7m4.3 1h1.7m-29.7 2h1.7m12.3 0h1.7m-30.7 1h1.7m3.3 0h1.7m5.3 0h1.7m-14.7 2h1.7m3.3 0h1.7m0.3 0h1.7m18.3 0h1.7m-63.7 1h1.7m39.3 0h1.7m46.3 0h1.7m-34.7 1h1.7m10.3 0h1.7m2.3 1h1.7m0.3 0h1.7m12.3 0h1.7m7.3 0h1.7m5.3 0h1.7m-117.7 1h1.7m32.3 0h1.7m40.3 1h1.7m24.3 0h1.7m-83.7 1h1.7m21.3 0h1.7m16.3 0h1.7m47.3 0h1.7m-82.7 1h1.7m52.3 0h1.7m20.3 0h1.7m-72.7 1h1.7m4.3 0h1.7m20.3 0h1.7m22.3 0h1.7m-83.7 1h1.7m18.3 0h1.7m12.3 0h1.7m1.3 0h1.7m17.3 0h1.7m-22.7 1h1.7m14.3 0h1.7m16.3 0h1.7m11.3 0h1.7m3.3 0h1.7m21.3 0h1.7m-68.7 1h1.7m1.3 0h1.7m12.3 0h1.7m11.3 0h1.7m18.3 0h1.7m2.3 0h1.7m-120.7 1h2.7m25.3 0h1.7m1.3 0h1.7m17.3 0h1.7m19.3 0h1.7m45.3 0h1.7m-50.7 1h1.7m6.3 0h1.7m16.3 0h1.7m12.3 0h1.7m18.3 0h1.7m23.3 0h1.7m-135.7 1h1.7m54.3 0h1.7m2.3 0h1.7m-79.7 1h1.7m17.3 0h1.7m5.3 0h1.7m1.3 0h1.7m37.3 0h1.7m28.3 0h1.7m-109.7 1h1.7m5.3 0h1.7m31.3 0h1.7m38.3 0h4.7m2.3 0h1.7m22.3 0h1.7m-76.7 1h1.7m0.3 0h1.7m18.3 0h1.7m8.3 0h1.7m8.3 0h1.7m0.3 0h1.7m1.3 0h3.7m41.3 0h1.7m-130.7 1h1.7m17.3 0h1.7m12.3 0h1.7m24.3 0h1.7m2.3 0h1.7m4.3 0h2.7m3.3 0h1.7m1.3 0h1.7m1.3 0h4.7m0.3 0h1.7m-76.7 1h1.7m13.3 0h1.7m2.3 0h1.7m9.3 0h1.7m7.3 0h1.7m11.3 0h2.7m2.3 0h1.7m2.3 0h2.7m1.3 0h1.7m1.3 0h3.7m1.3 0h3.7m1.3 0h1.7m6.3 0h1.7m17.3 0h1.7m-114.7 1h1.7m16.3 0h1.7m44.3 0h1.7m0.3 0h3.7m0.3 0h1.7m1.3 0h2.7m1.3 0h1.7m0.3 0h1.7m1.3 0h3.7m48.3 0h1.7m-132.7 1h1.7m24.3 0h1.7m37.3 0h4.7m1.3 0h1.7m0.3 0h5.7m0.3 0h1.7m1.3 0h1.7m51.3 0h1.7m-122.7 1h1.7m31.3 0h1.7m3.3 0h2.7m1.3 0h1.7m0.3 0h1.7m1.3 0h2.7m0.3 0h1.7m0.3 0h6.7m0.3 0h3.7m0.3 0h1.7m0.3 0h1.7m15.3 0h1.7m2.3 0h1.7m29.3 0h1.7m-108.7 1h1.7m15.3 0h1.7m3.3 0h1.7m0.3 0h1.7m0.3 0h1.7m4.3 0h2.7m0.3 0h2.7m0.3 0h4.7m0.3 0h1.7m0.3 0h6.7m1.3 0h1.7m0.3 0h3.7m4.3 0h1.7m8.3 0h1.7m13.3 0h1.7m-90.7 1h1.7m14.3 0h1.7m0.3 0h1.7m0.3 0h1.7m5.3 0h2.7m0.3 0h1.7m0.3 0h1.7m0.3 0h3.7m1.3 0h5.7m0.3 0h2.7m0.3 0h5.7m0.3 0h1.7m1.3 0h1.7m0.3 0h1.7m56.3 0h1.7m-105.7 1h2.7m5.3 0h1.7m0.3 0h1.7m0.3 0h1.7m0.3 0h3.7m2.3 0h3.7m1.3 0h5.7m0.3 0h4.7m0.3 0h5.7m0.3 0h3.7m0.3 0h1.7m0.3 0h1.7m25.3 0h1.7m8.3 0h1.7m-109.7 1h1.7m18.3 0h1.7m1.3 0h1.7m0.3 0h1.7m4.3 0h4.7m0.3 0h1.7m0.3 0h1.7m0.3 0h3.7m1.3 0h5.7m0.3 0h7.7m0.3 0h2.7m0.3 0h2.7m4.3 0h1.7m0.3 0h1.7m3.3 0h1.7m11.3 0h1.7m14.3 0h1.7m-109.7 1h1.7m20.3 0h1.7m8.3 0h1.7m1.3 0h1.7m3.3 0h2.7m1.3 0h1.7m1.3 0h2.7m0.3 0h2.7m1.3 0h2.7m1.3 0h1.7m0.3 0h5.7m0.3 0h1.7m0.3 0h2.7m2.3 0h1.7m8.3 0h1.7m25.3 0h1.7m-121.7 1h1.7m28.3 0h1.7m1.3 0h1.7m1.3 0h1.7m2.3 0h2.7m3.3 0h1.7m0.3 0h1.7m0.3 0h1.7m0.3 0h2.7m1.3 0h4.7m0.3 0h3.7m0.3 0h1.7m0.3 0h1.7m0.3 0h4.7m0.3 0h1.7m0.3 0h2.7m0.3 0h1.7m13.3 0h1.7m27.3 0h1.7m-120.7 1h1.7m4.3 0h1.7m1.3 0h1.7m5.3 0h1.7m6.3 0h1.7m5.3 0h1.7m2.3 0h1.7m2.3 0h1.7m1.3 0h8.7m0.3 0h5.7m0.3 0h2.7m0.3 0h12.7m1.3 0h1.7m0.3 0h2.7m2.3 0h1.7m3.3 0h1.7m35.3 0h2.7m-110.7 1h1.7m6.3 0h2.7m4.3 0h1.7m0.3 0h2.7m1.3 0h1.7m6.3 0h1.7m0.3 0h8.7m0.3 0h2.7m0.3 0h10.7m0.3 0h1.7m0.3 0h2.7m0.3 0h2.7m0.3 0h1.7m-83.7 1h1.7m27.3 0h3.7m0.3 0h1.7m5.3 0h1.7m1.3 0h1.7m1.3 0h2.7m2.3 0h8.7m0.3 0h10.7m0.3 0h7.7m2.3 0h1.7m0.3 0h1.7m1.3 0h1.7m46.3 0h1.7m-131.7 1h1.7m2.3 0h1.7m16.3 0h2.7m7.3 0h1.7m2.3 0h5.7m0.3 0h1.7m0.3 0h19.7m0.3 0h2.7m0.3 0h3.7m1.3 0h2.7m0.3 0h1.7m0.3 0h3.7m12.3 0h1.7m50.3 0h1.7m-156.7 1h1.7m1.3 0h1.7m6.3 0h2.7m2.3 0h1.7m5.3 0h1.7m6.3 0h1.7m2.3 0h1.7m3.3 0h1.7m1.3 0h12.7m0.3 0h13.7m0.3 0h12.7m1.3 0h4.7m27.3 0h1.7m-115.7 1h2.7m0.3 0h1.7m1.3 0h1.7m5.3 0h1.7m1.3 0h1.7m3.3 0h1.7m0.3 0h1.7m11.3 0h1.7m0.3 0h3.7m0.3 0h1.7m0.3 0h19.7m0.3 0h15.7m0.3 0h1.7m5.3 0h1.7m6.3 0h1.7m-97.7 1h1.7m1.3 0h1.7m3.3 0h1.7m2.3 0h1.7m6.3 0h3.7m0.3 0h1.7m1.3 0h1.7m0.3 0h2.7m1.3 0h5.7m0.3 0h31.7m0.3 0h12.7m1.3 0h4.7m-93.7 1h1.7m0.3 0h1.7m1.3 0h1.7m2.3 0h1.7m0.3 0h3.7m5.3 0h2.7m0.3 0h1.7m0.3 0h9.7m0.3 0h21.7m0.3 0h7.7m0.3 0h5.7m0.3 0h1.7m0.3 0h3.7m1.3 0h8.7m1.3 0h3.7m-88.7 1h2.7m0.3 0h1.7m2.3 0h1.7m0.3 0h2.7m1.3 0h2.7m0.3 0h8.7m0.3 0h4.7m0.3 0h37.7m0.3 0h1.7m1.3 0h1.7m0.3 0h4.7m0.3 0h2.7m2.3 0h3.7m1.3 0h2.7m41.3 0h1.7m-136.7 1h1.7m1.3 0h14.7m1.3 0h19.7m0.3 0h12.7m0.3 0h18.7m0.3 0h3.7m0.3 0h1.7m1.3 0h8.7m0.3 0h1.7m1.3 0h1.7m1.3 0h1.7m0.3 0h1.7m18.3 0h1.7m20.3 0h1.7m4.3 0h1.7m-144.7 1h2.7m0.3 0h68.7m0.3 0h6.7m0.3 0h2.7m0.3 0h6.7m1.3 0h3.7m45.3 0h1.7m-140.7 1h32.7m0.3 0h11.7m0.3 0h31.7m1.3 0h1.7m0.3 0h1.7m1.3 0h4.7m1.3 0h2.7m0.3 0h1.7m48.3 0h1.7m-143.7 1h8.7m0.3 0h68.7m0.3 0h2.7m0.3 0h2.7m0.3 0h1.7m0.3 0h3.7m0.3 0h1.7m10.3 0h1.7m-103.7 1h84.7m1.3 0h1.7m0.3 0h4.7m-92.7 1h12.7m0.3 0h52.7m0.3 0h14.7m0.3 0h5.7m0.3 0h2.7m0.3 0h1.7m-91.7 1h45.7m0.3 0h25.7m0.3 0h11.7m0.3 0h4.7m0.3 0h1.7m52.3 0h1.7m1.3 0h1.7m-147.7 1h24.7m0.3 0h44.7m0.3 0h16.7m1.3 0h2.7m9.3 0h1.7m37.3 0h1.7m-140.7 1h11.7m0.3 0h56.7m1.3 0h1.7m0.3 0h6.7m0.3 0h2.7m2.3 0h2.7m1.3 0h1.7m34.3 0h1.7m8.3 0h1.7m-135.7 1h32.7m0.3 0h40.7m0.3 0h3.7m0.3 0h1.7m1.3 0h8.7m0.3 0h2.7m28.3 0h1.7m-122.7 1h29.7m0.3 0h7.7m0.3 0h13.7m0.3 0h19.7m0.3 0h2.7m0.3 0h5.7m0.3 0h5.7m0.3 0h3.7m1.3 0h1.7m4.3 0h1.7m3.3 0h1.7m24.3 0h1.7m-130.7 1h4.7m0.3 0h39.7m0.3 0h35.7m0.3 0h1.7m0.3 0h3.7m1.3 0h1.7m0.3 0h2.7m0.3 0h1.7m-94.7 1h29.7m0.3 0h7.7m0.3 0h12.7m0.3 0h21.7m0.3 0h10.7m0.3 0h1.7m1.3 0h1.7m0.3 0h4.7m0.3 0h2.7m-96.7 1h54.7m0.3 0h22.7m0.3 0h4.7m0.3 0h1.7m0.3 0h1.7m0.3 0h4.7m0.3 0h2.7m3.3 0h1.7m41.3 0h1.7m17.3 0h1.7m-161.7 1h30.7m0.3 0h15.7m0.3 0h23.7m0.3 0h8.7m0.3 0h5.7m0.3 0h5.7m47.3 0h1.7m-140.7 1h44.7m0.3 0h40.7m2.3 0h1.7m0.3 0h2.7m8.3 0h1.7m2.3 0h1.7m16.3 0h1.7m3.3 0h1.7m-129.7 1h47.7m0.3 0h2.7m0.3 0h9.7m0.3 0h6.7m0.3 0h1.7m0.3 0h8.7m0.3 0h3.7m0.3 0h2.7m1.3 0h1.7m0.3 0h1.7m1.3 0h1.7m-93.7 1h21.7m0.3 0h41.7m0.3 0h25.7m-89.7 1h1.7m0.3 0h43.7m0.3 0h18.7m0.3 0h1.7m1.3 0h11.7m0.3 0h5.7m0.3 0h2.7m0.3 0h1.7m2.3 0h1.7m-94.7 1h66.7m0.3 0h10.7m1.3 0h6.7m0.3 0h2.7m1.3 0h3.7m-93.7 1h55.7m0.3 0h9.7m1.3 0h1.7m0.3 0h3.7m1.3 0h3.7m0.3 0h1.7m0.3 0h1.7m0.3 0h4.7m0.3 0h1.7m0.3 0h1.7m0.3 0h1.7m0.3 0h1.7m-93.7 1h67.7m0.3 0h7.7m0.3 0h8.7m1.3 0h2.7m2.3 0h1.7m6.3 0h1.7m8.3 0h1.7m-111.7 1h4.7m0.3 0h39.7m0.3 0h39.7m0.3 0h1.7m0.3 0h1.7m3.3 0h2.7m13.3 0h1.7m-109.7 1h27.7m0.3 0h40.7m0.3 0h3.7m0.3 0h1.7m1.3 0h9.7m0.3 0h1.7m0.3 0h2.7m3.3 0h1.7m38.3 0h1.7m-135.7 1h85.7m0.3 0h1.7m0.3 0h4.7m1.3 0h1.7m32.3 0h1.7" stroke="#000" stroke-width="1.7" fill="none"/>
<rect x="325.8" y="217" width="185.5" height="134.8" fill="none" stroke="#000" stroke-width="1.6"/>
<path d="M412.2 217V351.8M325.8 294.2H511.3" stroke="#000" stroke-width="1.6" fill="none"/>
<path d="M326.6 351.8v6.8M372.5 351.8v6.8M418.4 351.8v6.8M464.2 351.8v6.8M510.1 351.8v6.8M340.4 351.8v4M348.5 351.8v4M354.2 351.8v4M358.7 351.8v4M362.3 351.8v4M365.4 351.8v4M368.0 351.8v4M370.4 351.8v4M386.3 351.8v4M394.4 351.8v4M400.1 351.8v4M404.5 351.8v4M408.2 351.8v4M411.2 351.8v4M413.9 351.8v4M416.3 351.8v4M432.2 351.8v4M440.2 351.8v4M446.0 351.8v4M450.4 351.8v4M454.0 351.8v4M457.1 351.8v4M459.8 351.8v4M462.1 351.8v4M478.0 351.8v4M486.1 351.8v4M491.8 351.8v4M496.3 351.8v4M499.9 351.8v4M503.0 351.8v4M505.7 351.8v4M508.0 351.8v4M325.8 350.5h-6.6M325.8 317.3h-6.6M325.8 284.1h-6.6M325.8 250.8h-6.6M325.8 217.6h-6.6M325.8 340.5h-3.9M325.8 334.6h-3.9M325.8 330.5h-3.9M325.8 327.3h-3.9M325.8 324.6h-3.9M325.8 322.4h-3.9M325.8 320.5h-3.9M325.8 318.8h-3.9M325.8 307.3h-3.9M325.8 301.4h-3.9M325.8 297.3h-3.9M325.8 294.1h-3.9M325.8 291.4h-3.9M325.8 289.2h-3.9M325.8 287.3h-3.9M325.8 285.6h-3.9M325.8 274.0h-3.9M325.8 268.2h-3.9M325.8 264.0h-3.9M325.8 260.8h-3.9M325.8 258.2h-3.9M325.8 256.0h-3.9M325.8 254.0h-3.9M325.8 252.3h-3.9M325.8 240.8h-3.9M325.8 235.0h-3.9M325.8 230.8h-3.9M325.8 227.6h-3.9M325.8 225.0h-3.9M325.8 222.7h-3.9M325.8 220.8h-3.9M325.8 219.1h-3.9" stroke="#000" stroke-width="1.5" fill="none"/>
<text class="f-sans" x="317.4" y="374.0" font-size="14" textLength="12" lengthAdjust="spacingAndGlyphs">10</text>
<text class="f-sans" x="330.6" y="366.5" font-size="13.5" textLength="6.2" lengthAdjust="spacingAndGlyphs">0</text>
<text class="f-sans" x="363.3" y="374.0" font-size="14" textLength="12" lengthAdjust="spacingAndGlyphs">10</text>
<text class="f-sans" x="376.5" y="366.5" font-size="13.5" textLength="6.2" lengthAdjust="spacingAndGlyphs">1</text>
<text class="f-sans" x="409.2" y="374.0" font-size="14" textLength="12" lengthAdjust="spacingAndGlyphs">10</text>
<text class="f-sans" x="422.4" y="366.5" font-size="13.5" textLength="6.2" lengthAdjust="spacingAndGlyphs">2</text>
<text class="f-sans" x="455.0" y="374.0" font-size="14" textLength="12" lengthAdjust="spacingAndGlyphs">10</text>
<text class="f-sans" x="468.2" y="366.5" font-size="13.5" textLength="6.2" lengthAdjust="spacingAndGlyphs">3</text>
<text class="f-sans" x="500.9" y="374.0" font-size="14" textLength="12" lengthAdjust="spacingAndGlyphs">10</text>
<text class="f-sans" x="514.1" y="366.5" font-size="13.5" textLength="6.2" lengthAdjust="spacingAndGlyphs">4</text>
<text class="f-sans" transform="translate(314.4 359.9) rotate(-90)" font-size="14.6" textLength="11.7" lengthAdjust="spacingAndGlyphs">10</text>
<text class="f-sans" transform="translate(306.2 345.1) rotate(-90)" font-size="13.8" textLength="6.4" lengthAdjust="spacingAndGlyphs">0</text>
<text class="f-sans" transform="translate(314.4 326.7) rotate(-90)" font-size="14.6" textLength="11.7" lengthAdjust="spacingAndGlyphs">10</text>
<text class="f-sans" transform="translate(306.2 311.9) rotate(-90)" font-size="13.8" textLength="6.4" lengthAdjust="spacingAndGlyphs">1</text>
<text class="f-sans" transform="translate(314.4 293.4) rotate(-90)" font-size="14.6" textLength="11.7" lengthAdjust="spacingAndGlyphs">10</text>
<text class="f-sans" transform="translate(306.2 278.6) rotate(-90)" font-size="13.8" textLength="6.4" lengthAdjust="spacingAndGlyphs">2</text>
<text class="f-sans" transform="translate(314.4 260.2) rotate(-90)" font-size="14.6" textLength="11.7" lengthAdjust="spacingAndGlyphs">10</text>
<text class="f-sans" transform="translate(306.2 245.4) rotate(-90)" font-size="13.8" textLength="6.4" lengthAdjust="spacingAndGlyphs">3</text>
<text class="f-sans" transform="translate(314.4 227.0) rotate(-90)" font-size="14.6" textLength="11.7" lengthAdjust="spacingAndGlyphs">10</text>
<text class="f-sans" transform="translate(306.2 212.2) rotate(-90)" font-size="13.8" textLength="6.4" lengthAdjust="spacingAndGlyphs">4</text>
<text class="f-sans" x="390" y="388.3" font-size="13.2" textLength="55.3" lengthAdjust="spacingAndGlyphs">CD71 PE</text>
<text class="f-sans" transform="translate(295.5 323.3) rotate(-90)" font-size="13.8" textLength="71.8" lengthAdjust="spacingAndGlyphs">Ter119 APC</text>
<text class="f-serif" x="461.4" y="236.8" font-size="20" font-weight="bold" textLength="44.5" lengthAdjust="spacingAndGlyphs">7.1%</text>
<text class="f-serif" x="465.5" y="347.6" font-size="20" font-weight="bold" textLength="44.4" lengthAdjust="spacingAndGlyphs">3.9%</text>
</g>
<g>
<path d="M86.7 431.5h1.7m-23.7 1h1.7m33.3 0h1.7m-37.7 3h1.7m8.3 0h1.7m23.3 0h1.7m4.3 2h1.7m29.3 0h1.7m-74.7 1h1.7m130.3 0h1.7m-103.7 1h1.7m42.3 0h1.7m-75.7 1h1.7m0.3 0h1.7m4.3 0h1.7m-3.7 1h2.7m3.3 0h1.7m56.3 0h1.7m-71.7 1h1.7m0.3 0h1.7m1.3 0h1.7m8.3 0h2.7m5.3 0h1.7m-22.7 1h1.7m0.3 0h4.7m1.3 0h1.7m2.3 0h1.7m2.3 0h1.7m13.3 0h1.7m30.3 0h1.7m43.3 0h1.7m20.3 0h1.7m-133.7 1h6.7m0.3 0h1.7m0.3 0h3.7m0.3 0h1.7m9.3 0h1.7m-25.7 1h3.7m2.3 0h3.7m2.3 0h1.7m15.3 0h1.7m1.3 0h1.7m-33.7 1h2.7m0.3 0h5.7m0.3 0h3.7m0.3 0h1.7m3.3 0h1.7m10.3 0h1.7m16.3 0h1.7m3.3 0h2.7m8.3 0h1.7m36.3 0h1.7m26.3 0h1.7m6.3 0h1.7m-139.7 1h3.7m0.3 0h2.7m1.3 0h6.7m0.3 0h1.7m0.3 0h1.7m34.3 0h1.7m41.3 0h1.7m-97.7 1h7.7m0.3 0h3.7m0.3 0h2.7m1.3 0h1.7m5.3 0h1.7m2.3 0h1.7m11.3 0h1.7m4.3 0h1.7m-47.7 1h1.7m0.3 0h1.7m0.3 0h7.7m0.3 0h1.7m0.3 0h1.7m13.3 0h1.7m12.3 0h1.7m-41.7 1h9.7m3.3 0h2.7m6.3 0h1.7m1.3 0h1.7m2.3 0h1.7m5.3 0h1.7m9.3 0h1.7m88.3 0h1.7m-140.7 1h1.7m2.3 0h2.7m0.3 0h2.7m1.3 0h1.7m15.3 0h2.7m7.3 0h1.7m10.3 0h2.7m27.3 0h1.7m-78.7 1h1.7m2.3 0h1.7m0.3 0h2.7m3.3 0h1.7m1.3 0h1.7m2.3 0h1.7m6.3 0h2.7m1.3 0h1.7m5.3 0h2.7m-28.7 1h1.7m7.3 0h1.7m3.3 0h1.7m16.3 0h1.7m90.3 0h1.7m-141.7 1h1.7m18.3 0h2.7m9.3 0h1.7m20.3 0h1.7m52.3 0h1.7m-105.7 1h1.7m11.3 0h1.7m15.3 0h1.7m2.3 0h1.7m1.3 0h1.7m-40.7 1h1.7m29.3 0h1.7m6.3 0h1.7m85.3 0h1.7m11.3 0h1.7m-104.7 1h1.7m4.3 0h1.7m0.3 1h2.7m6.3 0h1.7m2.3 0h1.7m-54.7 1h1.7m2.3 0h1.7m22.3 0h1.7m-29.7 1h1.7m129.3 0h1.7m-121.7 1h1.7m4.3 0h1.7m16.3 0h1.7m21.3 0h1.7m-55.7 1h1.7m-3.7 1h1.7m59.3 2h1.7m-52.7 1h1.7m52.3 0h1.7m-57.7 1h1.7m31.3 0h1.7m19.3 0h1.7m70.3 1h1.7m-127.7 1h1.7m0.3 0h1.7m26.3 0h1.7m-33.7 1h1.7m-3.7 1h1.7m17.3 0h1.7m-20.7 1h1.7m0.3 0h1.7m99.3 0h1.7m-88.7 1h1.7m93.3 1h1.7m15.3 0h1.7m-18.7 1h1.7m12.3 0h1.7m-31.7 1h1.7m-96.7 1h1.7m119.3 0h1.7m2.3 0h1.7m-125.7 2h1.7m-14.7 1h1.7m22.3 0h1.7m19.3 0h1.7m56.3 0h1.7m-100.7 2h1.7m19.3 0h1.7m3.3 0h1.7m32.3 0h1.7m-14.7 1h3.7m27.3 0h1.7m25.3 0h1.7m-53.7 1h1.7m46.3 0h1.7m30.3 0h1.7m-86.7 1h1.7m4.3 0h1.7m0.3 0h1.7m60.3 0h1.7m-80.7 1h1.7m4.3 0h1.7m0.3 0h1.7m5.3 0h3.7m8.3 0h1.7m8.3 0h1.7m-32.7 1h1.7m2.3 0h1.7m0.3 0h1.7m0.3 0h1.7m4.3 0h1.7m-54.7 1h1.7m23.3 0h1.7m6.3 0h1.7m6.3 0h1.7m0.3 0h2.7m0.3 0h1.7m0.3 0h2.7m62.3 0h1.7m-75.7 1h1.7m0.3 0h3.7m0.3 0h2.7m0.3 0h1.7m8.3 0h2.7m-16.7 1h1.7m0.3 0h1.7m3.3 0h1.7m-20.7 1h1.7m3.3 0h6.7m1.3 0h1.7m1.3 0h1.7m1.3 0h1.7m3.3 0h1.7m6.3 0h1.7m22.3 0h1.7m5.3 0h1.7m6.3 0h1.7m19.3 0h1.7m-119.7 1h1.7m15.3 0h1.7m13.3 0h2.7m0.3 0h1.7m0.3 0h3.7m4.3 0h1.7m3.3 0h1.7m8.3 0h1.7m0.3 0h1.7m8.3 0h1.7m-55.7 1h1.7m5.3 0h1.7m1.3 0h2.7m0.3 0h4.7m2.3 0h5.7m1.3 0h1.7m2.3 0h1.7m1.3 0h1.7m3.3 0h1.7m1.3 0h1.7m30.3 0h1.7m7.3 0h1.7m-98.7 1h1.7m2.3 0h1.7m10.3 0h1.7m0.3 0h2.7m2.3 0h3.7m0.3 0h1.7m1.3 0h5.7m2.3 0h1.7m6.3 0h1.7m5.3 0h1.7m50.3 0h1.7m60.3 0h1.7m-184.7 1h1.7m0.3 0h1.7m4.3 0h2.7m4.3 0h2.7m0.3 0h1.7m2.3 0h1.7m1.3 0h3.7m2.3 0h2.7m0.3 0h2.7m0.3 0h4.7m1.3 0h1.7m0.3 0h6.7m0.3 0h1.7m0.3 0h2.7m1.3 0h1.7m3.3 0h1.7m4.3 0h1.7m7.3 0h1.7m-78.7 1h1.7m1.3 0h1.7m7.3 0h1.7m6.3 0h4.7m0.3 0h2.7m2.3 0h1.7m2.3 0h2.7m0.3 0h1.7m0.3 0h10.7m2.3 0h1.7m9.3 0h1.7m3.3 0h1.7m3.3 0h1.7m0.3 0h1.7m12.3 0h1.7m68.3 0h1.7m-163.7 1h1.7m2.3 0h1.7m2.3 0h1.7m1.3 0h1.7m0.3 0h2.7m1.3 0h3.7m4.3 0h2.7m5.3 0h1.7m0.3 0h7.7m0.3 0h2.7m0.3 0h2.7m0.3 0h1.7m1.3 0h2.7m1.3 0h3.7m8.3 0h1.7m4.3 0h1.7m0.3 0h1.7m27.3 0h1.7m-106.7 1h5.7m1.3 0h3.7m1.3 0h1.7m3.3 0h2.7m2.3 0h4.7m0.3 0h4.7m0.3 0h3.7m0.3 0h1.7m0.3 0h8.7m2.3 0h3.7m0.3 0h3.7m1.3 0h1.7m2.3 0h1.7m45.3 0h1.7m-112.7 1h2.7m3.3 0h1.7m0.3 0h2.7m0.3 0h23.7m1.3 0h2.7m0.3 0h2.7m2.3 0h2.7m0.3 0h1.7m0.3 0h1.7m0.3 0h1.7m1.3 0h1.7m1.3 0h3.7m3.3 0h1.7m0.3 0h1.7m0.3 0h1.7m0.3 0h1.7m3.3 0h1.7m59.3 0h1.7m-137.7 1h2.7m0.3 0h15.7m0.3 0h3.7m0.3 0h15.7m0.3 0h7.7m1.3 0h1.7m0.3 0h1.7m5.3 0h1.7m2.3 0h1.7m-62.7 1h17.7m0.3 0h16.7m0.3 0h7.7m0.3 0h1.7m0.3 0h2.7m4.3 0h1.7m11.3 0h1.7m31.3 0h1.7m-99.7 1h17.7m0.3 0h18.7m0.3 0h2.7m0.3 0h4.7m1.3 0h1.7m16.3 0h1.7m32.3 0h1.7m5.3 0h1.7m48.3 0h1.7m29.3 0h1.7m-187.7 1h38.7m0.3 0h8.7m0.3 0h1.7m0.3 0h1.7m2.3 0h2.7m0.3 0h5.7m1.3 0h1.7m65.3 0h1.7m10.3 0h1.7m-144.7 1h1.7m0.3 0h2.7m0.3 0h25.7m0.3 0h4.7m0.3 0h6.7m0.3 0h1.7m1.3 0h3.7m4.3 0h1.7m19.3 0h1.7m48.3 0h1.7m-126.7 1h36.7m0.3 0h5.7m1.3 0h1.7m3.3 0h3.7m2.3 0h1.7m14.3 0h2.7m9.3 0h1.7m2.3 0h1.7m22.3 0h1.7m-112.7 1h37.7m0.3 0h2.7m0.3 0h4.7m0.3 0h2.7m18.3 0h1.7m-68.7 1h41.7m0.3 0h1.7m0.3 0h1.7m3.3 0h1.7m6.3 0h1.7m32.3 0h1.7m11.3 0h1.7m-105.7 1h42.7m1.3 0h1.7m0.3 0h4.7m3.3 0h2.7m12.3 0h1.7m37.3 0h1.7m-109.7 1h7.7m0.3 0h29.7m0.3 0h1.7m0.3 0h2.7m0.3 0h2.7m3.3 0h1.7m0.3 0h1.7m0.3 0h1.7m1.3 0h1.7m3.3 0h1.7m3.3 0h1.7m0.3 0h1.7m4.3 0h1.7m26.3 0h1.7m24.3 0h1.7m-129.7 1h38.7m0.3 0h2.7m0.3 0h2.7m4.3 0h1.7m1.3 0h1.7m6.3 0h1.7m11.3 0h1.7m19.3 0h1.7m-95.7 1h3.7m0.3 0h12.7m0.3 0h17.7m0.3 0h2.7m1.3 0h1.7m0.3 0h1.7m1.3 0h5.7m0.3 0h1.7m0.3 0h1.7m3.3 0h1.7m42.3 0h1.7m8.3 0h1.7m13.3 0h1.7m9.3 0h1.7m-137.7 1h28.7m0.3 0h4.7m2.3 0h2.7m2.3 0h2.7m2.3 0h1.7m8.3 0h1.7m0.3 0h1.7m2.3 0h1.7m25.3 0h1.7m0.3 0h1.7m3.3 0h1.7m35.3 0h2.7m-136.7 1h7.7m0.3 0h11.7m0.3 0h9.7m0.3 0h3.7m0.3 0h1.7m0.3 0h1.7m1.3 0h1.7m1.3 0h2.7m2.3 0h1.7m2.3 0h1.7m0.3 0h1.7m1.3 0h1.7m1.3 0h1.7m0.3 0h1.7m59.3 0h2.7m1.3 0h1.7m48.3 0h1.7m-177.7 1h5.7m0.3 0h25.7m0.3 0h1.7m0.3 0h1.7m0.3 0h1.7m0.3 0h2.7m2.3 0h1.7m1.3 0h1.7m3.3 0h2.7m3.3 0h2.7m0.3 0h1.7m1.3 0h1.7m57.3 0h1.7m10.3 0h1.7m24.3 0h1.7m-161.7 1h35.7m0.3 0h4.7m1.3 0h2.7m0.3 0h1.7m2.3 0h1.7m6.3 0h1.7m5.3 0h1.7m108.3 0h1.7m-175.7 1h38.7m0.3 0h2.7m0.3 0h1.7m0.3 0h1.7m4.3 0h2.7m1.3 0h1.7m4.3 0h2.7m1.3 0h1.7m11.3 0h1.7m6.3 0h1.7m41.3 0h1.7m4.3 0h1.7m-135.7 1h17.7m0.3 0h17.7m1.3 0h3.7m2.3 0h3.7m4.3 0h1.7m1.3 0h2.7m0.3 0h1.7m3.3 0h1.7m5.3 0h1.7m5.3 0h1.7m75.3 0h1.7m-154.7 1h33.7m1.3 0h1.7m0.3 0h3.7m0.3 0h1.7m0.3 0h1.7m1.3 0h1.7m1.3 0h1.7m2.3 0h1.7m0.3 0h1.7m1.3 0h2.7m42.3 0h1.7m25.3 0h1.7m0.3 0h1.7m-133.7 1h11.7m0.3 0h5.7m0.3 0h16.7m1.3 0h2.7m0.3 0h1.7m1.3 0h1.7m1.3 0h2.7m1.3 0h1.7m1.3 0h3.7m6.3 0h1.7m3.3 0h1.7m29.3 0h1.7m-99.7 1h35.7m0.3 0h1.7m1.3 0h3.7m1.3 0h2.7m1.3 0h1.7m1.3 0h1.7m3.3 0h2.7m29.3 0h1.7m5.3 0h1.7m21.3 0h1.7m-119.7 1h27.7m0.3 0h7.7m0.3 0h1.7m0.3 0h1.7m2.3 0h7.7m2.3 0h2.7m-54.7 1h2.7m0.3 0h27.7m0.3 0h6.7m0.3 0h2.7m1.3 0h1.7m2.3 0h2.7m3.3 0h1.7m3.3 0h1.7m5.3 0h1.7m-65.7 1h34.7m1.3 0h4.7m0.3 0h1.7m0.3 0h2.7m3.3 0h1.7m1.3 0h1.7m6.3 0h1.7m40.3 0h1.7m33.3 0h1.7m-138.7 1h34.7m2.3 0h1.7m0.3 0h1.7m2.3 0h4.7m3.3 0h1.7m1.3 0h2.7m0.3 0h1.7m0.3 0h1.7m30.3 0h1.7m11.3 0h1.7m18.3 0h1.7m10.3 0h1.7m-137.7 1h40.7m0.3 0h4.7m0.3 0h1.7m1.3 0h3.7m7.3 0h1.7m30.3 0h1.7m44.3 0h1.7m9.3 0h1.7m21.3 0h1.7m-173.7 1h35.7m1.3 0h3.7m1.3 0h2.7m0.3 0h1.7m0.3 0h1.7m3.3 0h2.7m-54.7 1h32.7m0.3 0h2.7m0.3 0h1.7m2.3 0h1.7m0.3 0h3.7m3.3 0h3.7m3.3 0h1.7m24.3 0h1.7m-83.7 1h37.7m1.3 0h1.7m2.3 0h1.7m3.3 0h1.7m2.3 0h1.7m2.3 0h2.7m7.3 0h1.7m7.3 0h1.7m-76.7 1h33.7m0.3 0h1.7m0.3 0h2.7m0.3 0h1.7m2.3 0h1.7m2.3 0h1.7m3.3 0h1.7m0.3 0h1.7m1.3 0h1.7m1.3 0h1.7m10.3 0h1.7m44.3 0h1.7m-118.7 1h5.7m0.3 0h2.7m0.3 0h25.7m2.3 0h2.7m4.3 0h1.7m2.3 0h1.7m0.3 0h1.7m0.3 0h1.7m0.3 0h1.7m14.3 0h1.7m-72.7 1h1.7m0.3 0h33.7m0.3 0h1.7m1.3 0h1.7m1.3 0h5.7m0.3 0h1.7m4.3 0h1.7m1.3 0h1.7m33.3 0h1.7m9.3 0h1.7m12.3 0h1.7m17.3 0h1.7m30.3 0h1.7" stroke="#000" stroke-width="1.7" fill="none"/>
<rect x="62.8" y="399.6" width="188.7" height="133.39999999999998" fill="none" stroke="#000" stroke-width="1.6"/>
<path d="M118.4 399.6V533M62.8 488.8H251.5" stroke="#000" stroke-width="1.6" fill="none"/>
<path d="M63.6 533v6.8M110.3 533v6.8M156.9 533v6.8M203.6 533v6.8M250.3 533v6.8M77.7 533v4M85.9 533v4M91.7 533v4M96.2 533v4M99.9 533v4M103.0 533v4M105.8 533v4M108.1 533v4M124.3 533v4M132.5 533v4M138.4 533v4M142.9 533v4M146.6 533v4M149.7 533v4M152.4 533v4M154.8 533v4M171.0 533v4M179.2 533v4M185.1 533v4M189.6 533v4M193.3 533v4M196.4 533v4M199.1 533v4M201.5 533v4M217.7 533v4M225.9 533v4M231.7 533v4M236.2 533v4M239.9 533v4M243.1 533v4M245.8 533v4M248.2 533v4M62.8 531.7h-6.6M62.8 498.8h-6.6M62.8 466.0h-6.6M62.8 433.1h-6.6M62.8 400.2h-6.6M62.8 521.8h-3.9M62.8 516.0h-3.9M62.8 511.9h-3.9M62.8 508.7h-3.9M62.8 506.1h-3.9M62.8 503.9h-3.9M62.8 502.0h-3.9M62.8 500.3h-3.9M62.8 488.9h-3.9M62.8 483.1h-3.9M62.8 479.0h-3.9M62.8 475.8h-3.9M62.8 473.2h-3.9M62.8 471.0h-3.9M62.8 469.1h-3.9M62.8 467.5h-3.9M62.8 456.1h-3.9M62.8 450.3h-3.9M62.8 446.2h-3.9M62.8 443.0h-3.9M62.8 440.4h-3.9M62.8 438.2h-3.9M62.8 436.3h-3.9M62.8 434.6h-3.9M62.8 423.2h-3.9M62.8 417.4h-3.9M62.8 413.3h-3.9M62.8 410.1h-3.9M62.8 407.5h-3.9M62.8 405.3h-3.9M62.8 403.4h-3.9M62.8 401.7h-3.9" stroke="#000" stroke-width="1.5" fill="none"/>
<text class="f-sans" x="52.9" y="555.2" font-size="14" textLength="12" lengthAdjust="spacingAndGlyphs">10</text>
<text class="f-sans" x="66.1" y="547.7" font-size="13.5" textLength="6.2" lengthAdjust="spacingAndGlyphs">0</text>
<text class="f-sans" x="99.6" y="555.2" font-size="14" textLength="12" lengthAdjust="spacingAndGlyphs">10</text>
<text class="f-sans" x="112.8" y="547.7" font-size="13.5" textLength="6.2" lengthAdjust="spacingAndGlyphs">1</text>
<text class="f-sans" x="146.2" y="555.2" font-size="14" textLength="12" lengthAdjust="spacingAndGlyphs">10</text>
<text class="f-sans" x="159.4" y="547.7" font-size="13.5" textLength="6.2" lengthAdjust="spacingAndGlyphs">2</text>
<text class="f-sans" x="192.9" y="555.2" font-size="14" textLength="12" lengthAdjust="spacingAndGlyphs">10</text>
<text class="f-sans" x="206.1" y="547.7" font-size="13.5" textLength="6.2" lengthAdjust="spacingAndGlyphs">3</text>
<text class="f-sans" x="239.6" y="555.2" font-size="14" textLength="12" lengthAdjust="spacingAndGlyphs">10</text>
<text class="f-sans" x="252.8" y="547.7" font-size="13.5" textLength="6.2" lengthAdjust="spacingAndGlyphs">4</text>
<text class="f-sans" transform="translate(51.4 541.1) rotate(-90)" font-size="14.6" textLength="11.7" lengthAdjust="spacingAndGlyphs">10</text>
<text class="f-sans" transform="translate(43.2 526.3) rotate(-90)" font-size="13.8" textLength="6.4" lengthAdjust="spacingAndGlyphs">0</text>
<text class="f-sans" transform="translate(51.4 508.2) rotate(-90)" font-size="14.6" textLength="11.7" lengthAdjust="spacingAndGlyphs">10</text>
<text class="f-sans" transform="translate(43.2 493.4) rotate(-90)" font-size="13.8" textLength="6.4" lengthAdjust="spacingAndGlyphs">1</text>
<text class="f-sans" transform="translate(51.4 475.4) rotate(-90)" font-size="14.6" textLength="11.7" lengthAdjust="spacingAndGlyphs">10</text>
<text class="f-sans" transform="translate(43.2 460.6) rotate(-90)" font-size="13.8" textLength="6.4" lengthAdjust="spacingAndGlyphs">2</text>
<text class="f-sans" transform="translate(51.4 442.5) rotate(-90)" font-size="14.6" textLength="11.7" lengthAdjust="spacingAndGlyphs">10</text>
<text class="f-sans" transform="translate(43.2 427.7) rotate(-90)" font-size="13.8" textLength="6.4" lengthAdjust="spacingAndGlyphs">3</text>
<text class="f-sans" transform="translate(51.4 409.6) rotate(-90)" font-size="14.6" textLength="11.7" lengthAdjust="spacingAndGlyphs">10</text>
<text class="f-sans" transform="translate(43.2 394.8) rotate(-90)" font-size="13.8" textLength="6.4" lengthAdjust="spacingAndGlyphs">4</text>
<text class="f-sans" x="129.3" y="568.4" font-size="13.2" textLength="54.8" lengthAdjust="spacingAndGlyphs">CD41 PE</text>
<text class="f-sans" transform="translate(32.7 503.3) rotate(-90)" font-size="13.8" textLength="71" lengthAdjust="spacingAndGlyphs">Ter119 APC</text>
<text class="f-serif" x="72.1" y="421.5" font-size="20" font-weight="bold" textLength="44.4" lengthAdjust="spacingAndGlyphs">4.4%</text>
<text class="f-serif" x="205.1" y="529.9" font-size="20" font-weight="bold" textLength="43.7" lengthAdjust="spacingAndGlyphs">2.5%</text>
</g>
<g>
<path d="M353.6 426.5h1.7m-20.7 1h1.7m2.3 1h1.7m32.3 1h1.7m-44.7 1h1.7m3.3 0h1.7m4.3 0h1.7m12.3 0h1.7m8.3 0h1.7m-39.7 2h1.7m0.3 0h1.7m36.3 1h1.7m-27.7 1h1.7m1.3 0h1.7m31.3 1h1.7m-49.7 1h1.7m11.3 0h1.7m16.3 1h1.7m-24.7 1h1.7m2.3 0h1.7m3.3 0h1.7m5.3 0h1.7m-23.7 1h1.7m0.3 0h2.7m5.3 0h1.7m16.3 0h1.7m-32.7 1h1.7m3.3 0h3.7m1.3 0h2.7m2.3 0h1.7m0.3 0h2.7m6.3 0h1.7m-28.7 1h1.7m2.3 0h9.7m2.3 0h2.7m17.3 0h1.7m5.3 0h1.7m-44.7 1h2.7m0.3 0h1.7m0.3 0h2.7m0.3 0h1.7m0.3 0h11.7m14.3 0h1.7m5.3 0h1.7m-44.7 1h1.7m3.3 0h11.7m0.3 0h1.7m1.3 0h1.7m0.3 0h2.7m0.3 0h1.7m6.3 0h1.7m-34.7 1h1.7m1.3 0h5.7m0.3 0h10.7m10.3 0h2.7m11.3 0h1.7m7.3 0h1.7m49.3 0h1.7m28.3 0h1.7m-135.7 1h2.7m3.3 0h8.7m0.3 0h8.7m2.3 0h1.7m7.3 0h1.7m3.3 0h1.7m98.3 0h1.7m-141.7 1h2.7m0.3 0h15.7m0.3 0h7.7m9.3 0h1.7m3.3 0h1.7m1.3 0h1.7m75.3 0h1.7m-122.7 1h4.7m0.3 0h1.7m0.3 0h1.7m0.3 0h6.7m0.3 0h3.7m1.3 0h1.7m0.3 0h1.7m1.3 0h1.7m2.3 0h1.7m2.3 0h2.7m1.3 0h2.7m2.3 0h1.7m0.3 0h1.7m-46.7 1h2.7m1.3 0h1.7m0.3 0h1.7m0.3 0h6.7m1.3 0h5.7m0.3 0h2.7m0.3 0h1.7m0.3 0h1.7m8.3 0h1.7m6.3 0h1.7m2.3 0h1.7m0.3 0h1.7m-52.7 1h2.7m0.3 0h2.7m4.3 0h1.7m0.3 0h1.7m0.3 0h3.7m1.3 0h1.7m4.3 0h3.7m3.3 0h1.7m4.3 0h2.7m1.3 0h1.7m5.3 0h1.7m-48.7 1h2.7m0.3 0h1.7m0.3 0h1.7m3.3 0h1.7m6.3 0h3.7m8.3 0h1.7m5.3 0h1.7m6.3 0h1.7m0.3 0h1.7m54.3 0h1.7m-104.7 1h2.7m2.3 0h1.7m1.3 0h1.7m6.3 0h1.7m0.3 0h1.7m1.3 0h1.7m2.3 0h1.7m5.3 0h1.7m15.3 0h1.7m-34.7 1h1.7m5.3 0h1.7m10.3 0h1.7m8.3 0h1.7m1.3 0h1.7m-26.7 1h1.7m2.3 0h1.7m13.3 1h1.7m54.3 0h1.7m-99.7 1h1.7m40.3 0h2.7m4.3 0h1.7m-29.7 1h1.7m12.3 0h1.7m-20.7 3h1.7m26.3 1h1.7m-43.7 1h1.7m72.3 0h1.7m-42.7 1h1.7m93.3 0h1.7m10.3 1h1.7m-136.7 1h1.7m21.3 0h1.7m-4.7 1h1.7m1.3 0h1.7m-26.7 1h1.7m16.3 0h1.7m32.3 0h1.7m47.3 1h1.7m-58.7 1h1.7m-18.7 1h1.7m-21.7 1h1.7m126.3 0h1.7m-123.7 2h1.7m47.3 0h1.7m-51.7 1h1.7m61.3 0h1.7m-31.7 1h1.7m-45.7 1h1.7m13.3 0h1.7m0.3 0h1.7m120.3 0h1.7m-142.7 1h1.7m10.3 0h1.7m-9.7 1h1.7m123.3 0h1.7m-99.7 3h1.7m4.3 1h1.7m-24.7 3h1.7m50.3 0h1.7m-48.7 1h1.7m-8.7 2h1.7m18.3 2h1.7m5.3 0h1.7m81.3 0h1.7m-101.7 1h1.7m2.3 0h1.7m144.3 0h1.7m-117.7 1h1.7m98.3 0h1.7m-119.7 1h1.7m11.3 0h1.7m-29.7 1h1.7m15.3 0h1.7m4.3 0h1.7m5.3 0h1.7m1.3 0h1.7m97.3 0h1.7m-155.7 1h1.7m0.3 0h1.7m9.3 0h1.7m17.3 0h1.7m3.3 0h1.7m7.3 0h1.7m1.3 0h3.7m-57.7 1h1.7m3.3 0h1.7m0.3 0h1.7m3.3 0h1.7m2.3 0h1.7m3.3 0h1.7m0.3 0h1.7m5.3 0h1.7m0.3 0h1.7m6.3 0h2.7m3.3 0h1.7m4.3 0h1.7m40.3 0h1.7m-95.7 1h1.7m2.3 0h1.7m3.3 0h1.7m1.3 0h1.7m1.3 0h1.7m3.3 0h2.7m3.3 0h2.7m0.3 0h1.7m1.3 0h1.7m0.3 0h2.7m1.3 0h1.7m1.3 0h2.7m0.3 0h1.7m0.3 0h1.7m8.3 0h2.7m1.3 0h3.7m5.3 0h1.7m0.3 0h1.7m105.3 0h1.7m-180.7 1h1.7m0.3 0h1.7m7.3 0h3.7m1.3 0h3.7m1.3 0h4.7m0.3 0h1.7m0.3 0h1.7m0.3 0h1.7m0.3 0h2.7m0.3 0h1.7m2.3 0h1.7m5.3 0h1.7m0.3 0h1.7m1.3 0h3.7m1.3 0h2.7m11.3 0h1.7m49.3 0h1.7m-123.7 1h3.7m0.3 0h1.7m0.3 0h3.7m3.3 0h2.7m4.3 0h1.7m1.3 0h3.7m1.3 0h2.7m1.3 0h1.7m2.3 0h1.7m0.3 0h1.7m0.3 0h3.7m0.3 0h2.7m0.3 0h1.7m2.3 0h1.7m2.3 0h3.7m1.3 0h1.7m2.3 0h1.7m3.3 0h6.7m-75.7 1h9.7m0.3 0h8.7m1.3 0h1.7m0.3 0h7.7m0.3 0h4.7m0.3 0h3.7m2.3 0h2.7m0.3 0h4.7m1.3 0h1.7m0.3 0h1.7m0.3 0h1.7m2.3 0h4.7m2.3 0h1.7m0.3 0h1.7m0.3 0h1.7m0.3 0h2.7m2.3 0h1.7m40.3 0h1.7m51.3 0h1.7m-172.7 1h1.7m1.3 0h1.7m0.3 0h3.7m0.3 0h10.7m0.3 0h9.7m0.3 0h10.7m0.3 0h3.7m2.3 0h1.7m0.3 0h1.7m4.3 0h1.7m0.3 0h2.7m6.3 0h1.7m1.3 0h1.7m41.3 0h1.7m9.3 0h1.7m6.3 0h1.7m7.3 0h1.7m-141.7 1h7.7m0.3 0h5.7m0.3 0h5.7m0.3 0h23.7m1.3 0h1.7m2.3 0h2.7m0.3 0h1.7m0.3 0h1.7m0.3 0h1.7m3.3 0h1.7m0.3 0h1.7m13.3 0h1.7m29.3 0h1.7m7.3 0h1.7m29.3 0h1.7m-150.7 1h41.7m0.3 0h2.7m5.3 0h11.7m4.3 0h2.7m0.3 0h1.7m9.3 0h1.7m1.3 0h1.7m-84.7 1h44.7m0.3 0h4.7m0.3 0h2.7m0.3 0h4.7m0.3 0h4.7m3.3 0h1.7m2.3 0h1.7m10.3 0h1.7m7.3 0h1.7m55.3 0h1.7m-149.7 1h39.7m0.3 0h1.7m0.3 0h5.7m1.3 0h2.7m0.3 0h1.7m0.3 0h2.7m0.3 0h1.7m6.3 0h2.7m3.3 0h2.7m1.3 0h1.7m6.3 0h1.7m-84.7 1h40.7m0.3 0h4.7m0.3 0h2.7m1.3 0h8.7m0.3 0h2.7m4.3 0h1.7m6.3 0h2.7m34.3 0h1.7m4.3 0h1.7m48.3 0h1.7m-168.7 1h24.7m0.3 0h17.7m0.3 0h3.7m0.3 0h1.7m0.3 0h1.7m0.3 0h6.7m3.3 0h1.7m0.3 0h2.7m3.3 0h1.7m5.3 0h1.7m17.3 0h1.7m6.3 0h1.7m60.3 0h1.7m-166.7 1h40.7m0.3 0h1.7m0.3 0h1.7m1.3 0h1.7m0.3 0h2.7m0.3 0h2.7m0.3 0h2.7m1.3 0h1.7m0.3 0h3.7m0.3 0h1.7m0.3 0h1.7m1.3 0h1.7m1.3 0h2.7m1.3 0h2.7m1.3 0h2.7m0.3 0h1.7m0.3 0h1.7m2.3 0h1.7m6.3 0h2.7m7.3 0h1.7m9.3 0h1.7m0.3 0h1.7m17.3 0h2.7m7.3 0h1.7m7.3 0h1.7m-159.7 1h42.7m1.3 0h1.7m0.3 0h11.7m1.3 0h1.7m2.3 0h3.7m0.3 0h1.7m13.3 0h1.7m16.3 0h2.7m37.3 0h1.7m32.3 0h1.7m-175.7 1h43.7m0.3 0h5.7m1.3 0h1.7m0.3 0h1.7m0.3 0h3.7m1.3 0h1.7m0.3 0h1.7m0.3 0h2.7m3.3 0h1.7m0.3 0h1.7m26.3 0h1.7m43.3 0h1.7m2.3 0h1.7m18.3 0h1.7m11.3 0h1.7m-183.7 1h19.7m0.3 0h24.7m0.3 0h1.7m0.3 0h2.7m0.3 0h2.7m0.3 0h6.7m0.3 0h1.7m0.3 0h1.7m0.3 0h2.7m1.3 0h2.7m6.3 0h1.7m40.3 0h1.7m7.3 0h1.7m24.3 0h1.7m-155.7 1h1.7m0.3 0h15.7m0.3 0h20.7m0.3 0h2.7m0.3 0h3.7m2.3 0h1.7m0.3 0h3.7m0.3 0h3.7m2.3 0h2.7m1.3 0h1.7m1.3 0h2.7m1.3 0h1.7m0.3 0h1.7m2.3 0h1.7m0.3 0h1.7m19.3 0h1.7m39.3 0h1.7m10.3 0h1.7m11.3 0h1.7m-167.7 1h39.7m0.3 0h2.7m1.3 0h1.7m0.3 0h7.7m0.3 0h1.7m2.3 0h3.7m2.3 0h1.7m0.3 0h1.7m0.3 0h2.7m42.3 0h2.7m2.3 0h1.7m9.3 0h1.7m2.3 0h1.7m11.3 0h1.7m21.3 0h1.7m-170.7 1h13.7m0.3 0h28.7m0.3 0h3.7m0.3 0h2.7m0.3 0h6.7m0.3 0h1.7m0.3 0h1.7m1.3 0h1.7m2.3 0h2.7m0.3 0h2.7m11.3 0h1.7m29.3 0h1.7m5.3 0h1.7m12.3 0h1.7m6.3 0h1.7m12.3 0h1.7m-158.7 1h39.7m0.3 0h1.7m0.3 0h3.7m1.3 0h1.7m3.3 0h3.7m0.3 0h1.7m0.3 0h2.7m0.3 0h1.7m1.3 0h1.7m0.3 0h3.7m13.3 0h1.7m5.3 0h1.7m32.3 0h1.7m9.3 0h1.7m6.3 0h1.7m15.3 0h1.7m-161.7 1h34.7m0.3 0h8.7m1.3 0h2.7m0.3 0h3.7m0.3 0h1.7m0.3 0h6.7m1.3 0h1.7m1.3 0h2.7m0.3 0h1.7m0.3 0h2.7m0.3 0h1.7m39.3 0h1.7m4.3 0h1.7m0.3 0h1.7m14.3 0h1.7m14.3 0h1.7m7.3 0h1.7m9.3 0h1.7m-175.7 1h40.7m0.3 0h3.7m0.3 0h1.7m2.3 0h4.7m0.3 0h4.7m2.3 0h1.7m1.3 0h1.7m0.3 0h1.7m0.3 0h3.7m6.3 0h1.7m5.3 0h1.7m38.3 0h1.7m14.3 0h1.7m-142.7 1h10.7m0.3 0h31.7m0.3 0h3.7m0.3 0h5.7m0.3 0h1.7m1.3 0h2.7m0.3 0h3.7m0.3 0h3.7m1.3 0h2.7m1.3 0h2.7m2.3 0h1.7m4.3 0h1.7m2.3 0h1.7m3.3 0h1.7m0.3 0h1.7m4.3 0h1.7m18.3 0h1.7m12.3 0h1.7m4.3 0h1.7m3.3 0h1.7m4.3 0h1.7m22.3 0h1.7m-176.7 1h39.7m0.3 0h3.7m2.3 0h1.7m1.3 0h4.7m0.3 0h1.7m0.3 0h7.7m3.3 0h1.7m1.3 0h1.7m1.3 0h1.7m3.3 0h1.7m0.3 0h1.7m2.3 0h1.7m8.3 0h1.7m4.3 0h1.7m13.3 0h1.7m36.3 0h1.7m0.3 0h1.7m5.3 0h1.7m5.3 0h1.7m-170.7 1h11.7m0.3 0h31.7m1.3 0h1.7m0.3 0h1.7m0.3 0h3.7m0.3 0h1.7m0.3 0h1.7m1.3 0h1.7m6.3 0h1.7m0.3 0h1.7m3.3 0h2.7m3.3 0h1.7m0.3 0h1.7m6.3 0h2.7m17.3 0h1.7m7.3 0h1.7m7.3 0h1.7m5.3 0h1.7m17.3 0h1.7m-153.7 1h38.7m2.3 0h4.7m2.3 0h10.7m0.3 0h1.7m4.3 0h1.7m46.3 0h2.7m16.3 0h1.7m10.3 0h2.7m6.3 0h1.7m15.3 0h2.7m-173.7 1h38.7m0.3 0h1.7m0.3 0h3.7m1.3 0h2.7m0.3 0h5.7m2.3 0h2.7m0.3 0h3.7m1.3 0h1.7m1.3 0h2.7m3.3 0h1.7m0.3 0h1.7m9.3 0h1.7m17.3 0h1.7m20.3 0h1.7m10.3 0h1.7m12.3 0h1.7m21.3 0h2.7m2.3 0h1.7m-183.7 1h50.7m0.3 0h1.7m0.3 0h1.7m1.3 0h1.7m7.3 0h1.7m0.3 0h1.7m6.3 0h1.7m6.3 0h1.7m6.3 0h1.7m16.3 0h1.7m5.3 0h1.7m20.3 0h1.7m16.3 0h1.7m1.3 0h1.7m0.3 0h1.7m-161.7 1h20.7m0.3 0h32.7m1.3 0h1.7m6.3 0h1.7m3.3 0h1.7m6.3 0h1.7m3.3 0h1.7m25.3 0h1.7m3.3 0h1.7m14.3 0h1.7m12.3 0h1.7m-145.7 1h42.7m0.3 0h2.7m0.3 0h4.7m0.3 0h3.7m1.3 0h8.7m0.3 0h2.7m3.3 0h1.7m12.3 0h1.7m3.3 0h1.7m0.3 0h1.7m22.3 0h1.7m7.3 0h1.7m12.3 0h1.7m11.3 0h1.7m-153.7 1h43.7m0.3 0h11.7m0.3 0h4.7m2.3 0h2.7m2.3 0h1.7m0.3 0h1.7m17.3 0h1.7m24.3 0h1.7m59.3 0h1.7m3.3 0h1.7m-182.7 1h41.7m0.3 0h2.7m0.3 0h3.7m1.3 0h1.7m1.3 0h3.7m0.3 0h1.7m9.3 0h2.7m0.3 0h1.7m9.3 0h1.7m22.3 0h1.7m21.3 0h1.7m13.3 0h1.7m0.3 0h1.7m16.3 0h1.7m0.3 0h1.7m-167.7 1h15.7m0.3 0h34.7m1.3 0h1.7m0.3 0h4.7m0.3 0h1.7m1.3 0h1.7m2.3 0h1.7m2.3 0h1.7m3.3 0h1.7m30.3 0h1.7m13.3 0h1.7m0.3 0h1.7m35.3 0h1.7m-162.7 1h42.7m1.3 0h1.7m2.3 0h1.7m1.3 0h3.7m1.3 0h1.7m1.3 0h1.7m3.3 0h1.7m0.3 0h2.7m3.3 0h1.7m48.3 0h1.7m9.3 0h1.7m8.3 0h1.7m2.3 0h1.7m0.3 0h1.7m2.3 0h1.7m2.3 0h1.7m-158.7 1h40.7m0.3 0h3.7m0.3 0h1.7m0.3 0h2.7m0.3 0h1.7m1.3 0h4.7m8.3 0h1.7m0.3 0h3.7m0.3 0h1.7m3.3 0h1.7m24.3 0h1.7m7.3 0h1.7m27.3 0h1.7m28.3 0h1.7m-172.7 1h45.7m0.3 0h1.7m0.3 0h6.7m0.3 0h3.7m5.3 0h2.7m31.3 0h1.7m28.3 0h1.7m12.3 0h1.7m4.3 0h1.7m11.3 0h1.7m-162.7 1h58.7m0.3 0h3.7m2.3 0h2.7m1.3 0h1.7m0.3 0h2.7m0.3 0h2.7m1.3 0h1.7m0.3 0h1.7m20.3 0h1.7m3.3 0h1.7m0.3 0h1.7m7.3 0h1.7m8.3 0h1.7m4.3 0h1.7m7.3 0h1.7m11.3 0h1.7m8.3 0h2.7m8.3 0h1.7m1.3 0h1.7" stroke="#000" stroke-width="1.7" fill="none"/>
<rect x="326.2" y="399.4" width="185.0" height="133.89999999999998" fill="none" stroke="#000" stroke-width="1.6"/>
<path d="M379.9 399.4V533.3M326.2 488.8H511.2" stroke="#000" stroke-width="1.6" fill="none"/>
<path d="M327.0 533.3v6.8M372.8 533.3v6.8M418.5 533.3v6.8M464.2 533.3v6.8M510.0 533.3v6.8M340.8 533.3v4M348.8 533.3v4M354.5 533.3v4M359.0 533.3v4M362.6 533.3v4M365.7 533.3v4M368.3 533.3v4M370.7 533.3v4M386.5 533.3v4M394.6 533.3v4M400.3 533.3v4M404.7 533.3v4M408.4 533.3v4M411.4 533.3v4M414.1 533.3v4M416.4 533.3v4M432.3 533.3v4M440.3 533.3v4M446.0 533.3v4M450.5 533.3v4M454.1 533.3v4M457.2 533.3v4M459.8 533.3v4M462.2 533.3v4M478.0 533.3v4M486.1 533.3v4M491.8 533.3v4M496.2 533.3v4M499.9 533.3v4M502.9 533.3v4M505.6 533.3v4M507.9 533.3v4M326.2 532.0h-6.6M326.2 499.0h-6.6M326.2 466.0h-6.6M326.2 433.0h-6.6M326.2 400.0h-6.6M326.2 522.1h-3.9M326.2 516.3h-3.9M326.2 512.1h-3.9M326.2 508.9h-3.9M326.2 506.3h-3.9M326.2 504.1h-3.9M326.2 502.2h-3.9M326.2 500.5h-3.9M326.2 489.1h-3.9M326.2 483.3h-3.9M326.2 479.1h-3.9M326.2 475.9h-3.9M326.2 473.3h-3.9M326.2 471.1h-3.9M326.2 469.2h-3.9M326.2 467.5h-3.9M326.2 456.1h-3.9M326.2 450.3h-3.9M326.2 446.1h-3.9M326.2 442.9h-3.9M326.2 440.3h-3.9M326.2 438.1h-3.9M326.2 436.2h-3.9M326.2 434.5h-3.9M326.2 423.1h-3.9M326.2 417.3h-3.9M326.2 413.1h-3.9M326.2 409.9h-3.9M326.2 407.3h-3.9M326.2 405.1h-3.9M326.2 403.2h-3.9M326.2 401.5h-3.9" stroke="#000" stroke-width="1.5" fill="none"/>
<text class="f-sans" x="317.0" y="555.5" font-size="14" textLength="12" lengthAdjust="spacingAndGlyphs">10</text>
<text class="f-sans" x="330.2" y="548.0" font-size="13.5" textLength="6.2" lengthAdjust="spacingAndGlyphs">0</text>
<text class="f-sans" x="362.8" y="555.5" font-size="14" textLength="12" lengthAdjust="spacingAndGlyphs">10</text>
<text class="f-sans" x="375.9" y="548.0" font-size="13.5" textLength="6.2" lengthAdjust="spacingAndGlyphs">1</text>
<text class="f-sans" x="408.5" y="555.5" font-size="14" textLength="12" lengthAdjust="spacingAndGlyphs">10</text>
<text class="f-sans" x="421.7" y="548.0" font-size="13.5" textLength="6.2" lengthAdjust="spacingAndGlyphs">2</text>
<text class="f-sans" x="454.2" y="555.5" font-size="14" textLength="12" lengthAdjust="spacingAndGlyphs">10</text>
<text class="f-sans" x="467.4" y="548.0" font-size="13.5" textLength="6.2" lengthAdjust="spacingAndGlyphs">3</text>
<text class="f-sans" x="500.0" y="555.5" font-size="14" textLength="12" lengthAdjust="spacingAndGlyphs">10</text>
<text class="f-sans" x="513.2" y="548.0" font-size="13.5" textLength="6.2" lengthAdjust="spacingAndGlyphs">4</text>
<text class="f-sans" transform="translate(314.8 541.4) rotate(-90)" font-size="14.6" textLength="11.7" lengthAdjust="spacingAndGlyphs">10</text>
<text class="f-sans" transform="translate(306.6 526.6) rotate(-90)" font-size="13.8" textLength="6.4" lengthAdjust="spacingAndGlyphs">0</text>
<text class="f-sans" transform="translate(314.8 508.4) rotate(-90)" font-size="14.6" textLength="11.7" lengthAdjust="spacingAndGlyphs">10</text>
<text class="f-sans" transform="translate(306.6 493.6) rotate(-90)" font-size="13.8" textLength="6.4" lengthAdjust="spacingAndGlyphs">1</text>
<text class="f-sans" transform="translate(314.8 475.4) rotate(-90)" font-size="14.6" textLength="11.7" lengthAdjust="spacingAndGlyphs">10</text>
<text class="f-sans" transform="translate(306.6 460.6) rotate(-90)" font-size="13.8" textLength="6.4" lengthAdjust="spacingAndGlyphs">2</text>
<text class="f-sans" transform="translate(314.8 442.4) rotate(-90)" font-size="14.6" textLength="11.7" lengthAdjust="spacingAndGlyphs">10</text>
<text class="f-sans" transform="translate(306.6 427.6) rotate(-90)" font-size="13.8" textLength="6.4" lengthAdjust="spacingAndGlyphs">3</text>
<text class="f-sans" transform="translate(314.8 409.4) rotate(-90)" font-size="14.6" textLength="11.7" lengthAdjust="spacingAndGlyphs">10</text>
<text class="f-sans" transform="translate(306.6 394.6) rotate(-90)" font-size="13.8" textLength="6.4" lengthAdjust="spacingAndGlyphs">4</text>
<text class="f-sans" x="390" y="568.4" font-size="13.2" textLength="55.3" lengthAdjust="spacingAndGlyphs">CD41 PE</text>
<text class="f-sans" transform="translate(295.5 503.3) rotate(-90)" font-size="13.8" textLength="71" lengthAdjust="spacingAndGlyphs">Ter119 APC</text>
<text class="f-serif" x="333.4" y="421.5" font-size="20" font-weight="bold" textLength="44.5" lengthAdjust="spacingAndGlyphs">9.2%</text>
<text class="f-serif" x="465.9" y="529.9" font-size="20" font-weight="bold" textLength="44" lengthAdjust="spacingAndGlyphs">6.5%</text>
</g>
<g>
<path d="M102.7 592.5h1.7m22.3 0h1.7m-66.7 3h1.7m35.3 1h1.7m13.3 0h1.7m-0.7 1h1.7m4.3 13h1.7m-35.7 5h1.7m32.3 3h1.7m-18.7 4h1.7m-25.7 5h1.7m18.3 0h1.7m44.3 0h1.7m-48.7 1h1.7m25.3 0h1.7m-61.7 1h1.7m29.3 0h1.7m-24.7 1h1.7m11.3 0h1.7m-6.7 1h1.7m3.3 0h1.7m5.3 0h1.7m9.3 0h1.7m36.3 0h1.7m-53.7 1h1.7m6.3 0h1.7m-18.7 1h1.7m0.3 0h1.7m7.3 0h1.7m0.3 0h1.7m21.3 0h1.7m11.3 0h1.7m-52.7 1h1.7m8.3 0h1.7m1.3 0h1.7m1.3 0h1.7m0.3 0h1.7m0.3 0h1.7m5.3 0h1.7m-29.7 1h1.7m0.3 0h2.7m1.3 0h2.7m1.3 0h1.7m3.3 0h1.7m3.3 0h1.7m2.3 0h2.7m1.3 0h1.7m1.3 0h1.7m17.3 0h2.7m-70.7 1h1.7m11.3 0h1.7m4.3 0h1.7m1.3 0h1.7m0.3 0h2.7m2.3 0h3.7m1.3 0h1.7m4.3 0h3.7m11.3 0h1.7m-52.7 1h2.7m2.3 0h1.7m0.3 0h1.7m2.3 0h1.7m6.3 0h2.7m4.3 0h1.7m0.3 0h1.7m0.3 0h1.7m6.3 0h2.7m7.3 0h1.7m2.3 0h1.7m-52.7 1h1.7m9.3 0h4.7m3.3 0h2.7m0.3 0h1.7m3.3 0h1.7m1.3 0h1.7m7.3 0h1.7m0.3 0h1.7m0.3 0h2.7m2.3 0h1.7m27.3 0h1.7m-83.7 1h1.7m12.3 0h1.7m1.3 0h1.7m1.3 0h1.7m0.3 0h2.7m1.3 0h1.7m8.3 0h5.7m3.3 0h1.7m-36.7 1h1.7m2.3 0h1.7m8.3 0h2.7m3.3 0h2.7m0.3 0h1.7m2.3 0h1.7m1.3 0h1.7m0.3 0h1.7m0.3 0h2.7m0.3 0h1.7m19.3 0h1.7m-67.7 1h1.7m0.3 0h1.7m10.3 0h1.7m0.3 0h1.7m1.3 0h1.7m1.3 0h2.7m0.3 0h3.7m0.3 0h1.7m5.3 0h1.7m5.3 0h1.7m0.3 0h2.7m0.3 0h2.7m1.3 0h2.7m0.3 0h1.7m-58.7 1h1.7m10.3 0h1.7m6.3 0h1.7m5.3 0h1.7m1.3 0h1.7m9.3 0h1.7m41.3 0h1.7m-85.7 1h2.7m1.3 0h1.7m2.3 0h1.7m7.3 0h1.7m1.3 0h1.7m2.3 0h1.7m1.3 0h1.7m2.3 0h1.7m1.3 0h1.7m0.3 0h1.7m4.3 0h1.7m-37.7 1h1.7m1.3 0h1.7m1.3 0h1.7m3.3 0h1.7m1.3 0h1.7m2.3 0h1.7m0.3 0h1.7m0.3 0h1.7m8.3 0h1.7m13.3 0h2.7m29.3 0h1.7m93.3 0h1.7m-175.7 1h1.7m17.3 0h1.7m8.3 0h1.7m-28.7 1h1.7m18.3 0h1.7m-9.7 1h1.7m1.3 0h1.7m7.3 0h1.7m-16.7 1h1.7m23.3 0h1.7m2.3 0h1.7m2.3 0h1.7m131.3 0h1.7m-175.7 2h1.7m39.3 0h1.7m-47.7 1h1.7m40.3 0h1.7m23.3 0h1.7m88.3 0h1.7m-110.7 1h1.7m-39.7 1h1.7m5.3 0h1.7m43.3 0h1.7m-60.7 3h1.7m4.3 0h1.7m-8.7 1h1.7m28.3 0h1.7m12.3 0h1.7m13.3 0h1.7m-64.7 1h1.7m30.3 0h2.7m10.3 1h1.7m28.3 0h1.7m-33.7 2h1.7m-3.7 1h1.7m79.3 1h1.7m3.3 2h1.7m-107.7 1h1.7m33.3 0h1.7m4.3 0h1.7m58.3 0h1.7m-58.7 1h1.7m25.3 0h1.7m41.3 0h1.7m-47.7 1h1.7m72.3 0h1.7m-136.7 1h1.7m65.3 0h1.7m42.3 0h1.7m7.3 0h1.7m-110.7 1h1.7m6.3 0h1.7m6.3 0h1.7m30.3 0h1.7m6.3 0h1.7m1.3 0h1.7m-80.7 1h1.7m58.3 0h1.7m8.3 0h1.7m7.3 0h1.7m3.3 0h1.7m-43.7 1h1.7m18.3 0h1.7m9.3 0h1.7m-80.7 1h1.7m60.3 0h1.7m1.3 0h1.7m0.3 0h1.7m0.3 0h1.7m2.3 0h1.7m5.3 0h1.7m-87.7 1h1.7m14.3 0h1.7m45.3 0h1.7m16.3 0h1.7m29.3 0h1.7m26.3 0h1.7m-126.7 1h1.7m8.3 0h1.7m32.3 0h2.7m5.3 0h1.7m8.3 0h1.7m3.3 0h2.7m5.3 0h1.7m-80.7 1h1.7m22.3 0h1.7m17.3 0h1.7m19.3 0h1.7m0.3 0h1.7m2.3 0h1.7m7.3 0h1.7m3.3 0h1.7m61.3 0h1.7m11.3 0h2.7m2.3 0h1.7m-109.7 1h1.7m1.3 0h1.7m4.3 0h2.7m4.3 0h1.7m0.3 0h2.7m22.3 0h1.7m57.3 0h1.7m2.3 0h1.7m-114.7 1h1.7m0.3 0h1.7m0.3 0h2.7m2.3 0h1.7m1.3 0h1.7m4.3 0h2.7m0.3 0h1.7m1.3 0h2.7m0.3 0h2.7m0.3 0h1.7m1.3 0h1.7m20.3 0h1.7m56.3 0h1.7m-171.7 1h1.7m26.3 0h1.7m9.3 0h1.7m3.3 0h3.7m0.3 0h1.7m3.3 0h1.7m3.3 0h1.7m2.3 0h1.7m1.3 0h3.7m3.3 0h1.7m0.3 0h3.7m5.3 0h1.7m6.3 0h3.7m71.3 0h1.7m-129.7 1h1.7m17.3 0h3.7m1.3 0h1.7m1.3 0h2.7m0.3 0h1.7m41.3 0h1.7m7.3 0h1.7m49.3 0h1.7m-152.7 1h1.7m19.3 0h1.7m0.3 0h1.7m1.3 0h2.7m0.3 0h1.7m5.3 0h1.7m0.3 0h2.7m0.3 0h2.7m8.3 0h1.7m3.3 0h1.7m0.3 0h1.7m13.3 0h1.7m9.3 0h1.7m8.3 0h1.7m4.3 0h1.7m45.3 0h1.7m-169.7 1h1.7m18.3 0h1.7m1.3 0h1.7m6.3 0h1.7m7.3 0h1.7m2.3 0h1.7m0.3 0h4.7m1.3 0h2.7m2.3 0h1.7m1.3 0h4.7m19.3 0h1.7m15.3 0h1.7m6.3 0h2.7m13.3 0h1.7m-134.7 1h1.7m0.3 0h1.7m2.3 0h1.7m1.3 0h1.7m5.3 0h1.7m2.3 0h1.7m1.3 0h1.7m4.3 0h1.7m0.3 0h2.7m1.3 0h1.7m5.3 0h1.7m0.3 0h1.7m2.3 0h2.7m2.3 0h1.7m0.3 0h1.7m5.3 0h1.7m0.3 0h4.7m0.3 0h1.7m0.3 0h1.7m2.3 0h1.7m0.3 0h1.7m7.3 0h1.7m15.3 0h1.7m1.3 0h1.7m0.3 0h1.7m2.3 0h1.7m16.3 0h1.7m-136.7 1h1.7m0.3 0h1.7m0.3 0h1.7m0.3 0h10.7m0.3 0h2.7m0.3 0h1.7m1.3 0h1.7m2.3 0h2.7m0.3 0h1.7m1.3 0h1.7m0.3 0h2.7m1.3 0h2.7m3.3 0h1.7m0.3 0h1.7m1.3 0h3.7m3.3 0h1.7m3.3 0h1.7m0.3 0h4.7m1.3 0h1.7m0.3 0h2.7m0.3 0h2.7m7.3 0h1.7m15.3 0h1.7m42.3 0h1.7m9.3 0h1.7m-157.7 1h9.7m0.3 0h3.7m1.3 0h5.7m0.3 0h11.7m0.3 0h6.7m0.3 0h2.7m0.3 0h1.7m0.3 0h1.7m1.3 0h1.7m1.3 0h3.7m0.3 0h1.7m0.3 0h1.7m4.3 0h1.7m3.3 0h2.7m3.3 0h2.7m1.3 0h2.7m0.3 0h1.7m52.3 0h1.7m2.3 0h1.7m33.3 0h1.7m-176.7 1h3.7m0.3 0h36.7m0.3 0h3.7m0.3 0h1.7m1.3 0h1.7m1.3 0h4.7m2.3 0h1.7m0.3 0h1.7m0.3 0h3.7m0.3 0h1.7m0.3 0h2.7m1.3 0h2.7m0.3 0h1.7m0.3 0h2.7m3.3 0h1.7m5.3 0h1.7m26.3 0h1.7m9.3 0h1.7m44.3 0h1.7m-176.7 1h11.7m0.3 0h29.7m0.3 0h5.7m1.3 0h1.7m0.3 0h2.7m0.3 0h1.7m1.3 0h2.7m2.3 0h1.7m4.3 0h6.7m2.3 0h1.7m4.3 0h1.7m-84.7 1h1.7m0.3 0h3.7m0.3 0h37.7m0.3 0h5.7m2.3 0h2.7m2.3 0h2.7m1.3 0h1.7m1.3 0h1.7m0.3 0h4.7m0.3 0h1.7m0.3 0h1.7m0.3 0h2.7m18.3 0h1.7m71.3 0h1.7m-170.7 1h44.7m1.3 0h1.7m0.3 0h3.7m0.3 0h4.7m0.3 0h5.7m0.3 0h1.7m1.3 0h1.7m0.3 0h2.7m0.3 0h4.7m2.3 0h2.7m-80.7 1h46.7m0.3 0h3.7m0.3 0h1.7m2.3 0h4.7m0.3 0h1.7m0.3 0h3.7m0.3 0h1.7m0.3 0h1.7m1.3 0h1.7m1.3 0h1.7m0.3 0h2.7m0.3 0h1.7m60.3 0h1.7m-142.7 1h4.7m0.3 0h40.7m0.3 0h1.7m0.3 0h1.7m0.3 0h1.7m2.3 0h1.7m0.3 0h2.7m0.3 0h1.7m0.3 0h1.7m6.3 0h1.7m1.3 0h2.7m0.3 0h3.7m-78.7 1h50.7m0.3 0h1.7m0.3 0h2.7m3.3 0h1.7m0.3 0h1.7m2.3 0h3.7m-68.7 1h54.7m0.3 0h1.7m3.3 0h1.7m3.3 0h1.7m0.3 0h2.7m6.3 0h1.7m1.3 0h1.7m12.3 0h1.7m-94.7 1h53.7m0.3 0h2.7m0.3 0h3.7m2.3 0h2.7m6.3 0h2.7m1.3 0h1.7m58.3 0h1.7m27.3 0h1.7m-166.7 1h59.7m0.3 0h1.7m3.3 0h1.7m0.3 0h2.7m1.3 0h2.7m2.3 0h1.7m0.3 0h1.7m12.3 0h1.7m23.3 0h1.7m58.3 0h1.7m-178.7 1h49.7m0.3 0h2.7m1.3 0h2.7m2.3 0h1.7m2.3 0h2.7m0.3 0h2.7m4.3 0h1.7m0.3 0h1.7m0.3 0h1.7m2.3 0h1.7m40.3 0h1.7m-124.7 1h36.7m0.3 0h18.7m1.3 0h1.7m2.3 0h2.7m4.3 0h1.7m4.3 0h1.7m2.3 0h1.7m6.3 0h1.7m20.3 0h1.7m-109.7 1h52.7m0.3 0h1.7m0.3 0h2.7m1.3 0h1.7m1.3 0h2.7m5.3 0h1.7m1.3 0h2.7m89.3 0h1.7m-166.7 1h1.7m0.3 0h42.7m0.3 0h8.7m0.3 0h1.7m0.3 0h3.7m1.3 0h1.7m6.3 0h1.7m0.3 0h1.7m2.3 0h2.7m10.3 0h1.7m-89.7 1h53.7m2.3 0h1.7m0.3 0h1.7m2.3 0h3.7m2.3 0h1.7m0.3 0h1.7m23.3 0h1.7m-96.7 1h44.7m0.3 0h8.7m1.3 0h1.7m2.3 0h1.7m1.3 0h2.7m1.3 0h1.7m0.3 0h1.7m1.3 0h1.7m0.3 0h1.7m0.3 0h3.7m-78.7 1h52.7m1.3 0h1.7m0.3 0h2.7m6.3 0h2.7m6.3 0h1.7m12.3 0h1.7m83.3 0h1.7m-174.7 1h53.7m1.3 0h1.7m1.3 0h2.7m6.3 0h1.7m0.3 0h1.7m3.3 0h1.7m-75.7 1h52.7m0.3 0h3.7m0.3 0h1.7m5.3 0h1.7m0.3 0h5.7m0.3 0h1.7m0.3 0h1.7m1.3 0h1.7m8.3 0h1.7m-88.7 1h1.7m0.3 0h49.7m0.3 0h3.7m0.3 0h1.7m0.3 0h1.7m0.3 0h3.7m0.3 0h1.7m1.3 0h1.7m8.3 0h1.7m0.3 0h1.7m58.3 0h1.7m-140.7 1h49.7m1.3 0h1.7m0.3 0h1.7m1.3 0h1.7m1.3 0h3.7m4.3 0h2.7m0.3 0h1.7m5.3 0h1.7m0.3 0h1.7m5.3 0h1.7m40.3 0h2.7m26.3 0h1.7m0.3 0h1.7m-160.7 1h45.7m0.3 0h4.7m0.3 0h1.7m0.3 0h6.7m0.3 0h1.7m3.3 0h2.7m1.3 0h1.7m5.3 0h1.7m0.3 0h1.7m-79.7 1h13.7m0.3 0h36.7m2.3 0h3.7m1.3 0h1.7m2.3 0h1.7m4.3 0h1.7m1.3 0h2.7m3.3 0h1.7m1.3 0h1.7m-81.7 1h49.7m2.3 0h2.7m1.3 0h2.7m0.3 0h1.7m2.3 0h1.7m1.3 0h2.7m3.3 0h1.7m3.3 0h1.7m1.3 0h1.7m6.3 0h1.7m-89.7 1h55.7m0.3 0h3.7m0.3 0h1.7m0.3 0h1.7m0.3 0h1.7m0.3 0h2.7m1.3 0h2.7m0.3 0h1.7m0.3 0h1.7m0.3 0h1.7m90.3 0h1.7m12.3 0h1.7" stroke="#000" stroke-width="1.7" fill="none"/>
<rect x="60.5" y="578.4" width="189.3" height="133.60000000000002" fill="none" stroke="#000" stroke-width="1.6"/>
<path d="M162.9 578.4V712M60.5 662H249.8" stroke="#000" stroke-width="1.6" fill="none"/>
<path d="M61.3 712v6.8M108.1 712v6.8M154.9 712v6.8M201.8 712v6.8M248.6 712v6.8M75.4 712v4M83.6 712v4M89.5 712v4M94.0 712v4M97.7 712v4M100.9 712v4M103.6 712v4M106.0 712v4M122.2 712v4M130.5 712v4M136.3 712v4M140.9 712v4M144.6 712v4M147.7 712v4M150.4 712v4M152.8 712v4M169.0 712v4M177.3 712v4M183.1 712v4M187.7 712v4M191.4 712v4M194.5 712v4M197.2 712v4M199.6 712v4M215.9 712v4M224.1 712v4M230.0 712v4M234.5 712v4M238.2 712v4M241.3 712v4M244.1 712v4M246.5 712v4M60.5 710.7h-6.6M60.5 677.8h-6.6M60.5 644.9h-6.6M60.5 611.9h-6.6M60.5 579.0h-6.6M60.5 700.8h-3.9M60.5 695.0h-3.9M60.5 690.9h-3.9M60.5 687.7h-3.9M60.5 685.1h-3.9M60.5 682.9h-3.9M60.5 681.0h-3.9M60.5 679.3h-3.9M60.5 667.9h-3.9M60.5 662.1h-3.9M60.5 658.0h-3.9M60.5 654.8h-3.9M60.5 652.2h-3.9M60.5 650.0h-3.9M60.5 648.0h-3.9M60.5 646.4h-3.9M60.5 634.9h-3.9M60.5 629.1h-3.9M60.5 625.0h-3.9M60.5 621.8h-3.9M60.5 619.2h-3.9M60.5 617.0h-3.9M60.5 615.1h-3.9M60.5 613.4h-3.9M60.5 602.0h-3.9M60.5 596.2h-3.9M60.5 592.1h-3.9M60.5 588.9h-3.9M60.5 586.3h-3.9M60.5 584.1h-3.9M60.5 582.2h-3.9M60.5 580.5h-3.9" stroke="#000" stroke-width="1.5" fill="none"/>
<text class="f-sans" x="50.7" y="734.2" font-size="14" textLength="12" lengthAdjust="spacingAndGlyphs">10</text>
<text class="f-sans" x="63.9" y="726.7" font-size="13.5" textLength="6.2" lengthAdjust="spacingAndGlyphs">0</text>
<text class="f-sans" x="97.5" y="734.2" font-size="14" textLength="12" lengthAdjust="spacingAndGlyphs">10</text>
<text class="f-sans" x="110.7" y="726.7" font-size="13.5" textLength="6.2" lengthAdjust="spacingAndGlyphs">1</text>
<text class="f-sans" x="144.3" y="734.2" font-size="14" textLength="12" lengthAdjust="spacingAndGlyphs">10</text>
<text class="f-sans" x="157.5" y="726.7" font-size="13.5" textLength="6.2" lengthAdjust="spacingAndGlyphs">2</text>
<text class="f-sans" x="191.2" y="734.2" font-size="14" textLength="12" lengthAdjust="spacingAndGlyphs">10</text>
<text class="f-sans" x="204.4" y="726.7" font-size="13.5" textLength="6.2" lengthAdjust="spacingAndGlyphs">3</text>
<text class="f-sans" x="238.0" y="734.2" font-size="14" textLength="12" lengthAdjust="spacingAndGlyphs">10</text>
<text class="f-sans" x="251.2" y="726.7" font-size="13.5" textLength="6.2" lengthAdjust="spacingAndGlyphs">4</text>
<text class="f-sans" transform="translate(49.1 720.1) rotate(-90)" font-size="14.6" textLength="11.7" lengthAdjust="spacingAndGlyphs">10</text>
<text class="f-sans" transform="translate(40.9 705.3) rotate(-90)" font-size="13.8" textLength="6.4" lengthAdjust="spacingAndGlyphs">0</text>
<text class="f-sans" transform="translate(49.1 687.2) rotate(-90)" font-size="14.6" textLength="11.7" lengthAdjust="spacingAndGlyphs">10</text>
<text class="f-sans" transform="translate(40.9 672.4) rotate(-90)" font-size="13.8" textLength="6.4" lengthAdjust="spacingAndGlyphs">1</text>
<text class="f-sans" transform="translate(49.1 654.2) rotate(-90)" font-size="14.6" textLength="11.7" lengthAdjust="spacingAndGlyphs">10</text>
<text class="f-sans" transform="translate(40.9 639.5) rotate(-90)" font-size="13.8" textLength="6.4" lengthAdjust="spacingAndGlyphs">2</text>
<text class="f-sans" transform="translate(49.1 621.3) rotate(-90)" font-size="14.6" textLength="11.7" lengthAdjust="spacingAndGlyphs">10</text>
<text class="f-sans" transform="translate(40.9 606.5) rotate(-90)" font-size="13.8" textLength="6.4" lengthAdjust="spacingAndGlyphs">3</text>
<text class="f-sans" transform="translate(49.1 588.4) rotate(-90)" font-size="14.6" textLength="11.7" lengthAdjust="spacingAndGlyphs">10</text>
<g clip-path="url(#cl1)"><text class="f-sans" transform="translate(40.9 573.6) rotate(-90)" font-size="13.8" textLength="6.4" lengthAdjust="spacingAndGlyphs">4</text></g>
<text class="f-sans" x="123.5" y="748.3" font-size="13.2" textLength="61.5" lengthAdjust="spacingAndGlyphs">Cd42b-PE</text>
<text class="f-sans" transform="translate(31 682.5) rotate(-90)" font-size="13.8" textLength="71" lengthAdjust="spacingAndGlyphs">Ter119-APC</text>
<text class="f-serif" x="68.7" y="598.9" font-size="20" font-weight="bold" textLength="44.5" lengthAdjust="spacingAndGlyphs">4.6%</text>
<text class="f-serif" x="197.8" y="708.9" font-size="20" font-weight="bold" textLength="51.5" lengthAdjust="spacingAndGlyphs">1.05%</text>
</g>
<g>
<path d="M369.6 581.5h1.7m21.3 0h1.7m-55.7 1h1.7m24.3 0h1.7m2.3 0h1.7m7.3 3h1.7m1.3 0h1.7m7.3 0h1.7m-14.7 1h1.7m14.3 0h2.7m-14.7 1h1.7m-11.7 1h1.7m13.3 0h1.7m-28.7 3h1.7m27.3 0h1.7m-46.7 1h1.7m40.3 2h1.7m5.3 2h1.7m48.3 0h1.7m-101.7 1h1.7m23.3 2h1.7m-42.7 2h1.7m21.3 0h1.7m8.3 0h1.7m27.3 1h1.7m-61.7 1h1.7m24.3 0h1.7m0.3 0h1.7m-22.7 1h1.7m31.3 0h1.7m24.3 0h1.7m-68.7 1h1.7m7.3 0h1.7m44.3 0h1.7m2.3 0h1.7m-37.7 3h1.7m31.3 0h2.7m-1.7 2h1.7m-54.7 1h1.7m31.3 0h1.7m6.3 0h1.7m11.3 0h1.7m9.3 0h1.7m-60.7 1h1.7m29.3 0h1.7m22.3 0h1.7m-59.7 1h1.7m1.3 0h1.7m14.3 0h1.7m26.3 0h1.7m0.3 0h2.7m11.3 0h1.7m46.3 0h1.7m-73.7 1h1.7m15.3 0h1.7m-61.7 2h1.7m56.3 1h1.7m4.3 0h1.7m-69.7 1h1.7m49.3 0h1.7m-9.7 1h1.7m4.3 0h2.7m22.3 0h1.7m-75.7 1h2.7m11.3 0h1.7m13.3 0h1.7m9.3 0h1.7m11.3 0h1.7m16.3 0h1.7m-71.7 1h1.7m13.3 0h1.7m8.3 0h1.7m4.3 0h1.7m19.3 0h1.7m-42.7 1h1.7m6.3 0h1.7m4.3 0h1.7m24.3 0h1.7m-48.7 1h2.7m8.3 0h1.7m28.3 0h1.7m-47.7 1h1.7m6.3 0h1.7m50.3 1h1.7m-61.7 1h2.7m4.3 0h1.7m1.3 0h1.7m0.3 0h3.7m12.3 0h1.7m23.3 0h1.7m-56.7 1h1.7m10.3 0h1.7m3.3 0h1.7m7.3 0h1.7m3.3 0h1.7m0.3 0h1.7m15.3 0h1.7m3.3 0h1.7m11.3 0h1.7m-55.7 1h1.7m0.3 0h1.7m2.3 0h1.7m1.3 0h1.7m1.3 0h1.7m7.3 0h1.7m36.3 0h1.7m-71.7 1h1.7m0.3 0h1.7m1.3 0h2.7m3.3 0h1.7m3.3 0h1.7m0.3 0h1.7m2.3 0h1.7m0.3 0h2.7m1.3 0h4.7m4.3 0h1.7m23.3 0h1.7m5.3 0h1.7m-66.7 1h1.7m1.3 0h1.7m0.3 0h3.7m1.3 0h2.7m0.3 0h5.7m0.3 0h17.7m8.3 0h1.7m0.3 0h1.7m15.3 0h1.7m0.3 0h1.7m-74.7 1h1.7m4.3 0h1.7m0.3 0h38.7m14.3 0h1.7m-62.7 1h1.7m1.3 0h2.7m0.3 0h2.7m0.3 0h1.7m0.3 0h38.7m3.3 0h2.7m16.3 0h1.7m-73.7 1h3.7m0.3 0h2.7m2.3 0h42.7m13.3 0h1.7m-66.7 1h1.7m0.3 0h2.7m0.3 0h47.7m-52.7 1h1.7m2.3 0h50.7m0.3 0h3.7m-58.7 1h6.7m0.3 0h48.7m5.3 0h1.7m-62.7 1h1.7m0.3 0h3.7m1.3 0h47.7m-54.7 1h1.7m1.3 0h3.7m1.3 0h41.7m0.3 0h5.7m2.3 0h1.7m-59.7 1h1.7m0.3 0h53.7m5.3 0h1.7m-62.7 1h1.7m1.3 0h51.7m0.3 0h1.7m0.3 0h1.7m4.3 0h1.7m-62.7 1h6.7m0.3 0h44.7m1.3 0h1.7m-56.7 1h2.7m0.3 0h1.7m0.3 0h46.7m5.3 0h1.7m-58.7 1h1.7m3.3 0h29.7m0.3 0h18.7m2.3 0h1.7m1.3 0h1.7m13.3 0h2.7m-76.7 1h1.7m0.3 0h11.7m0.3 0h34.7m1.3 0h1.7m2.3 0h1.7m1.3 0h1.7m-56.7 1h3.7m0.3 0h1.7m0.3 0h1.7m0.3 0h5.7m0.3 0h29.7m3.3 0h1.7m11.3 0h1.7m-63.7 1h1.7m2.3 0h2.7m0.3 0h1.7m0.3 0h1.7m0.3 0h1.7m2.3 0h2.7m3.3 0h1.7m0.3 0h2.7m0.3 0h13.7m3.3 0h1.7m3.3 0h1.7m59.3 0h1.7m-107.7 1h1.7m0.3 0h4.7m4.3 0h2.7m0.3 0h1.7m1.3 0h1.7m3.3 0h3.7m2.3 0h1.7m6.3 0h1.7m6.3 0h1.7m8.3 0h1.7m1.3 0h1.7m-61.7 1h1.7m1.3 0h1.7m7.3 0h2.7m6.3 0h1.7m8.3 0h1.7m9.3 0h1.7m1.3 0h1.7m11.3 0h1.7m16.3 0h1.7m-62.7 1h1.7m1.3 0h2.7m13.3 0h1.7m1.3 0h3.7m0.3 0h2.7m-43.7 1h1.7m2.3 0h1.7m7.3 0h1.7m18.3 0h1.7m4.3 0h1.7m-24.7 1h1.7m7.3 0h1.7m16.3 0h1.7m12.3 0h1.7m-13.7 1h1.7m-27.7 1h1.7m12.3 1h1.7m36.3 0h1.7m-62.7 1h1.7m46.3 0h1.7m-55.7 1h1.7m15.3 0h1.7m89.3 0h1.7m-77.7 1h1.7m-18.7 1h1.7m15.3 0h1.7m31.3 1h1.7m-22.7 1h1.7m-28.7 1h1.7m116.3 2h1.7m30.3 0h1.7m-50.7 2h1.7m-114.7 2h1.7m61.3 0h1.7m8.3 0h1.7m6.3 1h1.7m-43.7 1h1.7m28.3 0h1.7m11.3 0h1.7m1.3 0h1.7m-78.7 1h1.7m21.3 0h1.7m35.3 0h1.7m6.3 0h1.7m3.3 0h1.7m2.3 0h1.7m-66.7 1h1.7m14.3 0h1.7m41.3 0h1.7m11.3 0h1.7m-65.7 1h1.7m37.3 0h1.7m14.3 0h1.7m1.3 0h1.7m-88.7 1h1.7m35.3 1h1.7m29.3 0h1.7m12.3 0h1.7m0.3 0h1.7m1.3 0h1.7m2.3 0h1.7m6.3 0h1.7m-81.7 1h1.7m19.3 0h1.7m19.3 0h1.7m6.3 0h1.7m2.3 0h1.7m8.3 0h1.7m1.3 0h1.7m21.3 0h1.7m62.3 0h1.7m-175.7 1h2.7m9.3 0h1.7m8.3 0h1.7m34.3 0h1.7m18.3 0h1.7m2.3 0h1.7m6.3 0h1.7m9.3 0h1.7m-101.7 1h1.7m9.3 0h1.7m7.3 0h1.7m6.3 0h1.7m10.3 0h1.7m1.3 0h1.7m8.3 0h1.7m13.3 0h1.7m9.3 0h1.7m2.3 0h1.7m1.3 0h1.7m72.3 0h1.7m-159.7 1h2.7m3.3 0h1.7m5.3 0h1.7m12.3 0h1.7m14.3 0h1.7m10.3 0h1.7m2.3 0h1.7m14.3 0h1.7m1.3 0h1.7m11.3 0h1.7m1.3 0h1.7m-105.7 1h1.7m7.3 0h1.7m8.3 0h1.7m4.3 0h1.7m1.3 0h1.7m5.3 0h1.7m3.3 0h1.7m2.3 0h1.7m5.3 0h1.7m17.3 0h1.7m7.3 0h1.7m2.3 0h1.7m0.3 0h1.7m5.3 0h1.7m11.3 0h1.7m26.3 0h1.7m-131.7 1h1.7m0.3 0h1.7m1.3 0h1.7m8.3 0h2.7m2.3 0h1.7m0.3 0h2.7m3.3 0h2.7m0.3 0h2.7m0.3 0h4.7m0.3 0h1.7m2.3 0h1.7m13.3 0h1.7m0.3 0h1.7m2.3 0h1.7m2.3 0h1.7m8.3 0h1.7m0.3 0h1.7m0.3 0h2.7m1.3 0h2.7m1.3 0h1.7m2.3 0h2.7m2.3 0h1.7m26.3 0h1.7m-124.7 1h1.7m0.3 0h1.7m3.3 0h1.7m8.3 0h1.7m1.3 0h16.7m1.3 0h4.7m1.3 0h1.7m1.3 0h2.7m0.3 0h3.7m11.3 0h1.7m2.3 0h1.7m1.3 0h1.7m6.3 0h1.7m2.3 0h1.7m4.3 0h1.7m-98.7 1h1.7m2.3 0h1.7m3.3 0h1.7m0.3 0h2.7m1.3 0h1.7m3.3 0h1.7m4.3 0h20.7m2.3 0h2.7m1.3 0h1.7m2.3 0h1.7m2.3 0h2.7m1.3 0h1.7m6.3 0h1.7m0.3 0h1.7m0.3 0h1.7m4.3 0h1.7m3.3 0h1.7m1.3 0h1.7m-87.7 1h3.7m0.3 0h2.7m2.3 0h1.7m0.3 0h1.7m6.3 0h24.7m0.3 0h4.7m2.3 0h1.7m2.3 0h1.7m6.3 0h1.7m2.3 0h1.7m8.3 0h2.7m21.3 0h1.7m-95.7 1h4.7m0.3 0h1.7m1.3 0h1.7m0.3 0h18.7m0.3 0h8.7m0.3 0h3.7m4.3 0h1.7m0.3 0h1.7m0.3 0h1.7m3.3 0h1.7m3.3 0h3.7m0.3 0h2.7m4.3 0h1.7m0.3 0h2.7m1.3 0h1.7m2.3 0h2.7m-94.7 1h1.7m2.3 0h1.7m0.3 0h18.7m0.3 0h25.7m0.3 0h5.7m3.3 0h1.7m0.3 0h1.7m1.3 0h1.7m0.3 0h2.7m0.3 0h1.7m1.3 0h1.7m15.3 0h1.7m-91.7 1h1.7m1.3 0h2.7m0.3 0h9.7m0.3 0h37.7m0.3 0h1.7m1.3 0h2.7m0.3 0h1.7m2.3 0h2.7m1.3 0h1.7m1.3 0h1.7m3.3 0h1.7m0.3 0h1.7m8.3 0h1.7m0.3 0h1.7m-91.7 1h1.7m0.3 0h1.7m0.3 0h5.7m0.3 0h47.7m2.3 0h1.7m0.3 0h2.7m0.3 0h1.7m8.3 0h1.7m2.3 0h2.7m0.3 0h1.7m0.3 0h2.7m3.3 0h1.7m8.3 0h1.7m5.3 0h1.7m-108.7 1h2.7m0.3 0h3.7m0.3 0h47.7m0.3 0h1.7m0.3 0h2.7m3.3 0h1.7m1.3 0h2.7m0.3 0h1.7m0.3 0h1.7m19.3 0h1.7m1.3 0h1.7m0.3 0h1.7m-99.7 1h53.7m0.3 0h1.7m0.3 0h1.7m0.3 0h2.7m0.3 0h1.7m0.3 0h3.7m1.3 0h1.7m0.3 0h1.7m3.3 0h2.7m9.3 0h1.7m4.3 0h1.7m-94.7 1h12.7m0.3 0h46.7m1.3 0h9.7m1.3 0h2.7m0.3 0h1.7m0.3 0h1.7m0.3 0h1.7m3.3 0h1.7m3.3 0h1.7m61.3 0h1.7m-152.7 1h19.7m0.3 0h36.7m0.3 0h1.7m3.3 0h1.7m0.3 0h1.7m1.3 0h1.7m1.3 0h1.7m3.3 0h1.7m7.3 0h1.7m11.3 0h1.7m37.3 0h1.7m27.3 0h1.7m1.3 0h1.7m-170.7 1h1.7m0.3 0h1.7m0.3 0h40.7m0.3 0h12.7m0.3 0h1.7m2.3 0h2.7m1.3 0h3.7m0.3 0h2.7m8.3 0h1.7m1.3 0h1.7m-85.7 1h55.7m0.3 0h2.7m0.3 0h2.7m3.3 0h1.7m0.3 0h2.7m1.3 0h1.7m5.3 0h1.7m1.3 0h1.7m6.3 0h1.7m2.3 0h1.7m-92.7 1h13.7m0.3 0h39.7m3.3 0h1.7m1.3 0h3.7m6.3 0h1.7m0.3 0h1.7m0.3 0h1.7m3.3 0h1.7m4.3 0h1.7m4.3 0h1.7m4.3 0h1.7m-100.7 1h57.7m4.3 0h1.7m1.3 0h5.7m1.3 0h2.7m1.3 0h1.7m8.3 0h1.7m12.3 0h1.7m66.3 0h1.7m14.3 0h1.7m-185.7 1h4.7m1.3 0h49.7m0.3 0h1.7m0.3 0h1.7m0.3 0h2.7m3.3 0h3.7m2.3 0h1.7m4.3 0h1.7m-79.7 1h6.7m0.3 0h48.7m0.3 0h2.7m0.3 0h4.7m4.3 0h2.7m1.3 0h2.7m1.3 0h1.7m23.3 0h1.7m-102.7 1h31.7m0.3 0h25.7m0.3 0h1.7m5.3 0h2.7m6.3 0h1.7m4.3 0h1.7m19.3 0h1.7m-101.7 1h5.7m0.3 0h50.7m0.3 0h2.7m2.3 0h1.7m1.3 0h1.7m1.3 0h1.7m3.3 0h1.7m1.3 0h1.7m40.3 0h1.7m-120.7 1h57.7m8.3 0h1.7m5.3 0h1.7m12.3 0h1.7m73.3 0h1.7m-163.7 1h1.7m0.3 0h12.7m0.3 0h41.7m0.3 0h1.7m1.3 0h3.7m3.3 0h1.7m1.3 0h1.7m8.3 0h1.7m-81.7 1h11.7m0.3 0h44.7m0.3 0h2.7m0.3 0h2.7m0.3 0h1.7m4.3 0h2.7m-71.7 1h55.7m2.3 0h1.7m0.3 0h1.7m7.3 0h1.7m-70.7 1h7.7m0.3 0h47.7m0.3 0h1.7m2.3 0h1.7m0.3 0h1.7m0.3 0h1.7m2.3 0h1.7m7.3 0h1.7m-78.7 1h5.7m0.3 0h27.7m0.3 0h21.7m0.3 0h1.7m1.3 0h1.7m0.3 0h4.7m0.3 0h1.7m0.3 0h1.7m26.3 0h1.7m49.3 0h1.7m-145.7 1h2.7m0.3 0h5.7m0.3 0h44.7m0.3 0h1.7m1.3 0h1.7m4.3 0h2.7m0.3 0h1.7m0.3 0h1.7m16.3 0h2.7m49.3 0h1.7m15.3 0h2.7m-160.7 1h58.7m3.3 0h1.7m0.3 0h1.7m0.3 0h1.7m0.3 0h1.7m8.3 0h1.7m23.3 0h1.7m-103.7 1h46.7m0.3 0h6.7m0.3 0h1.7m3.3 0h4.7m0.3 0h2.7m1.3 0h1.7m0.3 0h1.7m-71.7 1h4.7m0.3 0h48.7m4.3 0h1.7m0.3 0h1.7m0.3 0h3.7m5.3 0h1.7m-73.7 1h57.7m0.3 0h2.7m0.3 0h9.7m2.3 0h1.7m10.3 0h1.7" stroke="#000" stroke-width="1.7" fill="none"/>
<rect x="324" y="578.4" width="186.60000000000002" height="133.89999999999998" fill="none" stroke="#000" stroke-width="1.6"/>
<path d="M425.2 578.4V712.3M324 662H510.6" stroke="#000" stroke-width="1.6" fill="none"/>
<path d="M324.8 712.3v6.8M371.0 712.3v6.8M417.1 712.3v6.8M463.2 712.3v6.8M509.4 712.3v6.8M338.7 712.3v4M346.8 712.3v4M352.6 712.3v4M357.1 712.3v4M360.7 712.3v4M363.8 712.3v4M366.5 712.3v4M368.8 712.3v4M384.8 712.3v4M393.0 712.3v4M398.7 712.3v4M403.2 712.3v4M406.9 712.3v4M410.0 712.3v4M412.6 712.3v4M415.0 712.3v4M431.0 712.3v4M439.1 712.3v4M444.9 712.3v4M449.4 712.3v4M453.0 712.3v4M456.1 712.3v4M458.8 712.3v4M461.1 712.3v4M477.1 712.3v4M485.3 712.3v4M491.0 712.3v4M495.5 712.3v4M499.2 712.3v4M502.3 712.3v4M504.9 712.3v4M507.3 712.3v4M324 711.0h-6.6M324 678.0h-6.6M324 645.0h-6.6M324 612.0h-6.6M324 579.0h-6.6M324 701.1h-3.9M324 695.3h-3.9M324 691.1h-3.9M324 687.9h-3.9M324 685.3h-3.9M324 683.1h-3.9M324 681.2h-3.9M324 679.5h-3.9M324 668.1h-3.9M324 662.3h-3.9M324 658.1h-3.9M324 654.9h-3.9M324 652.3h-3.9M324 650.1h-3.9M324 648.2h-3.9M324 646.5h-3.9M324 635.1h-3.9M324 629.3h-3.9M324 625.1h-3.9M324 621.9h-3.9M324 619.3h-3.9M324 617.1h-3.9M324 615.2h-3.9M324 613.5h-3.9M324 602.1h-3.9M324 596.3h-3.9M324 592.1h-3.9M324 588.9h-3.9M324 586.3h-3.9M324 584.1h-3.9M324 582.2h-3.9M324 580.5h-3.9" stroke="#000" stroke-width="1.5" fill="none"/>
<text class="f-sans" x="315.8" y="734.5" font-size="14" textLength="12" lengthAdjust="spacingAndGlyphs">10</text>
<text class="f-sans" x="329.0" y="727.0" font-size="13.5" textLength="6.2" lengthAdjust="spacingAndGlyphs">0</text>
<text class="f-sans" x="362.0" y="734.5" font-size="14" textLength="12" lengthAdjust="spacingAndGlyphs">10</text>
<text class="f-sans" x="375.2" y="727.0" font-size="13.5" textLength="6.2" lengthAdjust="spacingAndGlyphs">1</text>
<text class="f-sans" x="408.1" y="734.5" font-size="14" textLength="12" lengthAdjust="spacingAndGlyphs">10</text>
<text class="f-sans" x="421.3" y="727.0" font-size="13.5" textLength="6.2" lengthAdjust="spacingAndGlyphs">2</text>
<text class="f-sans" x="454.2" y="734.5" font-size="14" textLength="12" lengthAdjust="spacingAndGlyphs">10</text>
<text class="f-sans" x="467.4" y="727.0" font-size="13.5" textLength="6.2" lengthAdjust="spacingAndGlyphs">3</text>
<text class="f-sans" x="500.4" y="734.5" font-size="14" textLength="12" lengthAdjust="spacingAndGlyphs">10</text>
<text class="f-sans" x="513.6" y="727.0" font-size="13.5" textLength="6.2" lengthAdjust="spacingAndGlyphs">4</text>
<text class="f-sans" transform="translate(312.6 720.4) rotate(-90)" font-size="14.6" textLength="11.7" lengthAdjust="spacingAndGlyphs">10</text>
<text class="f-sans" transform="translate(304.4 705.6) rotate(-90)" font-size="13.8" textLength="6.4" lengthAdjust="spacingAndGlyphs">0</text>
<text class="f-sans" transform="translate(312.6 687.4) rotate(-90)" font-size="14.6" textLength="11.7" lengthAdjust="spacingAndGlyphs">10</text>
<text class="f-sans" transform="translate(304.4 672.6) rotate(-90)" font-size="13.8" textLength="6.4" lengthAdjust="spacingAndGlyphs">1</text>
<text class="f-sans" transform="translate(312.6 654.4) rotate(-90)" font-size="14.6" textLength="11.7" lengthAdjust="spacingAndGlyphs">10</text>
<text class="f-sans" transform="translate(304.4 639.6) rotate(-90)" font-size="13.8" textLength="6.4" lengthAdjust="spacingAndGlyphs">2</text>
<text class="f-sans" transform="translate(312.6 621.4) rotate(-90)" font-size="14.6" textLength="11.7" lengthAdjust="spacingAndGlyphs">10</text>
<text class="f-sans" transform="translate(304.4 606.6) rotate(-90)" font-size="13.8" textLength="6.4" lengthAdjust="spacingAndGlyphs">3</text>
<text class="f-sans" transform="translate(312.6 588.4) rotate(-90)" font-size="14.6" textLength="11.7" lengthAdjust="spacingAndGlyphs">10</text>
<g clip-path="url(#cl1)"><text class="f-sans" transform="translate(304.4 573.6) rotate(-90)" font-size="13.8" textLength="6.4" lengthAdjust="spacingAndGlyphs">4</text></g>
<text class="f-sans" x="386" y="748.3" font-size="13.2" textLength="61.3" lengthAdjust="spacingAndGlyphs">Cd42b-PE</text>
<text class="f-sans" transform="translate(293.5 682.5) rotate(-90)" font-size="13.8" textLength="71" lengthAdjust="spacingAndGlyphs">Ter119-APC</text>
<text class="f-serif" x="335.5" y="598.9" font-size="20" font-weight="bold" textLength="39" lengthAdjust="spacingAndGlyphs">27%</text>
<text class="f-serif" x="455.8" y="707.6" font-size="20" font-weight="bold" textLength="54.1" lengthAdjust="spacingAndGlyphs">0.91%</text>
</g>
<path d="M64.7,812.5 66.7,812.0 68.0,814.0 69.4,809.0 70.6,812.0 71.5,818.5 72.5,805.8 73.3,812.0 74.2,819.0 75.5,816.0 76.3,821.0 77.5,822.0 78.2,834.0 79.5,835.4 80.2,848.8 81.3,850.0 82.2,846.0 82.9,854.0 84.2,859.6 84.9,874.4 86.9,875.8 88.0,879.5 89.6,878.4 90.6,881.5 91.6,879.8 93.7,886.5 96.0,888.0 98.0,889.5 100.0,891.0 103.0,892.0 106.0,893.0 109.0,892.5 111.8,894.0 113.0,891.5 114.5,894.7 116.0,893.0 117.7,899.4 119.9,899.0 121.0,902.0 124.0,902.6 126.0,904.5 128.0,903.5 130.4,905.2 134.0,905.0 137.0,906.5 140.0,906.4 144.0,907.6 149.4,907.7 156.0,908.6 165.0,909.0 184.0,909.6 259.0,910.0 L259,911 L64.7,911Z" fill="#d3d3d3" stroke="none"/>
<path d="M64.7,812.5 66.7,812.0 68.0,814.0 69.4,809.0 70.6,812.0 71.5,818.5 72.5,805.8 73.3,812.0 74.2,819.0 75.5,816.0 76.3,821.0 77.5,822.0 78.2,834.0 79.5,835.4 80.2,848.8 81.3,850.0 82.2,846.0 82.9,854.0 84.2,859.6 84.9,874.4 86.9,875.8 88.0,879.5 89.6,878.4 90.6,881.5 91.6,879.8 93.7,886.5 96.0,888.0 98.0,889.5 100.0,891.0 103.0,892.0 106.0,893.0 109.0,892.5 111.8,894.0 113.0,891.5 114.5,894.7 116.0,893.0 117.7,899.4 119.9,899.0 121.0,902.0 124.0,902.6 126.0,904.5 128.0,903.5 130.4,905.2 134.0,905.0 137.0,906.5 140.0,906.4 144.0,907.6 149.4,907.7 156.0,908.6 165.0,909.0 184.0,909.6 259.0,910.0" fill="none" stroke="#000" stroke-width="1.3" stroke-linejoin="miter"/>
<path d="M64.7,854.0H66.5V856.0H68.0V857.5H69.4V859.6H70.5V863.0H71.5V865.0H73.5V870.4H75.5V875.8H77.0V878.0H78.2V881.0H80.2V886.5H81.6V892.0H83.0V889.5H84.9V889.2H86.5V890.5H88.3V886.5H90.3V889.0H92.0V890.5H94.3V889.2H96.5V890.0H98.4V892.0H99.6V889.0H101.0V882.5H102.4V886.0H103.8V883.8H105.1V889.2H106.8V890.0H108.5V893.3H110.0V890.0H111.8V889.2H114.0V888.0H115.9V886.5H118.0V885.5H119.9V883.2H122.0V884.5H123.5V882.5H125.3V882.5H127.2V884.2H129.5V885.0H132.0V888.3H134.5V889.0H136.7V891.5H140.0V894.0H143.0V897.9H146.0V899.0H149.4V902.6H152.5V903.0H155.8V905.2H159.0V904.5H162.0V905.8H165.0V906.0H168.5V907.4H172.0V906.5H175.0V905.8H178.0V905.2H181.0V906.5H184.4V907.4H190.0V907.8H200.0V908.3H215.0V908.6H232.0V909.0H245.0V909.2H257.0V909.4" fill="none" stroke="#000" stroke-width="2.9" stroke-linejoin="miter"/>
<path d="M63 771.5H260.4V911" fill="none" stroke="#000" stroke-width="1.6"/>
<path d="M63 770.7V912" stroke="#000" stroke-width="3.6" fill="none"/>
<path d="M61.2 911.3H261.2" stroke="#000" stroke-width="1.4" fill="none"/>
<path d="M259.7 868V911" stroke="#000" stroke-width="2.6" fill="none"/>
<path d="M63.4 911v7.5M112.5 911v7.5M161.5 911v7.5M210.6 911v7.5M259.7 911v7.5M78.2 911v4M86.8 911v4M92.9 911v4M97.7 911v4M101.6 911v4M104.9 911v4M107.7 911v4M110.2 911v4M127.2 911v4M135.9 911v4M142.0 911v4M146.8 911v4M150.7 911v4M153.9 911v4M156.8 911v4M159.3 911v4M176.3 911v4M185.0 911v4M191.1 911v4M195.9 911v4M199.7 911v4M203.0 911v4M205.9 911v4M208.4 911v4M225.4 911v4M234.0 911v4M240.2 911v4M244.9 911v4M248.8 911v4M252.1 911v4M254.9 911v4M257.5 911v4" stroke="#000" stroke-width="1.25" fill="none"/>
<path d="M63 910.6h-9.2M63 905.1h-6M63 899.5h-6M63 894.0h-6M63 888.5h-6M63 883.0h-9.2M63 877.4h-6M63 871.9h-6M63 866.4h-6M63 860.8h-6M63 855.3h-9.2M63 849.8h-6M63 844.3h-6M63 838.7h-6M63 833.2h-6M63 827.7h-9.2M63 822.2h-6M63 816.6h-6M63 811.1h-6M63 805.6h-6M63 800.0h-9.2M63 794.5h-6M63 789.0h-6M63 783.5h-6M63 777.9h-6M63 772.4h-9.2" stroke="#000" stroke-width="1.6" fill="none"/>
<text class="f-sans" x="52.4" y="932.4" font-size="13.4" textLength="11.8" lengthAdjust="spacingAndGlyphs">10</text>
<text class="f-sans" x="65.6" y="927" font-size="13.4" textLength="6.2" lengthAdjust="spacingAndGlyphs">0</text>
<text class="f-sans" x="102.6" y="932.4" font-size="13.4" textLength="11.8" lengthAdjust="spacingAndGlyphs">10</text>
<text class="f-sans" x="115.8" y="927" font-size="13.4" textLength="6.2" lengthAdjust="spacingAndGlyphs">1</text>
<text class="f-sans" x="152.2" y="932.4" font-size="13.4" textLength="11.8" lengthAdjust="spacingAndGlyphs">10</text>
<text class="f-sans" x="165.4" y="927" font-size="13.4" textLength="6.2" lengthAdjust="spacingAndGlyphs">2</text>
<text class="f-sans" x="199.8" y="932.4" font-size="13.4" textLength="11.8" lengthAdjust="spacingAndGlyphs">10</text>
<text class="f-sans" x="213.0" y="927" font-size="13.4" textLength="6.2" lengthAdjust="spacingAndGlyphs">3</text>
<text class="f-sans" x="250.5" y="932.4" font-size="13.4" textLength="11.8" lengthAdjust="spacingAndGlyphs">10</text>
<text class="f-sans" x="263.7" y="927" font-size="13.4" textLength="6.2" lengthAdjust="spacingAndGlyphs">4</text>
<text class="f-sans" transform="translate(49.6 913.7) rotate(-90)" font-size="12.2" textLength="6.8" lengthAdjust="spacingAndGlyphs">0</text>
<text class="f-sans" transform="translate(49.6 888.7) rotate(-90)" font-size="12.2" textLength="12" lengthAdjust="spacingAndGlyphs">20</text>
<text class="f-sans" transform="translate(49.6 861.0) rotate(-90)" font-size="12.2" textLength="12" lengthAdjust="spacingAndGlyphs">40</text>
<text class="f-sans" transform="translate(49.6 833.4) rotate(-90)" font-size="12.2" textLength="12" lengthAdjust="spacingAndGlyphs">60</text>
<text class="f-sans" transform="translate(49.6 805.7) rotate(-90)" font-size="12.2" textLength="12" lengthAdjust="spacingAndGlyphs">80</text>
<text class="f-sans" transform="translate(49.6 779.9) rotate(-90)" font-size="12.2" textLength="18" lengthAdjust="spacingAndGlyphs">100</text>
<text class="f-sans" transform="translate(32.6 864.2) rotate(-90)" font-size="12.6" textLength="39.5" lengthAdjust="spacingAndGlyphs">Counts</text>
<text class="f-sans" x="129.6" y="947.6" font-size="13.2" textLength="57.6" lengthAdjust="spacingAndGlyphs">CD41 PE</text>
<path d="M129 783V806.3M129 793.8H260.4" stroke="#000" stroke-width="1.5" fill="none"/>
<text class="f-serif" x="162" y="789.6" font-size="17.5" font-weight="bold" textLength="55" lengthAdjust="spacingAndGlyphs">CD41+</text>
<text class="f-serif" x="110.4" y="833.8" font-size="19.6" font-weight="bold" textLength="81" lengthAdjust="spacingAndGlyphs">WT Jak2</text>
<text class="f-serif" x="142.6" y="870.8" font-size="19.6" font-weight="bold" textLength="106" lengthAdjust="spacingAndGlyphs">Jak2 T875N</text>
<path d="M108 827.4L93 833.2" stroke="#000" stroke-width="1.6"/>
<polygon points="81.2,840.9 91.4,827.6 98.6,840.9" fill="#000"/>
<path d="M166 873.6L147 884" stroke="#000" stroke-width="1.6"/>
<polygon points="134.8,890 142.8,877.8 151.5,890" fill="#000"/>
</svg>
</body></html>
